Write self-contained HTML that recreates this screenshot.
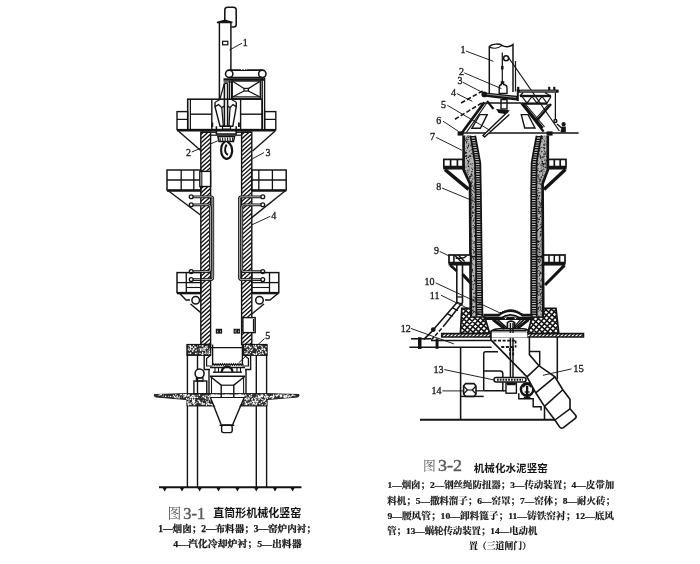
<!DOCTYPE html>
<html lang="zh"><head><meta charset="utf-8"><title>图3-1 直筒形机械化竖窑 / 图3-2 机械化水泥竖窑</title>
<style>
html,body{margin:0;padding:0;background:#fff;}
body{width:700px;height:564px;overflow:hidden;font-family:"Liberation Serif",serif;}
svg{display:block;filter:blur(0.45px);}
svg text{font-family:"Liberation Serif",serif;fill:#1e1e1e;stroke:#1e1e1e;stroke-width:0.35px;}
</style></head><body>
<svg width="700" height="564" viewBox="0 0 700 564" fill="none" stroke="#141414" stroke-linecap="butt" stroke-linejoin="miter">
<rect width="700" height="564" fill="#fff" stroke="none"/>
<g id="fig31">
<path d="M224.8 21V10Q224.8 7.2 227.6 7.2H233.4Q236.2 7.2 236.2 10V24.6Q236.2 27 233.6 27H231.2" stroke-width="1.55" fill="none" />
<path d="M219.4 22.5L219.4 99" stroke-width="1.47" />
<path d="M230.9 22.5L230.9 70" stroke-width="1.47" />
<path d="M217 22.4L225 20.4L232.4 22.4L217 22.4Z" stroke-width="1.55" fill="#141414" />
<rect x="222.6" y="41.3" width="5.2" height="3.5" rx="0" stroke-width="1.24" fill="none" />
<path d="M242 43.2L229.5 50" stroke-width="0.93" />
<text x="245.3" y="45.8" font-size="10" text-anchor="middle" >1</text>
<circle cx="229.2" cy="73.8" r="3.7" stroke-width="1.55" fill="none" />
<circle cx="262.3" cy="73.8" r="3.7" stroke-width="1.55" fill="none" />
<path d="M229.2 70.1L262.3 70.1" stroke-width="1.86" />
<path d="M229.2 77.5L262.3 77.5" stroke-width="1.55" />
<path d="M241 69.2L247 69.2" stroke-width="1.55" stroke="#fff" stroke-dasharray="1.2 1.5"/>
<path d="M223.5 79.6L264 79.6" stroke-width="2.48" />
<path d="M223.5 82L232 82" stroke-width="1.24" />
<rect x="232.2" y="81" width="28.2" height="17.8" rx="0" stroke-width="1.4" fill="none" />
<path d="M233 81.6L244 88.6" stroke-width="1.24" fill="none" />
<path d="M259.6 81.6L248.4 88.6" stroke-width="1.24" fill="none" />
<rect x="244" y="88.4" width="4.4" height="2.6" rx="0" stroke-width="1.24" fill="none" />
<path d="M244 91L233 96.8" stroke-width="1.24" fill="none" />
<path d="M248.4 91L259.6 96.8" stroke-width="1.24" fill="none" />
<path d="M232.2 96.9L260.4 96.9" stroke-width="1.24" />
<path d="M262.2 77.5L262.2 129.6" stroke-width="1.4" />
<path d="M264.6 77.5L264.6 129.6" stroke-width="1.4" />
<path d="M229.6 80.6L229.6 99.5" stroke-width="1.24" />
<path d="M231.6 80.6L231.6 99.5" stroke-width="1.24" />
<path d="M224.4 83.5L224.4 126" stroke-width="1.55" />
<path d="M227.6 83.5L227.6 126" stroke-width="1.55" />
<path d="M224.4 83.5L227.6 83.5" stroke-width="1.24" />
<path d="M224.2 84L220 98.8" stroke-width="1.24" />
<rect x="187.7" y="99.2" width="74.5" height="30.4" rx="0" stroke-width="1.55" fill="none" />
<path d="M190.4 99.2L190.4 129.6" stroke-width="1.24" />
<path d="M211.8 99.2L211.8 129.6" stroke-width="1.4" />
<path d="M240.6 99.2L240.6 129.6" stroke-width="1.4" />
<path d="M190.4 114.2L211.8 114.2" stroke-width="1.4" />
<path d="M240.6 114.2L262.2 114.2" stroke-width="1.4" />
<rect x="177" y="111.6" width="10.7" height="18" rx="0" stroke-width="1.4" fill="none" />
<path d="M177 119.4L187.7 119.4" stroke-width="1.24" />
<rect x="264.6" y="111.6" width="11.2" height="18" rx="0" stroke-width="1.4" fill="none" />
<path d="M264.6 119.4L275.8 119.4" stroke-width="1.24" />
<path d="M177 130.3L275.8 130.3" stroke-width="2.63" />
<path d="M178.6 131.3L200.4 150.3" stroke-width="1.4" fill="none" />
<path d="M274.9 131.3L252.6 151" stroke-width="1.4" fill="none" />
<path d="M215 102.3L215 106.6L220 126.2L232.8 126.2L236.3 106.6L236.3 102.3" stroke-width="1.4" fill="none" />
<path d="M215 106.6L218.6 104.6L221.8 107.6L224.4 106" stroke-width="1.24" fill="none" />
<path d="M236.3 106.6L233 104.6L230 107.6L227.6 106" stroke-width="1.24" fill="none" />
<path d="M221.8 107.6L223.3 126" stroke-width="1.24" fill="none" />
<path d="M230 107.6L229 126" stroke-width="1.24" fill="none" />
<path d="M215 102.3L220 99.5" stroke-width="1.08" fill="none" />
<path d="M236.3 102.3L231.6 99.5" stroke-width="1.08" fill="none" />
<path d="M216.4 126.2L216.4 134L236.2 134L236.2 126.2" stroke-width="1.55" fill="none" />
<rect x="222.5" y="126.2" width="8" height="3" rx="0" stroke-width="1.24" fill="none" />
<path d="M212.3 122.5L212.3 127" stroke-width="1.86" />
<path d="M238.9 122.5L238.9 127" stroke-width="1.86" />
<path d="M217.9 136.6H234.6L233.5 141.5H219Z" stroke-width="1.4" fill="none" />
<path d="M220 137.5L220.3 141.3" stroke-width="1.08" />
<path d="M222.5 137.5L222.8 141.3" stroke-width="1.08" />
<path d="M225 137.5L225.3 141.3" stroke-width="1.08" />
<path d="M227.5 137.5L227.8 141.3" stroke-width="1.08" />
<path d="M230 137.5L230.3 141.3" stroke-width="1.08" />
<path d="M232.5 137.5L232.8 141.3" stroke-width="1.08" />
<path d="M216 135.2L236.6 135.2" stroke-width="1.24" />
<path d="M225 141.6C219.6 145 220 156 225.4 158.6C231 160 233.4 152 231.4 146.4C230.4 143.8 228.6 142.4 227.4 141.6" stroke-width="2.17" fill="none" />
<path d="M226.6 144.6C224.2 148.6 224.6 153.6 228 154.8" stroke-width="2.02" fill="none" />
<path d="M191.8 152L217.8 140.8" stroke-width="0.93" />
<text x="188.5" y="156" font-size="10" text-anchor="middle" >2</text>
<path d="M264 152.6L249 160.6" stroke-width="0.93" />
<text x="268" y="155.5" font-size="10" text-anchor="middle" >3</text>
<clipPath id="c1"><path d="M200.8 132.2L210.6 132.2L210.6 344.5L200.8 344.5Z"/></clipPath>
<path d="M200.8 132.2L210.6 132.2L210.6 344.5L200.8 344.5Z" fill="#fff" stroke="none"/>
<path clip-path="url(#c1)" d="M52.8 230.34L213.71 85.45M54.88 232.64L215.79 87.76M56.95 234.94L217.86 90.06M59.03 237.25L219.94 92.36M61.1 239.55L222.01 94.67M63.17 241.86L224.08 96.97M65.25 244.16L226.16 99.28M67.32 246.46L228.23 101.58M69.4 248.77L230.31 103.88M71.47 251.07L232.38 106.19M73.55 253.37L234.46 108.49M75.62 255.68L236.53 110.79M77.69 257.98L238.6 113.1M79.77 260.29L240.68 115.4M81.84 262.59L242.75 117.71M83.92 264.89L244.83 120.01M85.99 267.2L246.9 122.31M88.07 269.5L248.98 124.62M90.14 271.8L251.05 126.92M92.21 274.11L253.12 129.22M94.29 276.41L255.2 131.53M96.36 278.72L257.27 133.83M98.44 281.02L259.35 136.14M100.51 283.32L261.42 138.44M102.59 285.63L263.5 140.74M104.66 287.93L265.57 143.05M106.73 290.23L267.64 145.35M108.81 292.54L269.72 147.65M110.88 294.84L271.79 149.96M112.96 297.15L273.87 152.26M115.03 299.45L275.94 154.57M117.11 301.75L278.02 156.87M119.18 304.06L280.09 159.17M121.25 306.36L282.17 161.48M123.33 308.66L284.24 163.78M125.4 310.97L286.31 166.08M127.48 313.27L288.39 168.39M129.55 315.58L290.46 170.69M131.63 317.88L292.54 173M133.7 320.18L294.61 175.3M135.77 322.49L296.69 177.6M137.85 324.79L298.76 179.91M139.92 327.09L300.83 182.21M142 329.4L302.91 184.51M144.07 331.7L304.98 186.82M146.15 334.01L307.06 189.12M148.22 336.31L309.13 191.43M150.3 338.61L311.21 193.73M152.37 340.92L313.28 196.03M154.44 343.22L315.35 198.34M156.52 345.52L317.43 200.64M158.59 347.83L319.5 202.94M160.67 350.13L321.58 205.25M162.74 352.44L323.65 207.55M164.82 354.74L325.73 209.86M166.89 357.04L327.8 212.16M168.96 359.35L329.87 214.46M171.04 361.65L331.95 216.77M173.11 363.95L334.02 219.07M175.19 366.26L336.1 221.37M177.26 368.56L338.17 223.68M179.34 370.87L340.25 225.98M181.41 373.17L342.32 228.29M183.48 375.47L344.39 230.59M185.56 377.78L346.47 232.89M187.63 380.08L348.54 235.2M189.71 382.38L350.62 237.5M191.78 384.69L352.69 239.8M193.86 386.99L354.77 242.11M195.93 389.3L356.84 244.41" stroke-width="1.35"/>
<path d="M200.8 132.2L210.6 132.2L210.6 344.5L200.8 344.5Z" stroke-width="1.4" fill="none" />
<clipPath id="c2"><path d="M241.6 132.2L251.8 132.2L251.8 344.5L241.6 344.5Z"/></clipPath>
<path d="M241.6 132.2L251.8 132.2L251.8 344.5L241.6 344.5Z" fill="#fff" stroke="none"/>
<path clip-path="url(#c2)" d="M93.79 230.34L254.71 85.44M95.86 232.64L256.79 87.74M97.94 234.94L258.86 90.05M100.01 237.25L260.94 92.35M102.09 239.55L263.01 94.65M104.16 241.86L265.09 96.96M106.24 244.16L267.16 99.26M108.31 246.46L269.23 101.57M110.38 248.77L271.31 103.87M112.46 251.07L273.38 106.17M114.53 253.37L275.46 108.48M116.61 255.68L277.53 110.78M118.68 257.98L279.61 113.08M120.76 260.29L281.68 115.39M122.83 262.59L283.75 117.69M124.9 264.89L285.83 120M126.98 267.2L287.9 122.3M129.05 269.5L289.98 124.6M131.13 271.8L292.05 126.91M133.2 274.11L294.13 129.21M135.28 276.41L296.2 131.51M137.35 278.72L298.27 133.82M139.42 281.02L300.35 136.12M141.5 283.32L302.42 138.43M143.57 285.63L304.5 140.73M145.65 287.93L306.57 143.03M147.72 290.23L308.65 145.34M149.8 292.54L310.72 147.64M151.87 294.84L312.79 149.94M153.94 297.15L314.87 152.25M156.02 299.45L316.94 154.55M158.09 301.75L319.02 156.86M160.17 304.06L321.09 159.16M162.24 306.36L323.17 161.46M164.32 308.66L325.24 163.77M166.39 310.97L327.31 166.07M168.46 313.27L329.39 168.37M170.54 315.58L331.46 170.68M172.61 317.88L333.54 172.98M174.69 320.18L335.61 175.29M176.76 322.49L337.69 177.59M178.84 324.79L339.76 179.89M180.91 327.09L341.83 182.2M182.98 329.4L343.91 184.5M185.06 331.7L345.98 186.8M187.13 334.01L348.06 189.11M189.21 336.31L350.13 191.41M191.28 338.61L352.21 193.72M193.36 340.92L354.28 196.02M195.43 343.22L356.35 198.32M197.5 345.52L358.43 200.63M199.58 347.83L360.5 202.93M201.65 350.13L362.58 205.23M203.73 352.43L364.65 207.54M205.8 354.74L366.73 209.84M207.88 357.04L368.8 212.15M209.95 359.35L370.87 214.45M212.02 361.65L372.95 216.75M214.1 363.95L375.02 219.06M216.17 366.26L377.1 221.36M218.25 368.56L379.17 223.66M220.32 370.86L381.25 225.97M222.4 373.17L383.32 228.27M224.47 375.47L385.39 230.58M226.54 377.78L387.47 232.88M228.62 380.08L389.54 235.18M230.69 382.38L391.62 237.49M232.77 384.69L393.69 239.79M234.84 386.99L395.77 242.09M236.92 389.29L397.84 244.4" stroke-width="1.35"/>
<path d="M241.6 132.2L251.8 132.2L251.8 344.5L241.6 344.5Z" stroke-width="1.4" fill="none" />
<path d="M200.8 132.2L216.4 132.2" stroke-width="1.4" />
<path d="M236.2 132.2L251.8 132.2" stroke-width="1.4" />
<path d="M210.6 135.2L216.4 135.2" stroke-width="1.24" fill="none" />
<path d="M236.2 135.2L241.6 135.2" stroke-width="1.24" fill="none" />
<rect x="167" y="170" width="33.8" height="20" rx="0" stroke-width="1.47" fill="none" />
<rect x="251.8" y="170" width="34.4" height="20" rx="0" stroke-width="1.47" fill="none" />
<path d="M167 180L200.8 180" stroke-width="1.32" />
<path d="M251.8 180L286.2 180" stroke-width="1.32" />
<path d="M181.2 170L181.2 190" stroke-width="1.32" />
<path d="M193.8 170L193.8 190" stroke-width="1.32" />
<path d="M258.8 170L258.8 190" stroke-width="1.32" />
<path d="M272.4 170L272.4 190" stroke-width="1.32" />
<rect x="199.8" y="171.4" width="10.8" height="15.1" rx="0" stroke-width="1.4" fill="#fff" />
<path d="M201.8 171.4L201.8 186.5" stroke-width="1.08" />
<path d="M167 190.7L200.8 190.7" stroke-width="2.02" />
<path d="M251.8 190.7L286.2 190.7" stroke-width="2.02" />
<path d="M168.6 191L200.8 215.3" stroke-width="1.4" fill="none" />
<path d="M285 191L251.8 217.6" stroke-width="1.4" fill="none" />
<path d="M192.8 196.8H210.8Q212.8 196.8 212.8 198.8V277.6Q212.8 279.6 210.8 279.6H192.8" stroke-width="2.7"/>
<path d="M192.8 196.8H210.8Q212.8 196.8 212.8 198.8V277.6Q212.8 279.6 210.8 279.6H192.8" stroke="#fff" stroke-width="0.7"/>
<circle cx="191.2" cy="196.8" r="1.9" stroke-width="1.32" fill="#fff" />
<circle cx="191.2" cy="279.6" r="1.9" stroke-width="1.32" fill="#fff" />
<path d="M192.8 204.8H208.4Q210.4 204.8 210.4 206.8V269.6Q210.4 271.6 208.4 271.6H192.8" stroke-width="2.7"/>
<path d="M192.8 204.8H208.4Q210.4 204.8 210.4 206.8V269.6Q210.4 271.6 208.4 271.6H192.8" stroke="#fff" stroke-width="0.7"/>
<circle cx="191.2" cy="204.8" r="1.9" stroke-width="1.32" fill="#fff" />
<circle cx="191.2" cy="271.6" r="1.9" stroke-width="1.32" fill="#fff" />
<path d="M261.2 196.8H241.4Q239.4 196.8 239.4 198.8V277.6Q239.4 279.6 241.4 279.6H261.2" stroke-width="2.7"/>
<path d="M261.2 196.8H241.4Q239.4 196.8 239.4 198.8V277.6Q239.4 279.6 241.4 279.6H261.2" stroke="#fff" stroke-width="0.7"/>
<circle cx="262.8" cy="196.8" r="1.9" stroke-width="1.32" fill="#fff" />
<circle cx="262.8" cy="279.6" r="1.9" stroke-width="1.32" fill="#fff" />
<path d="M261.2 204.8H243.8Q241.8 204.8 241.8 206.8V269.6Q241.8 271.6 243.8 271.6H261.2" stroke-width="2.7"/>
<path d="M261.2 204.8H243.8Q241.8 204.8 241.8 206.8V269.6Q241.8 271.6 243.8 271.6H261.2" stroke="#fff" stroke-width="0.7"/>
<circle cx="262.8" cy="204.8" r="1.9" stroke-width="1.32" fill="#fff" />
<circle cx="262.8" cy="271.6" r="1.9" stroke-width="1.32" fill="#fff" />
<path d="M270.3 216.3L251.5 225" stroke-width="0.93" />
<text x="273.8" y="219" font-size="10" text-anchor="middle" >4</text>
<rect x="177" y="272.6" width="23.8" height="20" rx="0" stroke-width="1.47" fill="none" />
<rect x="251.8" y="272.6" width="27" height="20" rx="0" stroke-width="1.47" fill="none" />
<path d="M177 282.6L200.8 282.6" stroke-width="1.32" />
<path d="M251.8 282.6L278.8 282.6" stroke-width="1.32" />
<path d="M186.3 272.6L186.3 292.6" stroke-width="1.32" />
<path d="M269.5 272.6L269.5 292.6" stroke-width="1.32" />
<path d="M186.3 287.5L200.8 287.5" stroke-width="1.08" />
<path d="M251.8 287.5L269.5 287.5" stroke-width="1.08" />
<path d="M177 293.3L200.8 293.3" stroke-width="2.02" />
<path d="M251.8 293.3L278.8 293.3" stroke-width="2.02" />
<path d="M180 293.8L186 300L190 300" stroke-width="1.4" fill="none" />
<path d="M190.5 304L200.8 312.6" stroke-width="1.4" fill="none" />
<path d="M277.6 293.8L270 300L265 300" stroke-width="1.4" fill="none" />
<path d="M264 304L251.8 314" stroke-width="1.4" fill="none" />
<circle cx="195.7" cy="300.2" r="3.8" stroke-width="1.47" fill="#fff" />
<circle cx="259.5" cy="300.2" r="3.8" stroke-width="1.47" fill="#fff" />
<rect x="242.9" y="317.6" width="12.3" height="15" rx="0" stroke-width="1.4" fill="#fff" />
<path d="M253.6 319L253.6 331.5" stroke-width="1.4" />
<rect x="216.4" y="329.4" width="1.9" height="3.6" rx="0" stroke-width="1.24" fill="none" />
<rect x="219.6" y="329.4" width="1.9" height="3.6" rx="0" stroke-width="1.24" fill="none" />
<rect x="234.2" y="329.4" width="1.9" height="3.6" rx="0" stroke-width="1.24" fill="none" />
<rect x="237.4" y="329.4" width="1.9" height="3.6" rx="0" stroke-width="1.24" fill="none" />
<path d="M264.5 338.5L238.5 363" stroke-width="0.93" />
<text x="267.8" y="338.8" font-size="10" text-anchor="middle" >5</text>
<rect x="187" y="344.6" width="23.6" height="10.6" rx="0" stroke-width="1.4" fill="#2c2c2c" />
<path d="M194.28 346.79a0.71 0.71 0 1 0 1.42 0a0.71 0.71 0 1 0 -1.42 0M188.81 350.33a0.6 0.6 0 1 0 1.19 0a0.6 0.6 0 1 0 -1.19 0M188.62 350.07a0.46 0.46 0 1 0 0.93 0a0.46 0.46 0 1 0 -0.93 0M196.94 346.04a0.49 0.49 0 1 0 0.97 0a0.49 0.49 0 1 0 -0.97 0M196.72 353.01a0.5 0.5 0 1 0 1 0a0.5 0.5 0 1 0 -1 0M191.93 351.17a0.83 0.83 0 1 0 1.66 0a0.83 0.83 0 1 0 -1.66 0M199.77 349.05a0.84 0.84 0 1 0 1.68 0a0.84 0.84 0 1 0 -1.68 0M188.27 353.3a0.57 0.57 0 1 0 1.13 0a0.57 0.57 0 1 0 -1.13 0M190.43 346.48a0.57 0.57 0 1 0 1.15 0a0.57 0.57 0 1 0 -1.15 0M205.24 347.06a0.68 0.68 0 1 0 1.37 0a0.68 0.68 0 1 0 -1.37 0M201.31 348.83a0.67 0.67 0 1 0 1.34 0a0.67 0.67 0 1 0 -1.34 0M188.66 345.95a0.53 0.53 0 1 0 1.06 0a0.53 0.53 0 1 0 -1.06 0M202.33 349.33a0.58 0.58 0 1 0 1.15 0a0.58 0.58 0 1 0 -1.15 0M200.23 349.57a0.57 0.57 0 1 0 1.14 0a0.57 0.57 0 1 0 -1.14 0M204.89 351.83a0.55 0.55 0 1 0 1.1 0a0.55 0.55 0 1 0 -1.1 0M199.75 350.23a0.8 0.8 0 1 0 1.6 0a0.8 0.8 0 1 0 -1.6 0M203.15 348.05a0.84 0.84 0 1 0 1.68 0a0.84 0.84 0 1 0 -1.68 0M189.67 349.25a0.75 0.75 0 1 0 1.51 0a0.75 0.75 0 1 0 -1.51 0M190.71 349.9a0.47 0.47 0 1 0 0.93 0a0.47 0.47 0 1 0 -0.93 0M201.96 352.43a0.68 0.68 0 1 0 1.36 0a0.68 0.68 0 1 0 -1.36 0M206.51 348.29a0.73 0.73 0 1 0 1.46 0a0.73 0.73 0 1 0 -1.46 0M200.36 350.74a0.63 0.63 0 1 0 1.26 0a0.63 0.63 0 1 0 -1.26 0M205.81 354.09a0.64 0.64 0 1 0 1.28 0a0.64 0.64 0 1 0 -1.28 0M201.81 345.96a0.73 0.73 0 1 0 1.46 0a0.73 0.73 0 1 0 -1.46 0M201.39 354.54a0.78 0.78 0 1 0 1.56 0a0.78 0.78 0 1 0 -1.56 0M193.4 348.95a0.72 0.72 0 1 0 1.43 0a0.72 0.72 0 1 0 -1.43 0M187.78 349.65a0.52 0.52 0 1 0 1.03 0a0.52 0.52 0 1 0 -1.03 0M189.64 345.94a0.76 0.76 0 1 0 1.51 0a0.76 0.76 0 1 0 -1.51 0M190.06 347.68a0.61 0.61 0 1 0 1.21 0a0.61 0.61 0 1 0 -1.21 0M206.52 346.14a0.63 0.63 0 1 0 1.26 0a0.63 0.63 0 1 0 -1.26 0M199.22 353.53a0.78 0.78 0 1 0 1.56 0a0.78 0.78 0 1 0 -1.56 0M206.36 347.96a0.62 0.62 0 1 0 1.23 0a0.62 0.62 0 1 0 -1.23 0M194.93 353.53a0.83 0.83 0 1 0 1.67 0a0.83 0.83 0 1 0 -1.67 0M190.61 347.02a0.54 0.54 0 1 0 1.09 0a0.54 0.54 0 1 0 -1.09 0M192.29 349.86a0.69 0.69 0 1 0 1.37 0a0.69 0.69 0 1 0 -1.37 0M193.02 345.44a0.62 0.62 0 1 0 1.24 0a0.62 0.62 0 1 0 -1.24 0M195.17 350.61a0.83 0.83 0 1 0 1.66 0a0.83 0.83 0 1 0 -1.66 0M202.43 350.14a0.7 0.7 0 1 0 1.39 0a0.7 0.7 0 1 0 -1.39 0M202 345.9a0.81 0.81 0 1 0 1.62 0a0.81 0.81 0 1 0 -1.62 0M204.35 353.45a0.77 0.77 0 1 0 1.54 0a0.77 0.77 0 1 0 -1.54 0M196.02 349.07a0.49 0.49 0 1 0 0.98 0a0.49 0.49 0 1 0 -0.98 0M201.4 345.97a0.48 0.48 0 1 0 0.95 0a0.48 0.48 0 1 0 -0.95 0M191.85 346.89a0.59 0.59 0 1 0 1.17 0a0.59 0.59 0 1 0 -1.17 0M188.46 345.4a0.51 0.51 0 1 0 1.02 0a0.51 0.51 0 1 0 -1.02 0M189.59 348.75a0.46 0.46 0 1 0 0.92 0a0.46 0.46 0 1 0 -0.92 0M206.7 351.05a0.51 0.51 0 1 0 1.02 0a0.51 0.51 0 1 0 -1.02 0M192.8 348.6a0.6 0.6 0 1 0 1.19 0a0.6 0.6 0 1 0 -1.19 0M189.68 353.21a0.85 0.85 0 1 0 1.69 0a0.85 0.85 0 1 0 -1.69 0M197.66 349.85a0.48 0.48 0 1 0 0.97 0a0.48 0.48 0 1 0 -0.97 0M189.51 348.55a0.56 0.56 0 1 0 1.11 0a0.56 0.56 0 1 0 -1.11 0M205.74 346.89a0.46 0.46 0 1 0 0.92 0a0.46 0.46 0 1 0 -0.92 0M208.4 350.26a0.51 0.51 0 1 0 1.02 0a0.51 0.51 0 1 0 -1.02 0M199.2 345.65a0.66 0.66 0 1 0 1.32 0a0.66 0.66 0 1 0 -1.32 0M208.79 353.34a0.73 0.73 0 1 0 1.46 0a0.73 0.73 0 1 0 -1.46 0M193.08 348.77a0.52 0.52 0 1 0 1.03 0a0.52 0.52 0 1 0 -1.03 0M204.18 350.3a0.76 0.76 0 1 0 1.52 0a0.76 0.76 0 1 0 -1.52 0M194.34 347.45a0.77 0.77 0 1 0 1.55 0a0.77 0.77 0 1 0 -1.55 0M208.89 353.24a0.77 0.77 0 1 0 1.54 0a0.77 0.77 0 1 0 -1.54 0M205.43 352.21a0.54 0.54 0 1 0 1.08 0a0.54 0.54 0 1 0 -1.08 0M198.83 348.67a0.46 0.46 0 1 0 0.92 0a0.46 0.46 0 1 0 -0.92 0M187.87 347.97a0.55 0.55 0 1 0 1.11 0a0.55 0.55 0 1 0 -1.11 0M202.55 354.2a0.63 0.63 0 1 0 1.26 0a0.63 0.63 0 1 0 -1.26 0M207.77 354.49a0.83 0.83 0 1 0 1.66 0a0.83 0.83 0 1 0 -1.66 0M195.35 347.43a0.54 0.54 0 1 0 1.08 0a0.54 0.54 0 1 0 -1.08 0M191.47 347.28a0.7 0.7 0 1 0 1.4 0a0.7 0.7 0 1 0 -1.4 0M207.15 353.13a0.64 0.64 0 1 0 1.28 0a0.64 0.64 0 1 0 -1.28 0M201.81 352.76a0.48 0.48 0 1 0 0.97 0a0.48 0.48 0 1 0 -0.97 0M201.7 353.77a0.76 0.76 0 1 0 1.53 0a0.76 0.76 0 1 0 -1.53 0M203.93 349.8a0.52 0.52 0 1 0 1.04 0a0.52 0.52 0 1 0 -1.04 0M204.55 348.46a0.77 0.77 0 1 0 1.54 0a0.77 0.77 0 1 0 -1.54 0M208.76 349.04a0.61 0.61 0 1 0 1.22 0a0.61 0.61 0 1 0 -1.22 0M208.3 352.07a0.52 0.52 0 1 0 1.04 0a0.52 0.52 0 1 0 -1.04 0M189.81 346.79a0.81 0.81 0 1 0 1.62 0a0.81 0.81 0 1 0 -1.62 0M204.92 346.74a0.78 0.78 0 1 0 1.56 0a0.78 0.78 0 1 0 -1.56 0M208.97 351.45a0.59 0.59 0 1 0 1.18 0a0.59 0.59 0 1 0 -1.18 0" fill="#fff" stroke="none"/>
<rect x="243" y="344.6" width="24" height="10.6" rx="0" stroke-width="1.4" fill="#2c2c2c" />
<path d="M255.65 346.61a0.46 0.46 0 1 0 0.91 0a0.46 0.46 0 1 0 -0.91 0M265.08 351.38a0.66 0.66 0 1 0 1.32 0a0.66 0.66 0 1 0 -1.32 0M264.09 349.39a0.8 0.8 0 1 0 1.6 0a0.8 0.8 0 1 0 -1.6 0M261.89 347.34a0.55 0.55 0 1 0 1.1 0a0.55 0.55 0 1 0 -1.1 0M249.6 347.61a0.68 0.68 0 1 0 1.37 0a0.68 0.68 0 1 0 -1.37 0M249.01 349.25a0.5 0.5 0 1 0 1 0a0.5 0.5 0 1 0 -1 0M263.72 348.65a0.63 0.63 0 1 0 1.27 0a0.63 0.63 0 1 0 -1.27 0M256.28 353.72a0.62 0.62 0 1 0 1.24 0a0.62 0.62 0 1 0 -1.24 0M263.86 350.02a0.66 0.66 0 1 0 1.33 0a0.66 0.66 0 1 0 -1.33 0M254.91 345.57a0.63 0.63 0 1 0 1.25 0a0.63 0.63 0 1 0 -1.25 0M247.01 345.44a0.77 0.77 0 1 0 1.54 0a0.77 0.77 0 1 0 -1.54 0M246.79 349.76a0.74 0.74 0 1 0 1.48 0a0.74 0.74 0 1 0 -1.48 0M255.63 348.4a0.66 0.66 0 1 0 1.31 0a0.66 0.66 0 1 0 -1.31 0M255.77 352.62a0.49 0.49 0 1 0 0.98 0a0.49 0.49 0 1 0 -0.98 0M255.81 347.69a0.56 0.56 0 1 0 1.12 0a0.56 0.56 0 1 0 -1.12 0M260.53 350.07a0.67 0.67 0 1 0 1.35 0a0.67 0.67 0 1 0 -1.35 0M260.3 353.79a0.63 0.63 0 1 0 1.25 0a0.63 0.63 0 1 0 -1.25 0M256.91 350.05a0.65 0.65 0 1 0 1.31 0a0.65 0.65 0 1 0 -1.31 0M258.73 349.56a0.66 0.66 0 1 0 1.33 0a0.66 0.66 0 1 0 -1.33 0M253.77 354.06a0.73 0.73 0 1 0 1.46 0a0.73 0.73 0 1 0 -1.46 0M263.03 354.07a0.55 0.55 0 1 0 1.11 0a0.55 0.55 0 1 0 -1.11 0M255.57 354.08a0.79 0.79 0 1 0 1.57 0a0.79 0.79 0 1 0 -1.57 0M246.1 346.52a0.63 0.63 0 1 0 1.25 0a0.63 0.63 0 1 0 -1.25 0M244.77 347.61a0.48 0.48 0 1 0 0.96 0a0.48 0.48 0 1 0 -0.96 0M258.06 352.61a0.81 0.81 0 1 0 1.62 0a0.81 0.81 0 1 0 -1.62 0M246.41 351.99a0.71 0.71 0 1 0 1.43 0a0.71 0.71 0 1 0 -1.43 0M246.02 353.52a0.84 0.84 0 1 0 1.67 0a0.84 0.84 0 1 0 -1.67 0M248 354.16a0.61 0.61 0 1 0 1.22 0a0.61 0.61 0 1 0 -1.22 0M253.93 354.51a0.78 0.78 0 1 0 1.57 0a0.78 0.78 0 1 0 -1.57 0M246.63 349.37a0.66 0.66 0 1 0 1.31 0a0.66 0.66 0 1 0 -1.31 0M250.75 347.2a0.58 0.58 0 1 0 1.15 0a0.58 0.58 0 1 0 -1.15 0M259.39 345.58a0.67 0.67 0 1 0 1.34 0a0.67 0.67 0 1 0 -1.34 0M253.06 345.57a0.58 0.58 0 1 0 1.17 0a0.58 0.58 0 1 0 -1.17 0M257.35 350.11a0.48 0.48 0 1 0 0.95 0a0.48 0.48 0 1 0 -0.95 0M265.22 352.65a0.84 0.84 0 1 0 1.68 0a0.84 0.84 0 1 0 -1.68 0M245.52 347.84a0.47 0.47 0 1 0 0.93 0a0.47 0.47 0 1 0 -0.93 0M260.86 347.89a0.5 0.5 0 1 0 1 0a0.5 0.5 0 1 0 -1 0M252.45 353.79a0.78 0.78 0 1 0 1.56 0a0.78 0.78 0 1 0 -1.56 0M248.68 346.77a0.82 0.82 0 1 0 1.64 0a0.82 0.82 0 1 0 -1.64 0M256.12 351.84a0.49 0.49 0 1 0 0.97 0a0.49 0.49 0 1 0 -0.97 0M244.29 351.73a0.62 0.62 0 1 0 1.24 0a0.62 0.62 0 1 0 -1.24 0M244.55 354.03a0.7 0.7 0 1 0 1.41 0a0.7 0.7 0 1 0 -1.41 0M261.08 346.17a0.79 0.79 0 1 0 1.58 0a0.79 0.79 0 1 0 -1.58 0M244.49 353.34a0.63 0.63 0 1 0 1.26 0a0.63 0.63 0 1 0 -1.26 0M250.51 350.49a0.82 0.82 0 1 0 1.64 0a0.82 0.82 0 1 0 -1.64 0M249.05 346.59a0.66 0.66 0 1 0 1.32 0a0.66 0.66 0 1 0 -1.32 0M248.52 346.41a0.51 0.51 0 1 0 1.03 0a0.51 0.51 0 1 0 -1.03 0M244.17 347.26a0.57 0.57 0 1 0 1.15 0a0.57 0.57 0 1 0 -1.15 0M249.99 352.39a0.57 0.57 0 1 0 1.13 0a0.57 0.57 0 1 0 -1.13 0M254.41 347.04a0.59 0.59 0 1 0 1.18 0a0.59 0.59 0 1 0 -1.18 0M243.56 347.7a0.46 0.46 0 1 0 0.91 0a0.46 0.46 0 1 0 -0.91 0M259.79 350.47a0.53 0.53 0 1 0 1.05 0a0.53 0.53 0 1 0 -1.05 0M253.93 354a0.49 0.49 0 1 0 0.99 0a0.49 0.49 0 1 0 -0.99 0M261.62 349.38a0.65 0.65 0 1 0 1.3 0a0.65 0.65 0 1 0 -1.3 0M261.98 349.02a0.65 0.65 0 1 0 1.31 0a0.65 0.65 0 1 0 -1.31 0M258.69 354.44a0.59 0.59 0 1 0 1.17 0a0.59 0.59 0 1 0 -1.17 0M261.87 351.9a0.7 0.7 0 1 0 1.41 0a0.7 0.7 0 1 0 -1.41 0M252.36 348.6a0.47 0.47 0 1 0 0.94 0a0.47 0.47 0 1 0 -0.94 0M245.81 346.05a0.75 0.75 0 1 0 1.49 0a0.75 0.75 0 1 0 -1.49 0M248.94 346.9a0.48 0.48 0 1 0 0.97 0a0.48 0.48 0 1 0 -0.97 0M262.06 353.41a0.72 0.72 0 1 0 1.44 0a0.72 0.72 0 1 0 -1.44 0M249.46 347.63a0.57 0.57 0 1 0 1.13 0a0.57 0.57 0 1 0 -1.13 0M253.45 346.85a0.63 0.63 0 1 0 1.26 0a0.63 0.63 0 1 0 -1.26 0M248.76 354.25a0.84 0.84 0 1 0 1.68 0a0.84 0.84 0 1 0 -1.68 0M255.24 347.65a0.84 0.84 0 1 0 1.67 0a0.84 0.84 0 1 0 -1.67 0M250.21 348.68a0.45 0.45 0 1 0 0.9 0a0.45 0.45 0 1 0 -0.9 0M251.65 349.77a0.65 0.65 0 1 0 1.3 0a0.65 0.65 0 1 0 -1.3 0M247.73 350.04a0.45 0.45 0 1 0 0.9 0a0.45 0.45 0 1 0 -0.9 0M249.01 346.23a0.61 0.61 0 1 0 1.22 0a0.61 0.61 0 1 0 -1.22 0M243.98 345.61a0.57 0.57 0 1 0 1.14 0a0.57 0.57 0 1 0 -1.14 0M248.25 350.79a0.66 0.66 0 1 0 1.32 0a0.66 0.66 0 1 0 -1.32 0M259.98 351.45a0.74 0.74 0 1 0 1.47 0a0.74 0.74 0 1 0 -1.47 0M263.06 348.98a0.58 0.58 0 1 0 1.16 0a0.58 0.58 0 1 0 -1.16 0M265.31 346.78a0.74 0.74 0 1 0 1.48 0a0.74 0.74 0 1 0 -1.48 0M257.48 345.8a0.78 0.78 0 1 0 1.57 0a0.78 0.78 0 1 0 -1.57 0" fill="#fff" stroke="none"/>
<path d="M187.4 355.2L187.4 487" stroke-width="1.4" />
<path d="M197.5 355.2L197.5 487" stroke-width="1.4" />
<path d="M256.3 355.2L256.3 487" stroke-width="1.4" />
<path d="M266.6 355.2L266.6 487" stroke-width="1.4" />
<path d="M212.6 344.6L212.6 365.2" stroke-width="1.4" fill="none" />
<path d="M242.4 344.6L242.4 365.2" stroke-width="1.4" fill="none" />
<path d="M210.6 347.6L244.2 347.6" stroke-width="1.24" />
<path d="M210.6 355.2L204.2 355.2L204.2 369.5L210 369.5" stroke-width="1.4" fill="none" />
<path d="M244.2 355.2L250.6 355.2L250.6 369.5L245 369.5" stroke-width="1.4" fill="none" />
<path d="M210.6 355.2L206.6 358.5L206.6 366L212.6 366" stroke-width="1.24" fill="none" />
<path d="M244.2 355.2L248.4 358.5L248.4 366L242.4 366" stroke-width="1.24" fill="none" />
<path d="M212.6 365.3l1.1 -1.5l1.1 1.5l1.1 -1.5l1.1 1.5l1.1 -1.5l1.1 1.5l1.1 -1.5l1.1 1.5l1.1 -1.5l1.1 1.5l1.1 -1.5l1.1 1.5l1.1 -1.5l1.1 1.5l1.1 -1.5l1.1 1.5l1.1 -1.5l1.1 1.5l1.1 -1.5l1.1 1.5l1.1 -1.5l1.1 1.5l1.1 -1.5l1.1 1.5l1.1 -1.5l1.1 1.5l1.1 -1.5l1.1 1.5" stroke-width="1.24" fill="none" />
<path d="M210 367.4L245 367.4" stroke-width="1.55" />
<path d="M221.7 372A5.4 5.4 0 0 1 232.5 372" stroke-width="2.33" fill="none" />
<path d="M213 372.2L242 372.2" stroke-width="1.4" />
<path d="M215 367.5L215 372" stroke-width="1.08" />
<path d="M218.5 367.5L218.5 372" stroke-width="1.08" />
<path d="M237 367.5L237 372" stroke-width="1.08" />
<path d="M240.5 367.5L240.5 372" stroke-width="1.08" />
<path d="M209 369.5L209 376" stroke-width="1.4" />
<path d="M246 369.5L246 376" stroke-width="1.4" />
<circle cx="199.6" cy="373.4" r="4.5" stroke-width="1.55" fill="#fff" />
<rect x="196.4" y="377.9" width="6.6" height="3.1" rx="0" stroke-width="1.24" fill="none" />
<rect x="193.9" y="381" width="12.9" height="13" rx="0" stroke-width="1.4" fill="none" />
<path d="M209 376L209 394" stroke-width="1.4" />
<path d="M246 376L246 394" stroke-width="1.4" />
<path d="M211.5 376L211.5 394" stroke-width="1.08" />
<path d="M243.6 376L243.6 394" stroke-width="1.08" />
<path d="M210 376.2L245 376.2" stroke-width="1.55" fill="none" />
<path d="M210 376.2L221.2 385.2L221.2 394.5" stroke-width="1.4" fill="none" />
<path d="M245 376.2L233.8 385.2L233.8 394.5" stroke-width="1.4" fill="none" />
<path d="M221.2 385.2L233.8 385.2" stroke-width="1.24" />
<path d="M154.5 394.5L187 393.6H266L299 394.5Q299.5 396.5 297.5 397L267 399.6V406H187V399.6L156 397Q153.5 396.5 154.5 394.5Z" fill="#2c2c2c" stroke-width="0.9"/>
<path d="M258.77 403.53a0.51 0.51 0 1 0 1.01 0a0.51 0.51 0 1 0 -1.01 0M229.49 400.15a0.78 0.78 0 1 0 1.57 0a0.78 0.78 0 1 0 -1.57 0M237.88 404.42a0.72 0.72 0 1 0 1.45 0a0.72 0.72 0 1 0 -1.45 0M253.22 397.13a0.46 0.46 0 1 0 0.92 0a0.46 0.46 0 1 0 -0.92 0M234.38 401.51a0.7 0.7 0 1 0 1.4 0a0.7 0.7 0 1 0 -1.4 0M251.48 399.98a0.45 0.45 0 1 0 0.9 0a0.45 0.45 0 1 0 -0.9 0M226.7 400.49a0.71 0.71 0 1 0 1.43 0a0.71 0.71 0 1 0 -1.43 0M192.25 395.42a0.56 0.56 0 1 0 1.11 0a0.56 0.56 0 1 0 -1.11 0M257.9 396.86a0.75 0.75 0 1 0 1.49 0a0.75 0.75 0 1 0 -1.49 0M210.07 399.87a0.72 0.72 0 1 0 1.45 0a0.72 0.72 0 1 0 -1.45 0M263.13 401.39a0.71 0.71 0 1 0 1.41 0a0.71 0.71 0 1 0 -1.41 0M168.14 396.22a0.55 0.55 0 1 0 1.1 0a0.55 0.55 0 1 0 -1.1 0M259.89 397.95a0.68 0.68 0 1 0 1.35 0a0.68 0.68 0 1 0 -1.35 0M159.16 395.27a0.56 0.56 0 1 0 1.12 0a0.56 0.56 0 1 0 -1.12 0M250.02 402.21a0.72 0.72 0 1 0 1.44 0a0.72 0.72 0 1 0 -1.44 0M197.5 400.28a0.64 0.64 0 1 0 1.27 0a0.64 0.64 0 1 0 -1.27 0M221.55 395.9a0.81 0.81 0 1 0 1.61 0a0.81 0.81 0 1 0 -1.61 0M286.57 394.79a0.63 0.63 0 1 0 1.27 0a0.63 0.63 0 1 0 -1.27 0M219.49 397.56a0.53 0.53 0 1 0 1.07 0a0.53 0.53 0 1 0 -1.07 0M287.81 396.92a0.68 0.68 0 1 0 1.37 0a0.68 0.68 0 1 0 -1.37 0M288.7 396.06a0.78 0.78 0 1 0 1.56 0a0.78 0.78 0 1 0 -1.56 0M227.48 404.36a0.73 0.73 0 1 0 1.46 0a0.73 0.73 0 1 0 -1.46 0M189.29 404.47a0.64 0.64 0 1 0 1.29 0a0.64 0.64 0 1 0 -1.29 0M160.78 394.64a0.65 0.65 0 1 0 1.29 0a0.65 0.65 0 1 0 -1.29 0M219.7 397.92a0.51 0.51 0 1 0 1.01 0a0.51 0.51 0 1 0 -1.01 0M204.68 398.08a0.79 0.79 0 1 0 1.57 0a0.79 0.79 0 1 0 -1.57 0M272.98 395.92a0.82 0.82 0 1 0 1.64 0a0.82 0.82 0 1 0 -1.64 0M255.83 404.52a0.57 0.57 0 1 0 1.13 0a0.57 0.57 0 1 0 -1.13 0M208.52 398.92a0.85 0.85 0 1 0 1.7 0a0.85 0.85 0 1 0 -1.7 0M238.69 398.57a0.62 0.62 0 1 0 1.24 0a0.62 0.62 0 1 0 -1.24 0M195.48 395.13a0.49 0.49 0 1 0 0.98 0a0.49 0.49 0 1 0 -0.98 0M272.36 397.74a0.82 0.82 0 1 0 1.65 0a0.82 0.82 0 1 0 -1.65 0M191.75 397.52a0.65 0.65 0 1 0 1.31 0a0.65 0.65 0 1 0 -1.31 0M233.32 402.52a0.47 0.47 0 1 0 0.94 0a0.47 0.47 0 1 0 -0.94 0M258.31 399.56a0.75 0.75 0 1 0 1.5 0a0.75 0.75 0 1 0 -1.5 0M246.47 397.75a0.47 0.47 0 1 0 0.94 0a0.47 0.47 0 1 0 -0.94 0M285.26 396a0.64 0.64 0 1 0 1.28 0a0.64 0.64 0 1 0 -1.28 0M204.68 397.88a0.75 0.75 0 1 0 1.49 0a0.75 0.75 0 1 0 -1.49 0M247.85 397.91a0.67 0.67 0 1 0 1.35 0a0.67 0.67 0 1 0 -1.35 0M211.91 396.44a0.51 0.51 0 1 0 1.03 0a0.51 0.51 0 1 0 -1.03 0M225.78 397.02a0.81 0.81 0 1 0 1.63 0a0.81 0.81 0 1 0 -1.63 0M176.78 396.72a0.49 0.49 0 1 0 0.97 0a0.49 0.49 0 1 0 -0.97 0M204.64 395.6a0.55 0.55 0 1 0 1.09 0a0.55 0.55 0 1 0 -1.09 0M192.85 400.87a0.8 0.8 0 1 0 1.61 0a0.8 0.8 0 1 0 -1.61 0M260.84 399.14a0.62 0.62 0 1 0 1.23 0a0.62 0.62 0 1 0 -1.23 0M229.75 398.75a0.59 0.59 0 1 0 1.17 0a0.59 0.59 0 1 0 -1.17 0M290.89 395.98a0.65 0.65 0 1 0 1.3 0a0.65 0.65 0 1 0 -1.3 0M244.35 404.09a0.54 0.54 0 1 0 1.07 0a0.54 0.54 0 1 0 -1.07 0M194.79 397.33a0.61 0.61 0 1 0 1.22 0a0.61 0.61 0 1 0 -1.22 0M218.74 405.09a0.79 0.79 0 1 0 1.58 0a0.79 0.79 0 1 0 -1.58 0M278 394.84a0.46 0.46 0 1 0 0.93 0a0.46 0.46 0 1 0 -0.93 0M255.27 404.45a0.64 0.64 0 1 0 1.28 0a0.64 0.64 0 1 0 -1.28 0M238.42 394.6a0.61 0.61 0 1 0 1.21 0a0.61 0.61 0 1 0 -1.21 0M191.78 395.8a0.51 0.51 0 1 0 1.02 0a0.51 0.51 0 1 0 -1.02 0M229.26 402.1a0.83 0.83 0 1 0 1.65 0a0.83 0.83 0 1 0 -1.65 0M256.84 401.72a0.76 0.76 0 1 0 1.51 0a0.76 0.76 0 1 0 -1.51 0M220.65 400.67a0.47 0.47 0 1 0 0.93 0a0.47 0.47 0 1 0 -0.93 0M265.14 397.16a0.82 0.82 0 1 0 1.64 0a0.82 0.82 0 1 0 -1.64 0M246.58 397.94a0.5 0.5 0 1 0 1 0a0.5 0.5 0 1 0 -1 0M192.02 401.6a0.73 0.73 0 1 0 1.46 0a0.73 0.73 0 1 0 -1.46 0M172.81 395.37a0.66 0.66 0 1 0 1.32 0a0.66 0.66 0 1 0 -1.32 0M237.9 398.87a0.54 0.54 0 1 0 1.08 0a0.54 0.54 0 1 0 -1.08 0M240.38 394.72a0.57 0.57 0 1 0 1.14 0a0.57 0.57 0 1 0 -1.14 0M246.31 404.32a0.64 0.64 0 1 0 1.28 0a0.64 0.64 0 1 0 -1.28 0M189.56 397.32a0.83 0.83 0 1 0 1.67 0a0.83 0.83 0 1 0 -1.67 0M254.78 397.98a0.46 0.46 0 1 0 0.92 0a0.46 0.46 0 1 0 -0.92 0M226.15 402.02a0.62 0.62 0 1 0 1.24 0a0.62 0.62 0 1 0 -1.24 0M192.68 401.94a0.82 0.82 0 1 0 1.64 0a0.82 0.82 0 1 0 -1.64 0M188.71 394.98a0.59 0.59 0 1 0 1.17 0a0.59 0.59 0 1 0 -1.17 0M215.51 402.11a0.53 0.53 0 1 0 1.06 0a0.53 0.53 0 1 0 -1.06 0M226.84 396.86a0.84 0.84 0 1 0 1.68 0a0.84 0.84 0 1 0 -1.68 0M200.47 403.62a0.54 0.54 0 1 0 1.08 0a0.54 0.54 0 1 0 -1.08 0M187.99 402.97a0.57 0.57 0 1 0 1.14 0a0.57 0.57 0 1 0 -1.14 0M183.23 397.06a0.62 0.62 0 1 0 1.23 0a0.62 0.62 0 1 0 -1.23 0M249.3 405.04a0.51 0.51 0 1 0 1.02 0a0.51 0.51 0 1 0 -1.02 0M211.46 396.94a0.84 0.84 0 1 0 1.68 0a0.84 0.84 0 1 0 -1.68 0M177.11 395.17a0.47 0.47 0 1 0 0.95 0a0.47 0.47 0 1 0 -0.95 0M211.47 404.48a0.8 0.8 0 1 0 1.61 0a0.8 0.8 0 1 0 -1.61 0M260.27 394.95a0.72 0.72 0 1 0 1.43 0a0.72 0.72 0 1 0 -1.43 0M209.67 398.71a0.58 0.58 0 1 0 1.17 0a0.58 0.58 0 1 0 -1.17 0M180.8 394.63a0.56 0.56 0 1 0 1.12 0a0.56 0.56 0 1 0 -1.12 0M185.84 398.52a0.78 0.78 0 1 0 1.56 0a0.78 0.78 0 1 0 -1.56 0M208.91 404.71a0.53 0.53 0 1 0 1.05 0a0.53 0.53 0 1 0 -1.05 0M207.8 404.47a0.46 0.46 0 1 0 0.92 0a0.46 0.46 0 1 0 -0.92 0M213.93 403.53a0.76 0.76 0 1 0 1.51 0a0.76 0.76 0 1 0 -1.51 0M163.13 394.98a0.48 0.48 0 1 0 0.95 0a0.48 0.48 0 1 0 -0.95 0M284.22 397.43a0.75 0.75 0 1 0 1.5 0a0.75 0.75 0 1 0 -1.5 0M242.41 397.48a0.74 0.74 0 1 0 1.47 0a0.74 0.74 0 1 0 -1.47 0M201.22 397.63a0.45 0.45 0 1 0 0.9 0a0.45 0.45 0 1 0 -0.9 0M261.58 404.68a0.7 0.7 0 1 0 1.41 0a0.7 0.7 0 1 0 -1.41 0M287.62 394.87a0.54 0.54 0 1 0 1.09 0a0.54 0.54 0 1 0 -1.09 0M192 399.33a0.65 0.65 0 1 0 1.29 0a0.65 0.65 0 1 0 -1.29 0M285.31 396.61a0.77 0.77 0 1 0 1.54 0a0.77 0.77 0 1 0 -1.54 0M259.15 403.65a0.76 0.76 0 1 0 1.52 0a0.76 0.76 0 1 0 -1.52 0M241.22 398.21a0.58 0.58 0 1 0 1.16 0a0.58 0.58 0 1 0 -1.16 0M207.45 403.2a0.48 0.48 0 1 0 0.96 0a0.48 0.48 0 1 0 -0.96 0M191.66 395.31a0.46 0.46 0 1 0 0.93 0a0.46 0.46 0 1 0 -0.93 0M233.42 398.18a0.84 0.84 0 1 0 1.68 0a0.84 0.84 0 1 0 -1.68 0M194.07 395.52a0.49 0.49 0 1 0 0.98 0a0.49 0.49 0 1 0 -0.98 0M226.16 402.41a0.63 0.63 0 1 0 1.26 0a0.63 0.63 0 1 0 -1.26 0M189.62 399.19a0.7 0.7 0 1 0 1.4 0a0.7 0.7 0 1 0 -1.4 0M250.24 402.83a0.79 0.79 0 1 0 1.58 0a0.79 0.79 0 1 0 -1.58 0M248.9 395.93a0.79 0.79 0 1 0 1.57 0a0.79 0.79 0 1 0 -1.57 0M197.94 400.84a0.6 0.6 0 1 0 1.2 0a0.6 0.6 0 1 0 -1.2 0M259.3 396.79a0.55 0.55 0 1 0 1.1 0a0.55 0.55 0 1 0 -1.1 0M191.05 396.29a0.8 0.8 0 1 0 1.61 0a0.8 0.8 0 1 0 -1.61 0M237.19 398.19a0.61 0.61 0 1 0 1.22 0a0.61 0.61 0 1 0 -1.22 0M189.22 403.49a0.71 0.71 0 1 0 1.42 0a0.71 0.71 0 1 0 -1.42 0M294.11 395.73a0.64 0.64 0 1 0 1.28 0a0.64 0.64 0 1 0 -1.28 0M283.62 395.04a0.57 0.57 0 1 0 1.13 0a0.57 0.57 0 1 0 -1.13 0M173.61 396.69a0.84 0.84 0 1 0 1.68 0a0.84 0.84 0 1 0 -1.68 0M237.88 404.83a0.6 0.6 0 1 0 1.2 0a0.6 0.6 0 1 0 -1.2 0M193.04 403.16a0.83 0.83 0 1 0 1.66 0a0.83 0.83 0 1 0 -1.66 0M242.96 396.99a0.6 0.6 0 1 0 1.19 0a0.6 0.6 0 1 0 -1.19 0M176.96 396.84a0.55 0.55 0 1 0 1.1 0a0.55 0.55 0 1 0 -1.1 0M240.19 401.77a0.53 0.53 0 1 0 1.06 0a0.53 0.53 0 1 0 -1.06 0M251.03 396.64a0.57 0.57 0 1 0 1.15 0a0.57 0.57 0 1 0 -1.15 0M233.14 395.3a0.49 0.49 0 1 0 0.98 0a0.49 0.49 0 1 0 -0.98 0M211.85 400.65a0.71 0.71 0 1 0 1.41 0a0.71 0.71 0 1 0 -1.41 0M169.85 396.4a0.73 0.73 0 1 0 1.46 0a0.73 0.73 0 1 0 -1.46 0M213.98 397.72a0.57 0.57 0 1 0 1.15 0a0.57 0.57 0 1 0 -1.15 0M235.56 398.53a0.62 0.62 0 1 0 1.23 0a0.62 0.62 0 1 0 -1.23 0M207.46 396.77a0.74 0.74 0 1 0 1.48 0a0.74 0.74 0 1 0 -1.48 0M185.3 394.66a0.81 0.81 0 1 0 1.62 0a0.81 0.81 0 1 0 -1.62 0M215.87 403.62a0.61 0.61 0 1 0 1.22 0a0.61 0.61 0 1 0 -1.22 0M179.76 394.76a0.67 0.67 0 1 0 1.34 0a0.67 0.67 0 1 0 -1.34 0M245.93 404.61a0.49 0.49 0 1 0 0.97 0a0.49 0.49 0 1 0 -0.97 0M243.21 398.68a0.65 0.65 0 1 0 1.3 0a0.65 0.65 0 1 0 -1.3 0M177.47 397.72a0.66 0.66 0 1 0 1.32 0a0.66 0.66 0 1 0 -1.32 0M285.07 395.8a0.65 0.65 0 1 0 1.29 0a0.65 0.65 0 1 0 -1.29 0M184.41 395.99a0.83 0.83 0 1 0 1.65 0a0.83 0.83 0 1 0 -1.65 0M210.83 404.55a0.7 0.7 0 1 0 1.4 0a0.7 0.7 0 1 0 -1.4 0M271.02 396.36a0.76 0.76 0 1 0 1.53 0a0.76 0.76 0 1 0 -1.53 0M187.86 399.05a0.79 0.79 0 1 0 1.58 0a0.79 0.79 0 1 0 -1.58 0M271.89 396.61a0.54 0.54 0 1 0 1.07 0a0.54 0.54 0 1 0 -1.07 0M212.56 400.3a0.6 0.6 0 1 0 1.21 0a0.6 0.6 0 1 0 -1.21 0M174.24 397.32a0.74 0.74 0 1 0 1.48 0a0.74 0.74 0 1 0 -1.48 0M281.15 395.05a0.67 0.67 0 1 0 1.35 0a0.67 0.67 0 1 0 -1.35 0M261.74 395.02a0.79 0.79 0 1 0 1.57 0a0.79 0.79 0 1 0 -1.57 0M233.33 401.5a0.57 0.57 0 1 0 1.14 0a0.57 0.57 0 1 0 -1.14 0M215.35 401.01a0.62 0.62 0 1 0 1.24 0a0.62 0.62 0 1 0 -1.24 0M248.29 399.51a0.63 0.63 0 1 0 1.25 0a0.63 0.63 0 1 0 -1.25 0M224.8 397.19a0.76 0.76 0 1 0 1.51 0a0.76 0.76 0 1 0 -1.51 0M265.11 399.64a0.52 0.52 0 1 0 1.04 0a0.52 0.52 0 1 0 -1.04 0M222.8 395.78a0.5 0.5 0 1 0 1 0a0.5 0.5 0 1 0 -1 0M216.8 395.61a0.63 0.63 0 1 0 1.25 0a0.63 0.63 0 1 0 -1.25 0M227.7 395.05a0.7 0.7 0 1 0 1.41 0a0.7 0.7 0 1 0 -1.41 0M264.84 400.23a0.47 0.47 0 1 0 0.94 0a0.47 0.47 0 1 0 -0.94 0M226.71 398.76a0.83 0.83 0 1 0 1.66 0a0.83 0.83 0 1 0 -1.66 0M269.63 396.73a0.84 0.84 0 1 0 1.69 0a0.84 0.84 0 1 0 -1.69 0M283.65 396.42a0.77 0.77 0 1 0 1.53 0a0.77 0.77 0 1 0 -1.53 0M285.83 395.32a0.59 0.59 0 1 0 1.18 0a0.59 0.59 0 1 0 -1.18 0M261.54 396.35a0.81 0.81 0 1 0 1.62 0a0.81 0.81 0 1 0 -1.62 0M195.44 403.57a0.51 0.51 0 1 0 1.01 0a0.51 0.51 0 1 0 -1.01 0M226.77 404.72a0.53 0.53 0 1 0 1.07 0a0.53 0.53 0 1 0 -1.07 0M193.7 400.17a0.58 0.58 0 1 0 1.16 0a0.58 0.58 0 1 0 -1.16 0M162.57 396.6a0.51 0.51 0 1 0 1.03 0a0.51 0.51 0 1 0 -1.03 0M280.8 396.46a0.76 0.76 0 1 0 1.53 0a0.76 0.76 0 1 0 -1.53 0M245.01 398.56a0.8 0.8 0 1 0 1.6 0a0.8 0.8 0 1 0 -1.6 0M233.81 400.98a0.8 0.8 0 1 0 1.61 0a0.8 0.8 0 1 0 -1.61 0M244.14 398.94a0.77 0.77 0 1 0 1.54 0a0.77 0.77 0 1 0 -1.54 0M236.92 398.56a0.76 0.76 0 1 0 1.51 0a0.76 0.76 0 1 0 -1.51 0M218.29 396.54a0.75 0.75 0 1 0 1.49 0a0.75 0.75 0 1 0 -1.49 0M192.16 401.63a0.84 0.84 0 1 0 1.69 0a0.84 0.84 0 1 0 -1.69 0M238.28 401.9a0.58 0.58 0 1 0 1.15 0a0.58 0.58 0 1 0 -1.15 0M157.74 394.97a0.51 0.51 0 1 0 1.02 0a0.51 0.51 0 1 0 -1.02 0M242.36 399.35a0.66 0.66 0 1 0 1.31 0a0.66 0.66 0 1 0 -1.31 0M281.04 396.05a0.54 0.54 0 1 0 1.08 0a0.54 0.54 0 1 0 -1.08 0M247.68 394.85a0.45 0.45 0 1 0 0.9 0a0.45 0.45 0 1 0 -0.9 0M206.39 395.77a0.59 0.59 0 1 0 1.19 0a0.59 0.59 0 1 0 -1.19 0M188.26 401.02a0.69 0.69 0 1 0 1.37 0a0.69 0.69 0 1 0 -1.37 0M222.71 396.08a0.82 0.82 0 1 0 1.65 0a0.82 0.82 0 1 0 -1.65 0M191.13 396.24a0.49 0.49 0 1 0 0.98 0a0.49 0.49 0 1 0 -0.98 0M245.31 404.18a0.76 0.76 0 1 0 1.53 0a0.76 0.76 0 1 0 -1.53 0M213.01 397.51a0.45 0.45 0 1 0 0.91 0a0.45 0.45 0 1 0 -0.91 0M246.41 400.79a0.59 0.59 0 1 0 1.18 0a0.59 0.59 0 1 0 -1.18 0M246.27 399.48a0.82 0.82 0 1 0 1.65 0a0.82 0.82 0 1 0 -1.65 0M258.41 397.33a0.81 0.81 0 1 0 1.62 0a0.81 0.81 0 1 0 -1.62 0M213.55 397.21a0.47 0.47 0 1 0 0.95 0a0.47 0.47 0 1 0 -0.95 0M264.81 394.74a0.67 0.67 0 1 0 1.34 0a0.67 0.67 0 1 0 -1.34 0M287.32 396.16a0.53 0.53 0 1 0 1.06 0a0.53 0.53 0 1 0 -1.06 0M241.21 400.18a0.71 0.71 0 1 0 1.41 0a0.71 0.71 0 1 0 -1.41 0M269.67 396.52a0.57 0.57 0 1 0 1.15 0a0.57 0.57 0 1 0 -1.15 0M198.63 395.13a0.81 0.81 0 1 0 1.61 0a0.81 0.81 0 1 0 -1.61 0M265.6 402.47a0.45 0.45 0 1 0 0.91 0a0.45 0.45 0 1 0 -0.91 0M221.58 402.76a0.63 0.63 0 1 0 1.26 0a0.63 0.63 0 1 0 -1.26 0M188.64 395.76a0.54 0.54 0 1 0 1.09 0a0.54 0.54 0 1 0 -1.09 0M260.66 402.25a0.79 0.79 0 1 0 1.58 0a0.79 0.79 0 1 0 -1.58 0M255.54 397.53a0.67 0.67 0 1 0 1.34 0a0.67 0.67 0 1 0 -1.34 0M217.52 403.27a0.66 0.66 0 1 0 1.32 0a0.66 0.66 0 1 0 -1.32 0M193.77 401.66a0.84 0.84 0 1 0 1.67 0a0.84 0.84 0 1 0 -1.67 0M187.49 404.28a0.46 0.46 0 1 0 0.91 0a0.46 0.46 0 1 0 -0.91 0M193.18 397.2a0.75 0.75 0 1 0 1.5 0a0.75 0.75 0 1 0 -1.5 0M202.53 404.28a0.58 0.58 0 1 0 1.16 0a0.58 0.58 0 1 0 -1.16 0M190.3 404.58a0.7 0.7 0 1 0 1.4 0a0.7 0.7 0 1 0 -1.4 0M252.77 401.92a0.84 0.84 0 1 0 1.68 0a0.84 0.84 0 1 0 -1.68 0M222.06 403.84a0.73 0.73 0 1 0 1.46 0a0.73 0.73 0 1 0 -1.46 0M257.42 400.87a0.57 0.57 0 1 0 1.15 0a0.57 0.57 0 1 0 -1.15 0M186.77 401.45a0.48 0.48 0 1 0 0.96 0a0.48 0.48 0 1 0 -0.96 0M283.23 396.19a0.46 0.46 0 1 0 0.92 0a0.46 0.46 0 1 0 -0.92 0M205.13 396.16a0.46 0.46 0 1 0 0.92 0a0.46 0.46 0 1 0 -0.92 0M244.73 402.27a0.74 0.74 0 1 0 1.49 0a0.74 0.74 0 1 0 -1.49 0M207.37 403.59a0.78 0.78 0 1 0 1.56 0a0.78 0.78 0 1 0 -1.56 0M280.2 395.33a0.8 0.8 0 1 0 1.59 0a0.8 0.8 0 1 0 -1.59 0M172.29 396.86a0.49 0.49 0 1 0 0.99 0a0.49 0.49 0 1 0 -0.99 0M197.17 395.7a0.49 0.49 0 1 0 0.98 0a0.49 0.49 0 1 0 -0.98 0M261.94 396.85a0.58 0.58 0 1 0 1.16 0a0.58 0.58 0 1 0 -1.16 0M215.93 394.83a0.55 0.55 0 1 0 1.11 0a0.55 0.55 0 1 0 -1.11 0M196.4 402.47a0.6 0.6 0 1 0 1.19 0a0.6 0.6 0 1 0 -1.19 0M226.82 403.97a0.7 0.7 0 1 0 1.39 0a0.7 0.7 0 1 0 -1.39 0M217.64 403.1a0.59 0.59 0 1 0 1.18 0a0.59 0.59 0 1 0 -1.18 0M254.71 400.52a0.54 0.54 0 1 0 1.07 0a0.54 0.54 0 1 0 -1.07 0M276.21 395.6a0.78 0.78 0 1 0 1.56 0a0.78 0.78 0 1 0 -1.56 0M180.98 394.61a0.53 0.53 0 1 0 1.06 0a0.53 0.53 0 1 0 -1.06 0M225.3 403.36a0.52 0.52 0 1 0 1.05 0a0.52 0.52 0 1 0 -1.05 0M225.47 398.42a0.78 0.78 0 1 0 1.57 0a0.78 0.78 0 1 0 -1.57 0M193.4 404.98a0.56 0.56 0 1 0 1.13 0a0.56 0.56 0 1 0 -1.13 0M186.98 402.29a0.65 0.65 0 1 0 1.3 0a0.65 0.65 0 1 0 -1.3 0M253.51 403.26a0.7 0.7 0 1 0 1.4 0a0.7 0.7 0 1 0 -1.4 0M206.47 399.01a0.61 0.61 0 1 0 1.22 0a0.61 0.61 0 1 0 -1.22 0M280.07 395.55a0.81 0.81 0 1 0 1.61 0a0.81 0.81 0 1 0 -1.61 0M193.67 404.51a0.65 0.65 0 1 0 1.3 0a0.65 0.65 0 1 0 -1.3 0M209.8 404.32a0.54 0.54 0 1 0 1.09 0a0.54 0.54 0 1 0 -1.09 0M220.85 400.45a0.75 0.75 0 1 0 1.5 0a0.75 0.75 0 1 0 -1.5 0M261.32 401.71a0.59 0.59 0 1 0 1.18 0a0.59 0.59 0 1 0 -1.18 0M202.29 396.31a0.79 0.79 0 1 0 1.57 0a0.79 0.79 0 1 0 -1.57 0M248.85 402.76a0.52 0.52 0 1 0 1.04 0a0.52 0.52 0 1 0 -1.04 0M217.87 403.11a0.68 0.68 0 1 0 1.36 0a0.68 0.68 0 1 0 -1.36 0M279.62 397.22a0.53 0.53 0 1 0 1.05 0a0.53 0.53 0 1 0 -1.05 0M198.82 402.33a0.79 0.79 0 1 0 1.57 0a0.79 0.79 0 1 0 -1.57 0M178.78 396.32a0.55 0.55 0 1 0 1.1 0a0.55 0.55 0 1 0 -1.1 0M202.55 400.34a0.51 0.51 0 1 0 1.03 0a0.51 0.51 0 1 0 -1.03 0M202.43 396.68a0.84 0.84 0 1 0 1.68 0a0.84 0.84 0 1 0 -1.68 0M257.73 395.72a0.83 0.83 0 1 0 1.67 0a0.83 0.83 0 1 0 -1.67 0M258.67 399.38a0.53 0.53 0 1 0 1.06 0a0.53 0.53 0 1 0 -1.06 0M245.51 395.78a0.53 0.53 0 1 0 1.07 0a0.53 0.53 0 1 0 -1.07 0M210.98 394.97a0.61 0.61 0 1 0 1.22 0a0.61 0.61 0 1 0 -1.22 0M226.43 401.56a0.64 0.64 0 1 0 1.27 0a0.64 0.64 0 1 0 -1.27 0M213.04 402.75a0.81 0.81 0 1 0 1.63 0a0.81 0.81 0 1 0 -1.63 0M216.59 400.91a0.75 0.75 0 1 0 1.5 0a0.75 0.75 0 1 0 -1.5 0M215.38 397.11a0.74 0.74 0 1 0 1.48 0a0.74 0.74 0 1 0 -1.48 0M253.89 403.98a0.72 0.72 0 1 0 1.44 0a0.72 0.72 0 1 0 -1.44 0M245.96 399.59a0.58 0.58 0 1 0 1.15 0a0.58 0.58 0 1 0 -1.15 0M244.08 395.68a0.62 0.62 0 1 0 1.24 0a0.62 0.62 0 1 0 -1.24 0M265.27 402.44a0.7 0.7 0 1 0 1.4 0a0.7 0.7 0 1 0 -1.4 0M191.88 399.26a0.63 0.63 0 1 0 1.26 0a0.63 0.63 0 1 0 -1.26 0M243.06 399.1a0.72 0.72 0 1 0 1.44 0a0.72 0.72 0 1 0 -1.44 0M285.66 396.61a0.71 0.71 0 1 0 1.42 0a0.71 0.71 0 1 0 -1.42 0M264.74 398.88a0.65 0.65 0 1 0 1.29 0a0.65 0.65 0 1 0 -1.29 0M291.83 395.02a0.67 0.67 0 1 0 1.33 0a0.67 0.67 0 1 0 -1.33 0M232.01 402.49a0.65 0.65 0 1 0 1.31 0a0.65 0.65 0 1 0 -1.31 0M245.56 403.72a0.66 0.66 0 1 0 1.32 0a0.66 0.66 0 1 0 -1.32 0M214.09 405.03a0.53 0.53 0 1 0 1.07 0a0.53 0.53 0 1 0 -1.07 0M251.69 398.92a0.76 0.76 0 1 0 1.51 0a0.76 0.76 0 1 0 -1.51 0M206.5 395.22a0.56 0.56 0 1 0 1.12 0a0.56 0.56 0 1 0 -1.12 0M212.54 394.75a0.62 0.62 0 1 0 1.23 0a0.62 0.62 0 1 0 -1.23 0M215.44 402.28a0.59 0.59 0 1 0 1.18 0a0.59 0.59 0 1 0 -1.18 0M193.85 397.07a0.75 0.75 0 1 0 1.49 0a0.75 0.75 0 1 0 -1.49 0M187.6 403.42a0.61 0.61 0 1 0 1.21 0a0.61 0.61 0 1 0 -1.21 0M186.5 396.02a0.76 0.76 0 1 0 1.52 0a0.76 0.76 0 1 0 -1.52 0M222.2 400.78a0.54 0.54 0 1 0 1.08 0a0.54 0.54 0 1 0 -1.08 0M245.38 403.61a0.78 0.78 0 1 0 1.55 0a0.78 0.78 0 1 0 -1.55 0M221.93 397.84a0.67 0.67 0 1 0 1.34 0a0.67 0.67 0 1 0 -1.34 0M206.4 403.96a0.56 0.56 0 1 0 1.11 0a0.56 0.56 0 1 0 -1.11 0M209.29 397.39a0.62 0.62 0 1 0 1.24 0a0.62 0.62 0 1 0 -1.24 0M182.91 394.63a0.74 0.74 0 1 0 1.48 0a0.74 0.74 0 1 0 -1.48 0M196.24 397.29a0.57 0.57 0 1 0 1.14 0a0.57 0.57 0 1 0 -1.14 0M223.47 399.31a0.7 0.7 0 1 0 1.41 0a0.7 0.7 0 1 0 -1.41 0M248.16 398.59a0.82 0.82 0 1 0 1.64 0a0.82 0.82 0 1 0 -1.64 0M275.13 395.23a0.78 0.78 0 1 0 1.56 0a0.78 0.78 0 1 0 -1.56 0M244.92 394.76a0.45 0.45 0 1 0 0.91 0a0.45 0.45 0 1 0 -0.91 0M192 395.72a0.51 0.51 0 1 0 1.01 0a0.51 0.51 0 1 0 -1.01 0M189.65 403.14a0.59 0.59 0 1 0 1.18 0a0.59 0.59 0 1 0 -1.18 0M266.44 396.45a0.81 0.81 0 1 0 1.61 0a0.81 0.81 0 1 0 -1.61 0M241.24 403.19a0.72 0.72 0 1 0 1.43 0a0.72 0.72 0 1 0 -1.43 0M273.03 396.77a0.73 0.73 0 1 0 1.45 0a0.73 0.73 0 1 0 -1.45 0M230.62 402.76a0.63 0.63 0 1 0 1.25 0a0.63 0.63 0 1 0 -1.25 0M193.99 397.18a0.51 0.51 0 1 0 1.01 0a0.51 0.51 0 1 0 -1.01 0M225.41 395.24a0.64 0.64 0 1 0 1.27 0a0.64 0.64 0 1 0 -1.27 0M225.95 400.53a0.8 0.8 0 1 0 1.59 0a0.8 0.8 0 1 0 -1.59 0M221.86 400.79a0.72 0.72 0 1 0 1.43 0a0.72 0.72 0 1 0 -1.43 0M245.09 394.91a0.69 0.69 0 1 0 1.39 0a0.69 0.69 0 1 0 -1.39 0M251.61 404.85a0.58 0.58 0 1 0 1.16 0a0.58 0.58 0 1 0 -1.16 0M224.42 404.47a0.46 0.46 0 1 0 0.93 0a0.46 0.46 0 1 0 -0.93 0M256.52 401.48a0.59 0.59 0 1 0 1.17 0a0.59 0.59 0 1 0 -1.17 0M222.73 400.38a0.76 0.76 0 1 0 1.52 0a0.76 0.76 0 1 0 -1.52 0M186.46 399.39a0.62 0.62 0 1 0 1.24 0a0.62 0.62 0 1 0 -1.24 0M233.89 403.69a0.57 0.57 0 1 0 1.13 0a0.57 0.57 0 1 0 -1.13 0M226.86 397.59a0.65 0.65 0 1 0 1.31 0a0.65 0.65 0 1 0 -1.31 0M266.71 398.24a0.58 0.58 0 1 0 1.15 0a0.58 0.58 0 1 0 -1.15 0M198.59 401.05a0.7 0.7 0 1 0 1.41 0a0.7 0.7 0 1 0 -1.41 0M265.48 395.04a0.74 0.74 0 1 0 1.48 0a0.74 0.74 0 1 0 -1.48 0M247.99 403.28a0.81 0.81 0 1 0 1.63 0a0.81 0.81 0 1 0 -1.63 0M241.72 401.38a0.7 0.7 0 1 0 1.4 0a0.7 0.7 0 1 0 -1.4 0M253.38 401.16a0.72 0.72 0 1 0 1.44 0a0.72 0.72 0 1 0 -1.44 0M186.69 401.94a0.63 0.63 0 1 0 1.27 0a0.63 0.63 0 1 0 -1.27 0M262.73 395.71a0.52 0.52 0 1 0 1.05 0a0.52 0.52 0 1 0 -1.05 0M208.14 403.65a0.76 0.76 0 1 0 1.53 0a0.76 0.76 0 1 0 -1.53 0M235 397.44a0.57 0.57 0 1 0 1.14 0a0.57 0.57 0 1 0 -1.14 0M215.58 398.1a0.62 0.62 0 1 0 1.24 0a0.62 0.62 0 1 0 -1.24 0M246.09 404.87a0.47 0.47 0 1 0 0.94 0a0.47 0.47 0 1 0 -0.94 0M235.82 395.03a0.5 0.5 0 1 0 1 0a0.5 0.5 0 1 0 -1 0M238.85 404.91a0.84 0.84 0 1 0 1.68 0a0.84 0.84 0 1 0 -1.68 0M223.12 399.14a0.49 0.49 0 1 0 0.98 0a0.49 0.49 0 1 0 -0.98 0M246.43 396.94a0.51 0.51 0 1 0 1.02 0a0.51 0.51 0 1 0 -1.02 0M159.42 394.65a0.72 0.72 0 1 0 1.45 0a0.72 0.72 0 1 0 -1.45 0M175.06 394.8a0.74 0.74 0 1 0 1.48 0a0.74 0.74 0 1 0 -1.48 0M190.91 402.67a0.52 0.52 0 1 0 1.05 0a0.52 0.52 0 1 0 -1.05 0M255.73 404.01a0.74 0.74 0 1 0 1.48 0a0.74 0.74 0 1 0 -1.48 0M255.05 399.67a0.82 0.82 0 1 0 1.65 0a0.82 0.82 0 1 0 -1.65 0M256.52 394.73a0.46 0.46 0 1 0 0.91 0a0.46 0.46 0 1 0 -0.91 0M247.31 403.59a0.48 0.48 0 1 0 0.96 0a0.48 0.48 0 1 0 -0.96 0M200.41 402.62a0.52 0.52 0 1 0 1.03 0a0.52 0.52 0 1 0 -1.03 0M236.62 399.43a0.72 0.72 0 1 0 1.44 0a0.72 0.72 0 1 0 -1.44 0M207.43 401.69a0.7 0.7 0 1 0 1.4 0a0.7 0.7 0 1 0 -1.4 0M214.91 398.84a0.76 0.76 0 1 0 1.53 0a0.76 0.76 0 1 0 -1.53 0M235.75 397.82a0.47 0.47 0 1 0 0.95 0a0.47 0.47 0 1 0 -0.95 0M271.49 398.25a0.69 0.69 0 1 0 1.38 0a0.69 0.69 0 1 0 -1.38 0M240.34 397.99a0.62 0.62 0 1 0 1.24 0a0.62 0.62 0 1 0 -1.24 0M251.7 401.22a0.81 0.81 0 1 0 1.62 0a0.81 0.81 0 1 0 -1.62 0M268.98 397.72a0.45 0.45 0 1 0 0.9 0a0.45 0.45 0 1 0 -0.9 0M193.62 399.25a0.68 0.68 0 1 0 1.37 0a0.68 0.68 0 1 0 -1.37 0M236.13 397.61a0.79 0.79 0 1 0 1.58 0a0.79 0.79 0 1 0 -1.58 0M267.29 396.8a0.75 0.75 0 1 0 1.5 0a0.75 0.75 0 1 0 -1.5 0M285.88 397.17a0.69 0.69 0 1 0 1.39 0a0.69 0.69 0 1 0 -1.39 0M250.98 399.72a0.53 0.53 0 1 0 1.07 0a0.53 0.53 0 1 0 -1.07 0M192.39 402.86a0.77 0.77 0 1 0 1.53 0a0.77 0.77 0 1 0 -1.53 0M220.67 395.56a0.77 0.77 0 1 0 1.55 0a0.77 0.77 0 1 0 -1.55 0M263.88 397.16a0.68 0.68 0 1 0 1.36 0a0.68 0.68 0 1 0 -1.36 0M229.33 399.84a0.69 0.69 0 1 0 1.37 0a0.69 0.69 0 1 0 -1.37 0M183.58 396.72a0.52 0.52 0 1 0 1.04 0a0.52 0.52 0 1 0 -1.04 0M254.07 398.59a0.68 0.68 0 1 0 1.35 0a0.68 0.68 0 1 0 -1.35 0M213.03 400.29a0.51 0.51 0 1 0 1.02 0a0.51 0.51 0 1 0 -1.02 0M208.91 395.77a0.7 0.7 0 1 0 1.41 0a0.7 0.7 0 1 0 -1.41 0M265.97 396.32a0.69 0.69 0 1 0 1.38 0a0.69 0.69 0 1 0 -1.38 0M205.14 400.31a0.46 0.46 0 1 0 0.92 0a0.46 0.46 0 1 0 -0.92 0M235.51 397.48a0.76 0.76 0 1 0 1.52 0a0.76 0.76 0 1 0 -1.52 0M216.02 405.01a0.76 0.76 0 1 0 1.51 0a0.76 0.76 0 1 0 -1.51 0M192.52 395.02a0.53 0.53 0 1 0 1.06 0a0.53 0.53 0 1 0 -1.06 0M182.47 395.52a0.47 0.47 0 1 0 0.94 0a0.47 0.47 0 1 0 -0.94 0M234.29 404.18a0.63 0.63 0 1 0 1.27 0a0.63 0.63 0 1 0 -1.27 0M212.01 395.92a0.83 0.83 0 1 0 1.67 0a0.83 0.83 0 1 0 -1.67 0M192.79 400.81a0.71 0.71 0 1 0 1.41 0a0.71 0.71 0 1 0 -1.41 0M211.74 399.53a0.51 0.51 0 1 0 1.03 0a0.51 0.51 0 1 0 -1.03 0M188.05 395.02a0.55 0.55 0 1 0 1.1 0a0.55 0.55 0 1 0 -1.1 0M205.77 404.53a0.81 0.81 0 1 0 1.62 0a0.81 0.81 0 1 0 -1.62 0M272.77 395.12a0.76 0.76 0 1 0 1.53 0a0.76 0.76 0 1 0 -1.53 0M255.08 401.71a0.84 0.84 0 1 0 1.69 0a0.84 0.84 0 1 0 -1.69 0M164.94 396.19a0.75 0.75 0 1 0 1.5 0a0.75 0.75 0 1 0 -1.5 0M198.48 401.11a0.75 0.75 0 1 0 1.51 0a0.75 0.75 0 1 0 -1.51 0M192.82 395.97a0.64 0.64 0 1 0 1.29 0a0.64 0.64 0 1 0 -1.29 0M180.76 397.22a0.51 0.51 0 1 0 1.01 0a0.51 0.51 0 1 0 -1.01 0M250.78 394.74a0.74 0.74 0 1 0 1.47 0a0.74 0.74 0 1 0 -1.47 0M184.1 395a0.82 0.82 0 1 0 1.64 0a0.82 0.82 0 1 0 -1.64 0M187.64 404.87a0.8 0.8 0 1 0 1.59 0a0.8 0.8 0 1 0 -1.59 0M280.01 396.14a0.63 0.63 0 1 0 1.26 0a0.63 0.63 0 1 0 -1.26 0M219.64 398.34a0.78 0.78 0 1 0 1.56 0a0.78 0.78 0 1 0 -1.56 0M223.39 401.51a0.51 0.51 0 1 0 1.01 0a0.51 0.51 0 1 0 -1.01 0M187.85 395.22a0.74 0.74 0 1 0 1.47 0a0.74 0.74 0 1 0 -1.47 0M233.57 396.19a0.8 0.8 0 1 0 1.6 0a0.8 0.8 0 1 0 -1.6 0M194.25 399.13a0.51 0.51 0 1 0 1.02 0a0.51 0.51 0 1 0 -1.02 0M194.83 403.84a0.58 0.58 0 1 0 1.17 0a0.58 0.58 0 1 0 -1.17 0M201.4 404.53a0.5 0.5 0 1 0 0.99 0a0.5 0.5 0 1 0 -0.99 0M292.24 395.23a0.81 0.81 0 1 0 1.62 0a0.81 0.81 0 1 0 -1.62 0M249.58 396.92a0.64 0.64 0 1 0 1.28 0a0.64 0.64 0 1 0 -1.28 0M196.97 397.44a0.53 0.53 0 1 0 1.06 0a0.53 0.53 0 1 0 -1.06 0M280.93 395.23a0.74 0.74 0 1 0 1.48 0a0.74 0.74 0 1 0 -1.48 0M204.59 396.14a0.45 0.45 0 1 0 0.9 0a0.45 0.45 0 1 0 -0.9 0M283.17 397a0.68 0.68 0 1 0 1.36 0a0.68 0.68 0 1 0 -1.36 0M176.3 396.58a0.76 0.76 0 1 0 1.52 0a0.76 0.76 0 1 0 -1.52 0M255.72 396.76a0.48 0.48 0 1 0 0.96 0a0.48 0.48 0 1 0 -0.96 0M225.84 397.61a0.53 0.53 0 1 0 1.06 0a0.53 0.53 0 1 0 -1.06 0M241.74 402.39a0.77 0.77 0 1 0 1.55 0a0.77 0.77 0 1 0 -1.55 0M237.97 396.83a0.48 0.48 0 1 0 0.95 0a0.48 0.48 0 1 0 -0.95 0M258.38 399.09a0.74 0.74 0 1 0 1.48 0a0.74 0.74 0 1 0 -1.48 0M203.46 403.86a0.8 0.8 0 1 0 1.59 0a0.8 0.8 0 1 0 -1.59 0M225.22 394.77a0.81 0.81 0 1 0 1.63 0a0.81 0.81 0 1 0 -1.63 0M223.22 404.19a0.56 0.56 0 1 0 1.11 0a0.56 0.56 0 1 0 -1.11 0M208.06 396.4a0.6 0.6 0 1 0 1.2 0a0.6 0.6 0 1 0 -1.2 0M239.44 394.65a0.66 0.66 0 1 0 1.32 0a0.66 0.66 0 1 0 -1.32 0M219.02 400.27a0.5 0.5 0 1 0 1 0a0.5 0.5 0 1 0 -1 0M255.82 403.58a0.8 0.8 0 1 0 1.59 0a0.8 0.8 0 1 0 -1.59 0M201.69 402.42a0.6 0.6 0 1 0 1.21 0a0.6 0.6 0 1 0 -1.21 0M260.88 395.27a0.8 0.8 0 1 0 1.6 0a0.8 0.8 0 1 0 -1.6 0M228.17 400.44a0.66 0.66 0 1 0 1.33 0a0.66 0.66 0 1 0 -1.33 0M188.38 396.61a0.49 0.49 0 1 0 0.98 0a0.49 0.49 0 1 0 -0.98 0M192.1 403.59a0.46 0.46 0 1 0 0.92 0a0.46 0.46 0 1 0 -0.92 0M184.23 394.79a0.69 0.69 0 1 0 1.38 0a0.69 0.69 0 1 0 -1.38 0M236.82 400.35a0.73 0.73 0 1 0 1.46 0a0.73 0.73 0 1 0 -1.46 0M256.46 395.1a0.5 0.5 0 1 0 1 0a0.5 0.5 0 1 0 -1 0M225.55 400.11a0.56 0.56 0 1 0 1.12 0a0.56 0.56 0 1 0 -1.12 0M276.15 396.22a0.68 0.68 0 1 0 1.36 0a0.68 0.68 0 1 0 -1.36 0M260.25 396.41a0.78 0.78 0 1 0 1.56 0a0.78 0.78 0 1 0 -1.56 0M215.37 403.84a0.66 0.66 0 1 0 1.32 0a0.66 0.66 0 1 0 -1.32 0M211.84 404.95a0.76 0.76 0 1 0 1.52 0a0.76 0.76 0 1 0 -1.52 0M204.14 397.24a0.58 0.58 0 1 0 1.17 0a0.58 0.58 0 1 0 -1.17 0M191.7 399.24a0.7 0.7 0 1 0 1.41 0a0.7 0.7 0 1 0 -1.41 0M207.81 400.44a0.48 0.48 0 1 0 0.96 0a0.48 0.48 0 1 0 -0.96 0M217.3 400.15a0.46 0.46 0 1 0 0.92 0a0.46 0.46 0 1 0 -0.92 0M264.46 404.91a0.7 0.7 0 1 0 1.41 0a0.7 0.7 0 1 0 -1.41 0M279.37 394.98a0.71 0.71 0 1 0 1.41 0a0.71 0.71 0 1 0 -1.41 0M194.12 402.06a0.56 0.56 0 1 0 1.12 0a0.56 0.56 0 1 0 -1.12 0M232.13 404.77a0.7 0.7 0 1 0 1.4 0a0.7 0.7 0 1 0 -1.4 0M191.96 400.32a0.62 0.62 0 1 0 1.25 0a0.62 0.62 0 1 0 -1.25 0M199.65 401.72a0.5 0.5 0 1 0 1 0a0.5 0.5 0 1 0 -1 0M228.26 397.55a0.64 0.64 0 1 0 1.27 0a0.64 0.64 0 1 0 -1.27 0M231.17 396.23a0.5 0.5 0 1 0 1 0a0.5 0.5 0 1 0 -1 0M175.52 397.83a0.61 0.61 0 1 0 1.23 0a0.61 0.61 0 1 0 -1.23 0M197.3 397.28a0.49 0.49 0 1 0 0.97 0a0.49 0.49 0 1 0 -0.97 0M232.7 403.84a0.69 0.69 0 1 0 1.39 0a0.69 0.69 0 1 0 -1.39 0M236.15 401.75a0.53 0.53 0 1 0 1.06 0a0.53 0.53 0 1 0 -1.06 0M255.36 399.67a0.67 0.67 0 1 0 1.34 0a0.67 0.67 0 1 0 -1.34 0M241.99 399.76a0.57 0.57 0 1 0 1.15 0a0.57 0.57 0 1 0 -1.15 0M190.78 397.04a0.65 0.65 0 1 0 1.31 0a0.65 0.65 0 1 0 -1.31 0M210.42 401.04a0.45 0.45 0 1 0 0.91 0a0.45 0.45 0 1 0 -0.91 0M206.12 404.08a0.55 0.55 0 1 0 1.09 0a0.55 0.55 0 1 0 -1.09 0M234.25 400.01a0.56 0.56 0 1 0 1.13 0a0.56 0.56 0 1 0 -1.13 0M264.08 396.34a0.48 0.48 0 1 0 0.95 0a0.48 0.48 0 1 0 -0.95 0M218.21 402.69a0.49 0.49 0 1 0 0.99 0a0.49 0.49 0 1 0 -0.99 0M259.35 396.3a0.58 0.58 0 1 0 1.17 0a0.58 0.58 0 1 0 -1.17 0M205.94 402.03a0.7 0.7 0 1 0 1.39 0a0.7 0.7 0 1 0 -1.39 0M228.7 402.73a0.75 0.75 0 1 0 1.49 0a0.75 0.75 0 1 0 -1.49 0M262.07 399.83a0.76 0.76 0 1 0 1.53 0a0.76 0.76 0 1 0 -1.53 0M255.28 404.66a0.5 0.5 0 1 0 1 0a0.5 0.5 0 1 0 -1 0M277.42 394.65a0.76 0.76 0 1 0 1.51 0a0.76 0.76 0 1 0 -1.51 0M238.01 400.08a0.84 0.84 0 1 0 1.67 0a0.84 0.84 0 1 0 -1.67 0M236.17 399.2a0.76 0.76 0 1 0 1.53 0a0.76 0.76 0 1 0 -1.53 0M209.75 399.58a0.63 0.63 0 1 0 1.27 0a0.63 0.63 0 1 0 -1.27 0M257.18 397.82a0.61 0.61 0 1 0 1.21 0a0.61 0.61 0 1 0 -1.21 0M234.06 398.83a0.58 0.58 0 1 0 1.16 0a0.58 0.58 0 1 0 -1.16 0M265.97 403.95a0.65 0.65 0 1 0 1.3 0a0.65 0.65 0 1 0 -1.3 0M218.7 396.63a0.57 0.57 0 1 0 1.14 0a0.57 0.57 0 1 0 -1.14 0M237.44 395.57a0.82 0.82 0 1 0 1.64 0a0.82 0.82 0 1 0 -1.64 0M201.91 403.88a0.79 0.79 0 1 0 1.57 0a0.79 0.79 0 1 0 -1.57 0M289.69 396.85a0.62 0.62 0 1 0 1.24 0a0.62 0.62 0 1 0 -1.24 0M283.19 394.72a0.47 0.47 0 1 0 0.94 0a0.47 0.47 0 1 0 -0.94 0M235.14 400.07a0.82 0.82 0 1 0 1.64 0a0.82 0.82 0 1 0 -1.64 0M263.89 400.52a0.85 0.85 0 1 0 1.7 0a0.85 0.85 0 1 0 -1.7 0M228.68 400.29a0.72 0.72 0 1 0 1.45 0a0.72 0.72 0 1 0 -1.45 0M211.07 398.53a0.69 0.69 0 1 0 1.38 0a0.69 0.69 0 1 0 -1.38 0M205.73 405.03a0.72 0.72 0 1 0 1.44 0a0.72 0.72 0 1 0 -1.44 0M229.88 395.69a0.6 0.6 0 1 0 1.2 0a0.6 0.6 0 1 0 -1.2 0M212.64 400.77a0.68 0.68 0 1 0 1.36 0a0.68 0.68 0 1 0 -1.36 0M224.47 399.44a0.7 0.7 0 1 0 1.4 0a0.7 0.7 0 1 0 -1.4 0M230.64 403.57a0.52 0.52 0 1 0 1.04 0a0.52 0.52 0 1 0 -1.04 0M252.36 403.63a0.85 0.85 0 1 0 1.69 0a0.85 0.85 0 1 0 -1.69 0M178.93 397.79a0.65 0.65 0 1 0 1.31 0a0.65 0.65 0 1 0 -1.31 0M227.15 396.67a0.52 0.52 0 1 0 1.05 0a0.52 0.52 0 1 0 -1.05 0M244.36 401.23a0.59 0.59 0 1 0 1.18 0a0.59 0.59 0 1 0 -1.18 0" fill="#fff" stroke="none"/>
<path d="M210.4 394.5H244.2L244.2 399 238.6 407.2H216L210.4 399Z" fill="#fff" stroke="none"/>
<path d="M221.2 394L221.2 397.5" stroke-width="1.4" fill="none" />
<path d="M233.8 394L233.8 397.5" stroke-width="1.4" fill="none" />
<path d="M210.4 397.5L244.2 397.5" stroke-width="1.24" fill="none" />
<path d="M210.4 397.5L221.4 425.2L232.4 425.2L244.2 397.5" stroke-width="1.4" fill="none" />
<path d="M219.6 425.3L234.2 425.3" stroke-width="1.4" />
<rect x="221.6" y="425.3" width="10.6" height="7.3" rx="2" stroke-width="1.4" fill="none" />
<path d="M159 487.2L301.5 487.2" stroke-width="1.86" />
<path d="M162.4 487.4H167L164.7 491.4Z" fill="#141414" stroke="none"/>
<path d="M179.7 487.4H184.3L182 491.4Z" fill="#141414" stroke="none"/>
<path d="M197.3 487.4H201.9L199.6 491.4Z" fill="#141414" stroke="none"/>
<path d="M216.2 487.4H220.8L218.5 491.4Z" fill="#141414" stroke="none"/>
<path d="M235.1 487.4H239.7L237.4 491.4Z" fill="#141414" stroke="none"/>
<path d="M254 487.4H258.6L256.3 491.4Z" fill="#141414" stroke="none"/>
<path d="M272.7 487.4H277.3L275 491.4Z" fill="#141414" stroke="none"/>
<path d="M290.3 487.4H294.9L292.6 491.4Z" fill="#141414" stroke="none"/>
</g>
<g id="fig32">
<path d="M489.3 93.4V46.5C492 43.6 499 43.4 502 45.4C505 47.4 510 47.2 513 44.6V92" stroke-width="1.47" fill="none" />
<path d="M489.3 46.5C492 49 498 49 502 45.4" stroke-width="1.08" fill="none" />
<path d="M515.5 61L515.5 91.5" stroke-width="1.24" />
<circle cx="506.1" cy="58.2" r="2.5" stroke-width="1.47" fill="none" />
<path d="M502.3 52.5L502.3 84" stroke-width="1.24" />
<path d="M502.3 66L502.3 69.5" stroke-width="2.48" />
<path d="M501.4 84.5V82H503.6V84.5Q507 85 507 88V93.4H499.2V88Q499.2 85 501.4 84.5Z" stroke-width="1.4" fill="none" />
<path d="M508.2 57L559.4 131" stroke-width="1.24" />
<path d="M483 92.2L517 95.8V100.5L483 96.6Z" fill="#141414" stroke="none"/>
<path d="M483.5 93.8L516 97.6" stroke="#fff" stroke-width="0.5"/>
<circle cx="484.2" cy="94.4" r="2.1" stroke-width="1.4" fill="#141414" />
<rect x="517" y="89.6" width="41.6" height="3.1" fill="#141414" stroke="none"/>
<path d="M520 91.1H556" stroke="#fff" stroke-width="0.5"/>
<path d="M518.2 86.8L518.2 90" stroke-width="2.17" />
<path d="M549.2 86.8L549.2 90" stroke-width="2.17" />
<path d="M554.3 86.8L554.3 90" stroke-width="2.17" />
<path d="M517.8 89L517.8 101" stroke-width="2.02" />
<path d="M519.9 96L551 96" stroke-width="2.33" />
<path d="M523 92.8L519.9 96" stroke-width="1.24" fill="none" />
<path d="M545 92.8L551 96" stroke-width="1.24" fill="none" />
<path d="M521.6 103.6L547.4 103.6" stroke-width="2.33" />
<path d="M522 96.5L527 103.2" stroke-width="1.24" />
<path d="M532 96.5L527 103.2" stroke-width="1.24" />
<path d="M532 96.5L537 103.2" stroke-width="1.24" />
<path d="M542 96.5L537 103.2" stroke-width="1.24" />
<path d="M542 96.5L547 103.2" stroke-width="1.24" />
<path d="M551 96.5L547 103.2" stroke-width="1.24" />
<path d="M523 104L542.6 128" stroke-width="2.48" />
<path d="M525.4 104L544.6 127" stroke-width="1.08" />
<path d="M551 104L536 121.5" stroke-width="2.48" />
<path d="M548.6 104L534.6 120" stroke-width="1.08" />
<path d="M555.4 92.6L555.4 119.3" stroke-width="1.24" />
<circle cx="555.4" cy="121" r="1.5" stroke-width="1.4" fill="none" />
<circle cx="563.6" cy="124.2" r="1.5" stroke-width="1.24" fill="#141414" />
<path d="M561.6 126.4H565.8V132.6H560.4Z" fill="#141414" stroke="none"/>
<path d="M557 124L561.6 128" stroke-width="1.4" fill="none" />
<rect x="501" y="99.6" width="6" height="9.4" rx="0" stroke-width="1.4" fill="#fff" />
<path d="M496 109L509.6 110.3L507 114.2L498.6 113Z" fill="#141414" stroke="none"/>
<path d="M487 101L493.5 109" stroke-width="2.17" fill="none" />
<path d="M484.3 102.4L462 132.8" stroke-width="2.63" fill="none" />
<path d="M486.8 103L466.5 132.4" stroke-width="1.08" fill="none" />
<path d="M484.3 103L521.3 103" stroke-width="1.4" />
<path d="M521.3 103L543.6 131.6" stroke-width="2.33" fill="none" />
<path d="M479.7 114.6L487.2 114.6L480.4 128.3L471.8 128.3Z" stroke-width="1.4" fill="none" />
<path d="M521.3 114.6L528.1 114.6L535 128L524.7 128Z" stroke-width="1.4" fill="none" />
<path d="M462 132.9L578.6 132.9" stroke-width="1.55" />
<path d="M509.4 114.4L484.6 137L483 135.4L506.6 112.8" stroke-width="1.4" fill="#fff" />
<rect x="457.6" y="131.4" width="6" height="4.2" fill="#141414" stroke="none"/>
<rect x="546.6" y="131.4" width="6" height="4.2" fill="#141414" stroke="none"/>
<path d="M482.6 91L459.4 103.9" stroke-width="1.55" stroke-dasharray="4.5 2.2"/>
<path d="M481.7 103L453.4 120.2" stroke-width="1.55" stroke-dasharray="4.5 2.2"/>
<path d="M465.8 51L493.5 61.4" stroke-width="0.93" />
<text x="463" y="53.3" font-size="10" text-anchor="middle" >1</text>
<path d="M464.3 72.9L501.4 88.6" stroke-width="0.93" />
<text x="461.4" y="74.5" font-size="10" text-anchor="middle" >2</text>
<path d="M462.9 82.3L483.5 93" stroke-width="0.93" />
<text x="460" y="84" font-size="10" text-anchor="middle" >3</text>
<path d="M456.8 93.6L472.3 101.3" stroke-width="0.93" />
<text x="453.6" y="96.3" font-size="10" text-anchor="middle" >4</text>
<path d="M447.3 105.3L490.3 130.5" stroke-width="0.93" />
<text x="443.6" y="107.6" font-size="10" text-anchor="middle" >5</text>
<path d="M443 121.1L458.5 131.4" stroke-width="0.93" />
<text x="438.8" y="123.6" font-size="10" text-anchor="middle" >6</text>
<path d="M436.2 137.4L462 150.3" stroke-width="0.93" />
<text x="432.4" y="140" font-size="10" text-anchor="middle" >7</text>
<path d="M463.6 135.6L463.6 170L470 183.8L470.8 316.5L476.4 316.5L475.6 189.5L475 163L473 150.4L470.4 135.6Z" fill="#b4b4b4" stroke="none"/>
<path d="M473.12 191.09a0.56 0.56 0 1 0 1.11 0a0.56 0.56 0 1 0 -1.11 0M473.83 241.64a0.55 0.55 0 1 0 1.1 0a0.55 0.55 0 1 0 -1.1 0M470.14 183.72a0.54 0.54 0 1 0 1.09 0a0.54 0.54 0 1 0 -1.09 0M470.57 209.97a0.39 0.39 0 1 0 0.77 0a0.39 0.39 0 1 0 -0.77 0M464.56 153.71a0.4 0.4 0 1 0 0.8 0a0.4 0.4 0 1 0 -0.8 0M471.08 281.51a0.37 0.37 0 1 0 0.74 0a0.37 0.37 0 1 0 -0.74 0M467.7 166.25a0.43 0.43 0 1 0 0.86 0a0.43 0.43 0 1 0 -0.86 0M470.57 198.71a0.48 0.48 0 1 0 0.97 0a0.48 0.48 0 1 0 -0.97 0M467.92 145.49a0.62 0.62 0 1 0 1.23 0a0.62 0.62 0 1 0 -1.23 0M470.58 309.19a0.48 0.48 0 1 0 0.96 0a0.48 0.48 0 1 0 -0.96 0M471.18 180.7a0.36 0.36 0 1 0 0.73 0a0.36 0.36 0 1 0 -0.73 0M475.07 290.22a0.44 0.44 0 1 0 0.89 0a0.44 0.44 0 1 0 -0.89 0M474.66 283.2a0.44 0.44 0 1 0 0.88 0a0.44 0.44 0 1 0 -0.88 0M470.81 309.27a0.5 0.5 0 1 0 1 0a0.5 0.5 0 1 0 -1 0M474.22 223.23a0.59 0.59 0 1 0 1.18 0a0.59 0.59 0 1 0 -1.18 0M466.26 166.98a0.46 0.46 0 1 0 0.92 0a0.46 0.46 0 1 0 -0.92 0M463.84 157.9a0.6 0.6 0 1 0 1.2 0a0.6 0.6 0 1 0 -1.2 0M466.09 141.92a0.55 0.55 0 1 0 1.1 0a0.55 0.55 0 1 0 -1.1 0M467.41 163.8a0.56 0.56 0 1 0 1.12 0a0.56 0.56 0 1 0 -1.12 0M473.81 158.72a0.48 0.48 0 1 0 0.97 0a0.48 0.48 0 1 0 -0.97 0M473.91 281.21a0.4 0.4 0 1 0 0.8 0a0.4 0.4 0 1 0 -0.8 0M469.58 176.71a0.49 0.49 0 1 0 0.97 0a0.49 0.49 0 1 0 -0.97 0M470.7 202.17a0.42 0.42 0 1 0 0.85 0a0.42 0.42 0 1 0 -0.85 0M470.77 174.05a0.61 0.61 0 1 0 1.22 0a0.61 0.61 0 1 0 -1.22 0M469.96 184.52a0.58 0.58 0 1 0 1.16 0a0.58 0.58 0 1 0 -1.16 0M470.4 191.82a0.47 0.47 0 1 0 0.93 0a0.47 0.47 0 1 0 -0.93 0M464.1 167.63a0.61 0.61 0 1 0 1.21 0a0.61 0.61 0 1 0 -1.21 0M466.96 147.52a0.44 0.44 0 1 0 0.89 0a0.44 0.44 0 1 0 -0.89 0M465.93 158.42a0.57 0.57 0 1 0 1.13 0a0.57 0.57 0 1 0 -1.13 0M474.62 275.8a0.61 0.61 0 1 0 1.23 0a0.61 0.61 0 1 0 -1.23 0M466.59 140.95a0.55 0.55 0 1 0 1.11 0a0.55 0.55 0 1 0 -1.11 0M471.62 199.17a0.47 0.47 0 1 0 0.95 0a0.47 0.47 0 1 0 -0.95 0M471.61 262.09a0.42 0.42 0 1 0 0.85 0a0.42 0.42 0 1 0 -0.85 0M473.9 199.3a0.54 0.54 0 1 0 1.08 0a0.54 0.54 0 1 0 -1.08 0M465.3 156.45a0.62 0.62 0 1 0 1.25 0a0.62 0.62 0 1 0 -1.25 0M472.63 264.51a0.36 0.36 0 1 0 0.72 0a0.36 0.36 0 1 0 -0.72 0M463.7 164.91a0.41 0.41 0 1 0 0.82 0a0.41 0.41 0 1 0 -0.82 0M471.17 168.1a0.6 0.6 0 1 0 1.2 0a0.6 0.6 0 1 0 -1.2 0M470.47 265.24a0.43 0.43 0 1 0 0.85 0a0.43 0.43 0 1 0 -0.85 0M467.47 135.78a0.6 0.6 0 1 0 1.2 0a0.6 0.6 0 1 0 -1.2 0M473.18 187.4a0.36 0.36 0 1 0 0.73 0a0.36 0.36 0 1 0 -0.73 0M474.17 245.48a0.36 0.36 0 1 0 0.73 0a0.36 0.36 0 1 0 -0.73 0M466.14 155.71a0.59 0.59 0 1 0 1.17 0a0.59 0.59 0 1 0 -1.17 0M471.92 206.81a0.57 0.57 0 1 0 1.15 0a0.57 0.57 0 1 0 -1.15 0M473.83 186.46a0.38 0.38 0 1 0 0.75 0a0.38 0.38 0 1 0 -0.75 0M475.08 212.3a0.63 0.63 0 1 0 1.26 0a0.63 0.63 0 1 0 -1.26 0M471.85 269.21a0.6 0.6 0 1 0 1.2 0a0.6 0.6 0 1 0 -1.2 0M471.27 217.51a0.37 0.37 0 1 0 0.73 0a0.37 0.37 0 1 0 -0.73 0M472.03 213.09a0.5 0.5 0 1 0 1.01 0a0.5 0.5 0 1 0 -1.01 0M472.17 281.36a0.43 0.43 0 1 0 0.86 0a0.43 0.43 0 1 0 -0.86 0M471.34 234a0.42 0.42 0 1 0 0.85 0a0.42 0.42 0 1 0 -0.85 0M468.43 172.04a0.44 0.44 0 1 0 0.89 0a0.44 0.44 0 1 0 -0.89 0M471.76 178.63a0.42 0.42 0 1 0 0.85 0a0.42 0.42 0 1 0 -0.85 0M469.57 216.11a0.63 0.63 0 1 0 1.26 0a0.63 0.63 0 1 0 -1.26 0M470.22 195.94a0.59 0.59 0 1 0 1.19 0a0.59 0.59 0 1 0 -1.19 0M470.22 273.18a0.4 0.4 0 1 0 0.8 0a0.4 0.4 0 1 0 -0.8 0M471.64 243.9a0.49 0.49 0 1 0 0.98 0a0.49 0.49 0 1 0 -0.98 0M473.02 285.96a0.38 0.38 0 1 0 0.77 0a0.38 0.38 0 1 0 -0.77 0M465.81 146.51a0.43 0.43 0 1 0 0.87 0a0.43 0.43 0 1 0 -0.87 0M468.89 156.04a0.45 0.45 0 1 0 0.89 0a0.45 0.45 0 1 0 -0.89 0M465.4 148.59a0.35 0.35 0 1 0 0.71 0a0.35 0.35 0 1 0 -0.71 0M468.65 169.94a0.51 0.51 0 1 0 1.03 0a0.51 0.51 0 1 0 -1.03 0M471.22 249.16a0.63 0.63 0 1 0 1.26 0a0.63 0.63 0 1 0 -1.26 0M471.53 181.08a0.42 0.42 0 1 0 0.85 0a0.42 0.42 0 1 0 -0.85 0M464.79 140.61a0.58 0.58 0 1 0 1.16 0a0.58 0.58 0 1 0 -1.16 0M473.94 189.2a0.41 0.41 0 1 0 0.81 0a0.41 0.41 0 1 0 -0.81 0M471.14 288.59a0.63 0.63 0 1 0 1.26 0a0.63 0.63 0 1 0 -1.26 0M473.78 269.89a0.45 0.45 0 1 0 0.9 0a0.45 0.45 0 1 0 -0.9 0M470.06 202.4a0.6 0.6 0 1 0 1.2 0a0.6 0.6 0 1 0 -1.2 0M466.14 143.06a0.52 0.52 0 1 0 1.04 0a0.52 0.52 0 1 0 -1.04 0M471.08 283.89a0.56 0.56 0 1 0 1.12 0a0.56 0.56 0 1 0 -1.12 0M474.69 306.54a0.5 0.5 0 1 0 1 0a0.5 0.5 0 1 0 -1 0M469.55 164.09a0.44 0.44 0 1 0 0.88 0a0.44 0.44 0 1 0 -0.88 0M470.48 150.11a0.56 0.56 0 1 0 1.11 0a0.56 0.56 0 1 0 -1.11 0M474.07 277.95a0.48 0.48 0 1 0 0.96 0a0.48 0.48 0 1 0 -0.96 0M469.74 211.8a0.45 0.45 0 1 0 0.9 0a0.45 0.45 0 1 0 -0.9 0M473.77 299.13a0.4 0.4 0 1 0 0.8 0a0.4 0.4 0 1 0 -0.8 0M470.4 198.57a0.41 0.41 0 1 0 0.82 0a0.41 0.41 0 1 0 -0.82 0M474.59 292.15a0.64 0.64 0 1 0 1.28 0a0.64 0.64 0 1 0 -1.28 0M475.32 247.73a0.59 0.59 0 1 0 1.19 0a0.59 0.59 0 1 0 -1.19 0M470.88 189.33a0.52 0.52 0 1 0 1.04 0a0.52 0.52 0 1 0 -1.04 0M475.25 222.56a0.54 0.54 0 1 0 1.09 0a0.54 0.54 0 1 0 -1.09 0M468.78 151.01a0.55 0.55 0 1 0 1.1 0a0.55 0.55 0 1 0 -1.1 0M470.45 207.3a0.38 0.38 0 1 0 0.77 0a0.38 0.38 0 1 0 -0.77 0M470.01 155.91a0.61 0.61 0 1 0 1.22 0a0.61 0.61 0 1 0 -1.22 0M466.34 152.78a0.51 0.51 0 1 0 1.02 0a0.51 0.51 0 1 0 -1.02 0M470.17 176.58a0.52 0.52 0 1 0 1.04 0a0.52 0.52 0 1 0 -1.04 0M470.66 150.11a0.47 0.47 0 1 0 0.94 0a0.47 0.47 0 1 0 -0.94 0M474.09 235.2a0.56 0.56 0 1 0 1.13 0a0.56 0.56 0 1 0 -1.13 0M472.64 156.33a0.65 0.65 0 1 0 1.29 0a0.65 0.65 0 1 0 -1.29 0M472.24 154.07a0.6 0.6 0 1 0 1.2 0a0.6 0.6 0 1 0 -1.2 0M467.98 166.58a0.64 0.64 0 1 0 1.28 0a0.64 0.64 0 1 0 -1.28 0M470.42 275.79a0.39 0.39 0 1 0 0.78 0a0.39 0.39 0 1 0 -0.78 0M472.04 212.66a0.62 0.62 0 1 0 1.23 0a0.62 0.62 0 1 0 -1.23 0M471.03 293.37a0.52 0.52 0 1 0 1.04 0a0.52 0.52 0 1 0 -1.04 0M474.94 293.12a0.4 0.4 0 1 0 0.8 0a0.4 0.4 0 1 0 -0.8 0M472.56 197.36a0.58 0.58 0 1 0 1.16 0a0.58 0.58 0 1 0 -1.16 0M471.92 284.96a0.39 0.39 0 1 0 0.77 0a0.39 0.39 0 1 0 -0.77 0M475.37 266.17a0.36 0.36 0 1 0 0.73 0a0.36 0.36 0 1 0 -0.73 0M470.81 153.63a0.51 0.51 0 1 0 1.03 0a0.51 0.51 0 1 0 -1.03 0M473.25 156.04a0.63 0.63 0 1 0 1.26 0a0.63 0.63 0 1 0 -1.26 0M471.83 181.66a0.41 0.41 0 1 0 0.82 0a0.41 0.41 0 1 0 -0.82 0M470.69 156.15a0.36 0.36 0 1 0 0.71 0a0.36 0.36 0 1 0 -0.71 0M467.86 161.69a0.61 0.61 0 1 0 1.23 0a0.61 0.61 0 1 0 -1.23 0M469.9 260.33a0.59 0.59 0 1 0 1.18 0a0.59 0.59 0 1 0 -1.18 0M467.48 162.9a0.5 0.5 0 1 0 1 0a0.5 0.5 0 1 0 -1 0M474.41 280.4a0.36 0.36 0 1 0 0.72 0a0.36 0.36 0 1 0 -0.72 0M471.81 206.61a0.49 0.49 0 1 0 0.99 0a0.49 0.49 0 1 0 -0.99 0M470.97 149.33a0.45 0.45 0 1 0 0.9 0a0.45 0.45 0 1 0 -0.9 0M470.74 143.5a0.4 0.4 0 1 0 0.8 0a0.4 0.4 0 1 0 -0.8 0M470.53 205.77a0.46 0.46 0 1 0 0.91 0a0.46 0.46 0 1 0 -0.91 0M467.38 139.31a0.49 0.49 0 1 0 0.98 0a0.49 0.49 0 1 0 -0.98 0M469.48 183.01a0.52 0.52 0 1 0 1.04 0a0.52 0.52 0 1 0 -1.04 0M470.16 275.06a0.61 0.61 0 1 0 1.22 0a0.61 0.61 0 1 0 -1.22 0M472.97 250.13a0.54 0.54 0 1 0 1.08 0a0.54 0.54 0 1 0 -1.08 0M473.15 293.49a0.63 0.63 0 1 0 1.26 0a0.63 0.63 0 1 0 -1.26 0M471.74 190.59a0.58 0.58 0 1 0 1.16 0a0.58 0.58 0 1 0 -1.16 0M472.53 227.66a0.54 0.54 0 1 0 1.08 0a0.54 0.54 0 1 0 -1.08 0M468.35 146.54a0.45 0.45 0 1 0 0.9 0a0.45 0.45 0 1 0 -0.9 0M467.72 160.13a0.35 0.35 0 1 0 0.7 0a0.35 0.35 0 1 0 -0.7 0M474.26 217.57a0.48 0.48 0 1 0 0.97 0a0.48 0.48 0 1 0 -0.97 0M470.48 190.31a0.4 0.4 0 1 0 0.8 0a0.4 0.4 0 1 0 -0.8 0M470.66 150.08a0.4 0.4 0 1 0 0.81 0a0.4 0.4 0 1 0 -0.81 0M470.57 314.23a0.46 0.46 0 1 0 0.91 0a0.46 0.46 0 1 0 -0.91 0M472.9 213.07a0.61 0.61 0 1 0 1.22 0a0.61 0.61 0 1 0 -1.22 0M474.68 185.51a0.43 0.43 0 1 0 0.85 0a0.43 0.43 0 1 0 -0.85 0M463.46 165.37a0.43 0.43 0 1 0 0.86 0a0.43 0.43 0 1 0 -0.86 0M472.15 175.09a0.47 0.47 0 1 0 0.94 0a0.47 0.47 0 1 0 -0.94 0M474.25 252.84a0.41 0.41 0 1 0 0.82 0a0.41 0.41 0 1 0 -0.82 0M472.46 309.83a0.53 0.53 0 1 0 1.06 0a0.53 0.53 0 1 0 -1.06 0M474.42 197.32a0.39 0.39 0 1 0 0.78 0a0.39 0.39 0 1 0 -0.78 0M474.18 251.36a0.63 0.63 0 1 0 1.25 0a0.63 0.63 0 1 0 -1.25 0M472.72 252.99a0.47 0.47 0 1 0 0.94 0a0.47 0.47 0 1 0 -0.94 0M471.92 196.7a0.37 0.37 0 1 0 0.73 0a0.37 0.37 0 1 0 -0.73 0M468.36 143.82a0.54 0.54 0 1 0 1.08 0a0.54 0.54 0 1 0 -1.08 0M470.76 182.09a0.49 0.49 0 1 0 0.98 0a0.49 0.49 0 1 0 -0.98 0M470.45 314.24a0.37 0.37 0 1 0 0.73 0a0.37 0.37 0 1 0 -0.73 0M471.01 266.6a0.45 0.45 0 1 0 0.9 0a0.45 0.45 0 1 0 -0.9 0M464.4 163.86a0.39 0.39 0 1 0 0.79 0a0.39 0.39 0 1 0 -0.79 0M473.51 212.16a0.51 0.51 0 1 0 1.02 0a0.51 0.51 0 1 0 -1.02 0M470.59 236a0.55 0.55 0 1 0 1.09 0a0.55 0.55 0 1 0 -1.09 0M470.73 195.45a0.57 0.57 0 1 0 1.14 0a0.57 0.57 0 1 0 -1.14 0M472.93 275.98a0.44 0.44 0 1 0 0.89 0a0.44 0.44 0 1 0 -0.89 0M473 312.41a0.49 0.49 0 1 0 0.97 0a0.49 0.49 0 1 0 -0.97 0M471.53 275.65a0.46 0.46 0 1 0 0.92 0a0.46 0.46 0 1 0 -0.92 0M463.59 159.87a0.37 0.37 0 1 0 0.74 0a0.37 0.37 0 1 0 -0.74 0M467.88 162.61a0.4 0.4 0 1 0 0.81 0a0.4 0.4 0 1 0 -0.81 0M472.64 302.29a0.4 0.4 0 1 0 0.8 0a0.4 0.4 0 1 0 -0.8 0M471.25 208.3a0.61 0.61 0 1 0 1.22 0a0.61 0.61 0 1 0 -1.22 0M475.28 249.05a0.42 0.42 0 1 0 0.83 0a0.42 0.42 0 1 0 -0.83 0M468.74 177.46a0.41 0.41 0 1 0 0.82 0a0.41 0.41 0 1 0 -0.82 0M472.88 251.87a0.44 0.44 0 1 0 0.88 0a0.44 0.44 0 1 0 -0.88 0M470.28 163.95a0.61 0.61 0 1 0 1.22 0a0.61 0.61 0 1 0 -1.22 0M474.15 183.95a0.58 0.58 0 1 0 1.15 0a0.58 0.58 0 1 0 -1.15 0M473.68 186.72a0.45 0.45 0 1 0 0.9 0a0.45 0.45 0 1 0 -0.9 0M470.73 217.56a0.52 0.52 0 1 0 1.05 0a0.52 0.52 0 1 0 -1.05 0M474.29 173.56a0.62 0.62 0 1 0 1.23 0a0.62 0.62 0 1 0 -1.23 0M474.04 168.58a0.61 0.61 0 1 0 1.22 0a0.61 0.61 0 1 0 -1.22 0M463.27 155.78a0.64 0.64 0 1 0 1.28 0a0.64 0.64 0 1 0 -1.28 0M464.29 166.13a0.55 0.55 0 1 0 1.11 0a0.55 0.55 0 1 0 -1.11 0M474.74 265.19a0.61 0.61 0 1 0 1.23 0a0.61 0.61 0 1 0 -1.23 0M469.58 177.5a0.48 0.48 0 1 0 0.96 0a0.48 0.48 0 1 0 -0.96 0M464.3 139.21a0.65 0.65 0 1 0 1.29 0a0.65 0.65 0 1 0 -1.29 0M469.55 155.93a0.46 0.46 0 1 0 0.91 0a0.46 0.46 0 1 0 -0.91 0M467.43 174.52a0.64 0.64 0 1 0 1.28 0a0.64 0.64 0 1 0 -1.28 0M474.47 267.91a0.43 0.43 0 1 0 0.86 0a0.43 0.43 0 1 0 -0.86 0M463.98 143.41a0.5 0.5 0 1 0 1.01 0a0.5 0.5 0 1 0 -1.01 0M467.68 137.52a0.56 0.56 0 1 0 1.11 0a0.56 0.56 0 1 0 -1.11 0M471.45 234a0.51 0.51 0 1 0 1.03 0a0.51 0.51 0 1 0 -1.03 0M471.82 313.31a0.61 0.61 0 1 0 1.22 0a0.61 0.61 0 1 0 -1.22 0M472.34 207.83a0.45 0.45 0 1 0 0.89 0a0.45 0.45 0 1 0 -0.89 0M468.2 161.48a0.65 0.65 0 1 0 1.3 0a0.65 0.65 0 1 0 -1.3 0M471 203.79a0.42 0.42 0 1 0 0.84 0a0.42 0.42 0 1 0 -0.84 0M465.54 156.61a0.6 0.6 0 1 0 1.21 0a0.6 0.6 0 1 0 -1.21 0M473.27 299.95a0.36 0.36 0 1 0 0.73 0a0.36 0.36 0 1 0 -0.73 0M471.94 194.28a0.54 0.54 0 1 0 1.09 0a0.54 0.54 0 1 0 -1.09 0M469.99 192.69a0.64 0.64 0 1 0 1.28 0a0.64 0.64 0 1 0 -1.28 0M474 227.88a0.53 0.53 0 1 0 1.06 0a0.53 0.53 0 1 0 -1.06 0M471.19 270.06a0.46 0.46 0 1 0 0.93 0a0.46 0.46 0 1 0 -0.93 0M472.21 206.79a0.51 0.51 0 1 0 1.02 0a0.51 0.51 0 1 0 -1.02 0M471 258.11a0.45 0.45 0 1 0 0.89 0a0.45 0.45 0 1 0 -0.89 0M471.23 233.84a0.42 0.42 0 1 0 0.83 0a0.42 0.42 0 1 0 -0.83 0M470.82 183.53a0.62 0.62 0 1 0 1.25 0a0.62 0.62 0 1 0 -1.25 0M469.87 221.82a0.42 0.42 0 1 0 0.83 0a0.42 0.42 0 1 0 -0.83 0M469.86 230.38a0.51 0.51 0 1 0 1.02 0a0.51 0.51 0 1 0 -1.02 0M473.61 178.77a0.4 0.4 0 1 0 0.8 0a0.4 0.4 0 1 0 -0.8 0M473.58 218.87a0.54 0.54 0 1 0 1.08 0a0.54 0.54 0 1 0 -1.08 0M473.58 297.33a0.61 0.61 0 1 0 1.22 0a0.61 0.61 0 1 0 -1.22 0M473.86 283.53a0.39 0.39 0 1 0 0.77 0a0.39 0.39 0 1 0 -0.77 0M473.4 229.91a0.49 0.49 0 1 0 0.97 0a0.49 0.49 0 1 0 -0.97 0M473.42 272.87a0.39 0.39 0 1 0 0.79 0a0.39 0.39 0 1 0 -0.79 0M471.8 201.98a0.51 0.51 0 1 0 1.01 0a0.51 0.51 0 1 0 -1.01 0M470.5 146.04a0.4 0.4 0 1 0 0.81 0a0.4 0.4 0 1 0 -0.81 0M472.35 185.27a0.45 0.45 0 1 0 0.89 0a0.45 0.45 0 1 0 -0.89 0M474.12 172.08a0.48 0.48 0 1 0 0.95 0a0.48 0.48 0 1 0 -0.95 0M473.28 247.37a0.46 0.46 0 1 0 0.92 0a0.46 0.46 0 1 0 -0.92 0M471.44 282.28a0.46 0.46 0 1 0 0.91 0a0.46 0.46 0 1 0 -0.91 0M475.57 264.38a0.46 0.46 0 1 0 0.92 0a0.46 0.46 0 1 0 -0.92 0M471.75 195.2a0.37 0.37 0 1 0 0.74 0a0.37 0.37 0 1 0 -0.74 0M472.77 204.23a0.51 0.51 0 1 0 1.02 0a0.51 0.51 0 1 0 -1.02 0M470.7 219.27a0.49 0.49 0 1 0 0.98 0a0.49 0.49 0 1 0 -0.98 0M473.85 210.65a0.49 0.49 0 1 0 0.98 0a0.49 0.49 0 1 0 -0.98 0M474.5 215.17a0.5 0.5 0 1 0 0.99 0a0.5 0.5 0 1 0 -0.99 0M471.71 269.55a0.47 0.47 0 1 0 0.94 0a0.47 0.47 0 1 0 -0.94 0M470.11 274.75a0.58 0.58 0 1 0 1.16 0a0.58 0.58 0 1 0 -1.16 0M464.33 151.56a0.58 0.58 0 1 0 1.15 0a0.58 0.58 0 1 0 -1.15 0M470.27 145.55a0.55 0.55 0 1 0 1.11 0a0.55 0.55 0 1 0 -1.11 0M472.34 222.94a0.37 0.37 0 1 0 0.73 0a0.37 0.37 0 1 0 -0.73 0M471.92 211.2a0.53 0.53 0 1 0 1.05 0a0.53 0.53 0 1 0 -1.05 0M474.31 161.93a0.45 0.45 0 1 0 0.9 0a0.45 0.45 0 1 0 -0.9 0M469.59 136.69a0.65 0.65 0 1 0 1.29 0a0.65 0.65 0 1 0 -1.29 0M474.09 236.12a0.5 0.5 0 1 0 1.01 0a0.5 0.5 0 1 0 -1.01 0M468.54 144.85a0.44 0.44 0 1 0 0.88 0a0.44 0.44 0 1 0 -0.88 0M474.09 280.68a0.61 0.61 0 1 0 1.21 0a0.61 0.61 0 1 0 -1.21 0M466.53 172.14a0.37 0.37 0 1 0 0.73 0a0.37 0.37 0 1 0 -0.73 0M469.98 203.22a0.49 0.49 0 1 0 0.98 0a0.49 0.49 0 1 0 -0.98 0M470.27 144.85a0.44 0.44 0 1 0 0.89 0a0.44 0.44 0 1 0 -0.89 0M469.9 209.58a0.52 0.52 0 1 0 1.04 0a0.52 0.52 0 1 0 -1.04 0M473.23 188.34a0.56 0.56 0 1 0 1.13 0a0.56 0.56 0 1 0 -1.13 0M473.39 242.71a0.49 0.49 0 1 0 0.97 0a0.49 0.49 0 1 0 -0.97 0M474.95 216.08a0.61 0.61 0 1 0 1.23 0a0.61 0.61 0 1 0 -1.23 0M471.17 144.46a0.61 0.61 0 1 0 1.22 0a0.61 0.61 0 1 0 -1.22 0M470.28 280.45a0.5 0.5 0 1 0 1 0a0.5 0.5 0 1 0 -1 0M471.79 257.7a0.44 0.44 0 1 0 0.88 0a0.44 0.44 0 1 0 -0.88 0M465.87 153.85a0.38 0.38 0 1 0 0.76 0a0.38 0.38 0 1 0 -0.76 0M473.16 307.61a0.47 0.47 0 1 0 0.95 0a0.47 0.47 0 1 0 -0.95 0M471.41 182.2a0.62 0.62 0 1 0 1.24 0a0.62 0.62 0 1 0 -1.24 0M472.01 163.61a0.37 0.37 0 1 0 0.73 0a0.37 0.37 0 1 0 -0.73 0M473.88 188.72a0.42 0.42 0 1 0 0.84 0a0.42 0.42 0 1 0 -0.84 0M470.53 193.26a0.52 0.52 0 1 0 1.04 0a0.52 0.52 0 1 0 -1.04 0M471.29 176.01a0.51 0.51 0 1 0 1.03 0a0.51 0.51 0 1 0 -1.03 0M472.37 213.36a0.55 0.55 0 1 0 1.11 0a0.55 0.55 0 1 0 -1.11 0M469.88 188.2a0.45 0.45 0 1 0 0.91 0a0.45 0.45 0 1 0 -0.91 0M472.58 225.43a0.63 0.63 0 1 0 1.26 0a0.63 0.63 0 1 0 -1.26 0M474.15 243.74a0.51 0.51 0 1 0 1.02 0a0.51 0.51 0 1 0 -1.02 0M464.3 160.87a0.43 0.43 0 1 0 0.86 0a0.43 0.43 0 1 0 -0.86 0M474.61 288.53a0.42 0.42 0 1 0 0.84 0a0.42 0.42 0 1 0 -0.84 0M470.81 310.59a0.45 0.45 0 1 0 0.91 0a0.45 0.45 0 1 0 -0.91 0M475.32 254.37a0.37 0.37 0 1 0 0.73 0a0.37 0.37 0 1 0 -0.73 0M466.9 148.16a0.52 0.52 0 1 0 1.04 0a0.52 0.52 0 1 0 -1.04 0M473.2 243.34a0.49 0.49 0 1 0 0.98 0a0.49 0.49 0 1 0 -0.98 0M471.69 165.25a0.4 0.4 0 1 0 0.8 0a0.4 0.4 0 1 0 -0.8 0M473.89 293.6a0.49 0.49 0 1 0 0.99 0a0.49 0.49 0 1 0 -0.99 0M464.89 152.61a0.61 0.61 0 1 0 1.23 0a0.61 0.61 0 1 0 -1.23 0M469.97 156.87a0.49 0.49 0 1 0 0.98 0a0.49 0.49 0 1 0 -0.98 0M465.78 158.59a0.42 0.42 0 1 0 0.84 0a0.42 0.42 0 1 0 -0.84 0M474.14 226.37a0.62 0.62 0 1 0 1.23 0a0.62 0.62 0 1 0 -1.23 0M470.48 260.23a0.42 0.42 0 1 0 0.84 0a0.42 0.42 0 1 0 -0.84 0M472.77 163.4a0.43 0.43 0 1 0 0.86 0a0.43 0.43 0 1 0 -0.86 0M469.61 188.42a0.62 0.62 0 1 0 1.23 0a0.62 0.62 0 1 0 -1.23 0M473.27 264.18a0.37 0.37 0 1 0 0.74 0a0.37 0.37 0 1 0 -0.74 0M470.92 260.75a0.59 0.59 0 1 0 1.19 0a0.59 0.59 0 1 0 -1.19 0M472.6 258.4a0.4 0.4 0 1 0 0.79 0a0.4 0.4 0 1 0 -0.79 0M467.6 160.99a0.41 0.41 0 1 0 0.82 0a0.41 0.41 0 1 0 -0.82 0M475.51 316.01a0.59 0.59 0 1 0 1.17 0a0.59 0.59 0 1 0 -1.17 0M473 299.87a0.58 0.58 0 1 0 1.15 0a0.58 0.58 0 1 0 -1.15 0M471.21 171.61a0.54 0.54 0 1 0 1.08 0a0.54 0.54 0 1 0 -1.08 0M474.05 277.9a0.38 0.38 0 1 0 0.76 0a0.38 0.38 0 1 0 -0.76 0M472.38 198.77a0.4 0.4 0 1 0 0.8 0a0.4 0.4 0 1 0 -0.8 0M475.39 257.29a0.57 0.57 0 1 0 1.15 0a0.57 0.57 0 1 0 -1.15 0M475.02 299.28a0.57 0.57 0 1 0 1.15 0a0.57 0.57 0 1 0 -1.15 0M473.73 280.71a0.53 0.53 0 1 0 1.05 0a0.53 0.53 0 1 0 -1.05 0M473.2 293.13a0.44 0.44 0 1 0 0.88 0a0.44 0.44 0 1 0 -0.88 0M475.57 278.06a0.43 0.43 0 1 0 0.85 0a0.43 0.43 0 1 0 -0.85 0M473.92 177.58a0.41 0.41 0 1 0 0.82 0a0.41 0.41 0 1 0 -0.82 0M468.96 178.41a0.5 0.5 0 1 0 1 0a0.5 0.5 0 1 0 -1 0M474.66 259.58a0.56 0.56 0 1 0 1.13 0a0.56 0.56 0 1 0 -1.13 0M473.13 259.13a0.63 0.63 0 1 0 1.27 0a0.63 0.63 0 1 0 -1.27 0M473.79 209.09a0.38 0.38 0 1 0 0.75 0a0.38 0.38 0 1 0 -0.75 0M471.5 286.88a0.45 0.45 0 1 0 0.9 0a0.45 0.45 0 1 0 -0.9 0M470.63 286.89a0.59 0.59 0 1 0 1.18 0a0.59 0.59 0 1 0 -1.18 0M463.22 155.61a0.59 0.59 0 1 0 1.19 0a0.59 0.59 0 1 0 -1.19 0M473.97 247.63a0.44 0.44 0 1 0 0.88 0a0.44 0.44 0 1 0 -0.88 0M472.03 215.56a0.55 0.55 0 1 0 1.1 0a0.55 0.55 0 1 0 -1.1 0M473.38 157.44a0.55 0.55 0 1 0 1.11 0a0.55 0.55 0 1 0 -1.11 0M470.94 297.31a0.47 0.47 0 1 0 0.94 0a0.47 0.47 0 1 0 -0.94 0M462.97 167.32a0.63 0.63 0 1 0 1.27 0a0.63 0.63 0 1 0 -1.27 0M474.17 228.56a0.46 0.46 0 1 0 0.93 0a0.46 0.46 0 1 0 -0.93 0M474.94 297.29a0.55 0.55 0 1 0 1.1 0a0.55 0.55 0 1 0 -1.1 0M471.18 203.59a0.51 0.51 0 1 0 1.01 0a0.51 0.51 0 1 0 -1.01 0M471.76 299.71a0.5 0.5 0 1 0 1 0a0.5 0.5 0 1 0 -1 0M471.86 236.44a0.48 0.48 0 1 0 0.97 0a0.48 0.48 0 1 0 -0.97 0M472.65 296.8a0.57 0.57 0 1 0 1.14 0a0.57 0.57 0 1 0 -1.14 0M467.13 160.38a0.64 0.64 0 1 0 1.27 0a0.64 0.64 0 1 0 -1.27 0M470.76 239.94a0.36 0.36 0 1 0 0.73 0a0.36 0.36 0 1 0 -0.73 0M471.23 186.41a0.58 0.58 0 1 0 1.16 0a0.58 0.58 0 1 0 -1.16 0M471.35 281.21a0.55 0.55 0 1 0 1.11 0a0.55 0.55 0 1 0 -1.11 0M472.25 260.57a0.43 0.43 0 1 0 0.87 0a0.43 0.43 0 1 0 -0.87 0M473.72 279.17a0.45 0.45 0 1 0 0.91 0a0.45 0.45 0 1 0 -0.91 0M474.26 164.93a0.57 0.57 0 1 0 1.14 0a0.57 0.57 0 1 0 -1.14 0M468.78 155.21a0.43 0.43 0 1 0 0.86 0a0.43 0.43 0 1 0 -0.86 0M471.31 276.46a0.44 0.44 0 1 0 0.89 0a0.44 0.44 0 1 0 -0.89 0M471.75 271.75a0.43 0.43 0 1 0 0.87 0a0.43 0.43 0 1 0 -0.87 0M469.84 187.77a0.54 0.54 0 1 0 1.08 0a0.54 0.54 0 1 0 -1.08 0M470.22 199.58a0.63 0.63 0 1 0 1.26 0a0.63 0.63 0 1 0 -1.26 0M472.77 258.26a0.47 0.47 0 1 0 0.95 0a0.47 0.47 0 1 0 -0.95 0M475.42 250.27a0.56 0.56 0 1 0 1.12 0a0.56 0.56 0 1 0 -1.12 0M472.88 206.96a0.63 0.63 0 1 0 1.26 0a0.63 0.63 0 1 0 -1.26 0M472.64 197.42a0.47 0.47 0 1 0 0.94 0a0.47 0.47 0 1 0 -0.94 0M473.51 198.86a0.41 0.41 0 1 0 0.81 0a0.41 0.41 0 1 0 -0.81 0M474.25 231.8a0.51 0.51 0 1 0 1.01 0a0.51 0.51 0 1 0 -1.01 0M471.78 298.68a0.39 0.39 0 1 0 0.78 0a0.39 0.39 0 1 0 -0.78 0M467.46 147.53a0.47 0.47 0 1 0 0.95 0a0.47 0.47 0 1 0 -0.95 0M471.68 240.13a0.47 0.47 0 1 0 0.94 0a0.47 0.47 0 1 0 -0.94 0M470.34 185.13a0.6 0.6 0 1 0 1.21 0a0.6 0.6 0 1 0 -1.21 0M473.3 287.27a0.4 0.4 0 1 0 0.79 0a0.4 0.4 0 1 0 -0.79 0M471.7 272.02a0.5 0.5 0 1 0 1 0a0.5 0.5 0 1 0 -1 0M474.53 298.2a0.57 0.57 0 1 0 1.15 0a0.57 0.57 0 1 0 -1.15 0M473.49 252.98a0.61 0.61 0 1 0 1.23 0a0.61 0.61 0 1 0 -1.23 0M472.18 246.37a0.43 0.43 0 1 0 0.87 0a0.43 0.43 0 1 0 -0.87 0M473.74 184.99a0.41 0.41 0 1 0 0.83 0a0.41 0.41 0 1 0 -0.83 0M465.91 152.58a0.55 0.55 0 1 0 1.11 0a0.55 0.55 0 1 0 -1.11 0M475.62 280.7a0.46 0.46 0 1 0 0.92 0a0.46 0.46 0 1 0 -0.92 0M471.95 148.66a0.6 0.6 0 1 0 1.2 0a0.6 0.6 0 1 0 -1.2 0M467.22 136.22a0.54 0.54 0 1 0 1.08 0a0.54 0.54 0 1 0 -1.08 0M470.34 281.65a0.36 0.36 0 1 0 0.72 0a0.36 0.36 0 1 0 -0.72 0M470.29 175.01a0.59 0.59 0 1 0 1.18 0a0.59 0.59 0 1 0 -1.18 0M473.59 232.76a0.36 0.36 0 1 0 0.72 0a0.36 0.36 0 1 0 -0.72 0M472.4 241.41a0.47 0.47 0 1 0 0.94 0a0.47 0.47 0 1 0 -0.94 0M469.23 159.79a0.49 0.49 0 1 0 0.97 0a0.49 0.49 0 1 0 -0.97 0M471.85 263.75a0.49 0.49 0 1 0 0.97 0a0.49 0.49 0 1 0 -0.97 0M467.5 169.96a0.47 0.47 0 1 0 0.94 0a0.47 0.47 0 1 0 -0.94 0M466.65 170.73a0.57 0.57 0 1 0 1.14 0a0.57 0.57 0 1 0 -1.14 0M469.8 214.95a0.41 0.41 0 1 0 0.82 0a0.41 0.41 0 1 0 -0.82 0M472.18 171.19a0.43 0.43 0 1 0 0.86 0a0.43 0.43 0 1 0 -0.86 0M470.13 262.45a0.64 0.64 0 1 0 1.28 0a0.64 0.64 0 1 0 -1.28 0M472.54 307.15a0.63 0.63 0 1 0 1.25 0a0.63 0.63 0 1 0 -1.25 0M472.48 265.76a0.37 0.37 0 1 0 0.74 0a0.37 0.37 0 1 0 -0.74 0M465.62 137.95a0.61 0.61 0 1 0 1.22 0a0.61 0.61 0 1 0 -1.22 0M472.41 249.6a0.43 0.43 0 1 0 0.86 0a0.43 0.43 0 1 0 -0.86 0M467.61 165.2a0.54 0.54 0 1 0 1.08 0a0.54 0.54 0 1 0 -1.08 0M463.71 167.29a0.46 0.46 0 1 0 0.91 0a0.46 0.46 0 1 0 -0.91 0M474.62 281.13a0.49 0.49 0 1 0 0.97 0a0.49 0.49 0 1 0 -0.97 0M464.51 154.9a0.4 0.4 0 1 0 0.79 0a0.4 0.4 0 1 0 -0.79 0M472.9 220.85a0.65 0.65 0 1 0 1.29 0a0.65 0.65 0 1 0 -1.29 0M474.78 279.37a0.49 0.49 0 1 0 0.99 0a0.49 0.49 0 1 0 -0.99 0M473.74 158.81a0.38 0.38 0 1 0 0.77 0a0.38 0.38 0 1 0 -0.77 0M470.4 227.49a0.41 0.41 0 1 0 0.83 0a0.41 0.41 0 1 0 -0.83 0M466.2 139.44a0.62 0.62 0 1 0 1.25 0a0.62 0.62 0 1 0 -1.25 0M472.05 306.61a0.64 0.64 0 1 0 1.29 0a0.64 0.64 0 1 0 -1.29 0M474.02 159.81a0.35 0.35 0 1 0 0.71 0a0.35 0.35 0 1 0 -0.71 0M467.85 137.25a0.6 0.6 0 1 0 1.2 0a0.6 0.6 0 1 0 -1.2 0M473.3 219.49a0.36 0.36 0 1 0 0.73 0a0.36 0.36 0 1 0 -0.73 0M474.61 232.23a0.37 0.37 0 1 0 0.74 0a0.37 0.37 0 1 0 -0.74 0M474.39 223.25a0.54 0.54 0 1 0 1.08 0a0.54 0.54 0 1 0 -1.08 0M474.81 204.81a0.38 0.38 0 1 0 0.76 0a0.38 0.38 0 1 0 -0.76 0M470.76 158.44a0.41 0.41 0 1 0 0.82 0a0.41 0.41 0 1 0 -0.82 0M471.26 263.49a0.48 0.48 0 1 0 0.96 0a0.48 0.48 0 1 0 -0.96 0M472.19 178.98a0.54 0.54 0 1 0 1.09 0a0.54 0.54 0 1 0 -1.09 0M472.07 220.93a0.39 0.39 0 1 0 0.79 0a0.39 0.39 0 1 0 -0.79 0M474.87 243.97a0.37 0.37 0 1 0 0.74 0a0.37 0.37 0 1 0 -0.74 0M473.15 284.63a0.54 0.54 0 1 0 1.08 0a0.54 0.54 0 1 0 -1.08 0M471.66 303.9a0.54 0.54 0 1 0 1.08 0a0.54 0.54 0 1 0 -1.08 0M474.97 183.17a0.4 0.4 0 1 0 0.79 0a0.4 0.4 0 1 0 -0.79 0M472.1 169.42a0.59 0.59 0 1 0 1.18 0a0.59 0.59 0 1 0 -1.18 0M474.64 301.37a0.35 0.35 0 1 0 0.7 0a0.35 0.35 0 1 0 -0.7 0M473.9 236.16a0.6 0.6 0 1 0 1.19 0a0.6 0.6 0 1 0 -1.19 0M470.84 280.23a0.37 0.37 0 1 0 0.75 0a0.37 0.37 0 1 0 -0.75 0M473.6 218.45a0.39 0.39 0 1 0 0.77 0a0.39 0.39 0 1 0 -0.77 0M471.44 173.07a0.48 0.48 0 1 0 0.96 0a0.48 0.48 0 1 0 -0.96 0M470.21 199.37a0.38 0.38 0 1 0 0.76 0a0.38 0.38 0 1 0 -0.76 0M472.34 289.32a0.6 0.6 0 1 0 1.21 0a0.6 0.6 0 1 0 -1.21 0M475.77 274.67a0.35 0.35 0 1 0 0.7 0a0.35 0.35 0 1 0 -0.7 0M464 156.16a0.56 0.56 0 1 0 1.12 0a0.56 0.56 0 1 0 -1.12 0M470.78 229.69a0.49 0.49 0 1 0 0.97 0a0.49 0.49 0 1 0 -0.97 0M471.33 301.38a0.57 0.57 0 1 0 1.14 0a0.57 0.57 0 1 0 -1.14 0M473.19 300.74a0.6 0.6 0 1 0 1.2 0a0.6 0.6 0 1 0 -1.2 0M471.84 289.36a0.48 0.48 0 1 0 0.96 0a0.48 0.48 0 1 0 -0.96 0M474.21 168.13a0.63 0.63 0 1 0 1.27 0a0.63 0.63 0 1 0 -1.27 0M474.93 273.51a0.6 0.6 0 1 0 1.2 0a0.6 0.6 0 1 0 -1.2 0M468.46 139.39a0.42 0.42 0 1 0 0.84 0a0.42 0.42 0 1 0 -0.84 0M474.5 302.19a0.45 0.45 0 1 0 0.9 0a0.45 0.45 0 1 0 -0.9 0M472.84 275.79a0.62 0.62 0 1 0 1.23 0a0.62 0.62 0 1 0 -1.23 0M473.39 231.84a0.38 0.38 0 1 0 0.76 0a0.38 0.38 0 1 0 -0.76 0M473.63 192.34a0.54 0.54 0 1 0 1.08 0a0.54 0.54 0 1 0 -1.08 0M472.05 310.61a0.38 0.38 0 1 0 0.75 0a0.38 0.38 0 1 0 -0.75 0M471.86 270.56a0.58 0.58 0 1 0 1.15 0a0.58 0.58 0 1 0 -1.15 0M475.42 251.97a0.53 0.53 0 1 0 1.05 0a0.53 0.53 0 1 0 -1.05 0M471.44 243.75a0.56 0.56 0 1 0 1.12 0a0.56 0.56 0 1 0 -1.12 0M467.12 147.17a0.37 0.37 0 1 0 0.74 0a0.37 0.37 0 1 0 -0.74 0M464.92 156.02a0.5 0.5 0 1 0 1 0a0.5 0.5 0 1 0 -1 0M475.58 259.98a0.43 0.43 0 1 0 0.86 0a0.43 0.43 0 1 0 -0.86 0M473.07 167.78a0.38 0.38 0 1 0 0.76 0a0.38 0.38 0 1 0 -0.76 0M471.86 216.09a0.57 0.57 0 1 0 1.14 0a0.57 0.57 0 1 0 -1.14 0M473.44 256.93a0.43 0.43 0 1 0 0.87 0a0.43 0.43 0 1 0 -0.87 0M463.1 169.96a0.62 0.62 0 1 0 1.24 0a0.62 0.62 0 1 0 -1.24 0M470.71 255.21a0.4 0.4 0 1 0 0.81 0a0.4 0.4 0 1 0 -0.81 0M464.79 153.17a0.64 0.64 0 1 0 1.29 0a0.64 0.64 0 1 0 -1.29 0M470.52 175.99a0.37 0.37 0 1 0 0.74 0a0.37 0.37 0 1 0 -0.74 0M469.87 155.77a0.42 0.42 0 1 0 0.85 0a0.42 0.42 0 1 0 -0.85 0M473.32 187.21a0.46 0.46 0 1 0 0.93 0a0.46 0.46 0 1 0 -0.93 0M472.98 176.12a0.41 0.41 0 1 0 0.82 0a0.41 0.41 0 1 0 -0.82 0M473.95 178.08a0.36 0.36 0 1 0 0.72 0a0.36 0.36 0 1 0 -0.72 0M468.72 156.56a0.49 0.49 0 1 0 0.98 0a0.49 0.49 0 1 0 -0.98 0M472.32 152.56a0.39 0.39 0 1 0 0.77 0a0.39 0.39 0 1 0 -0.77 0M469.32 167.04a0.42 0.42 0 1 0 0.84 0a0.42 0.42 0 1 0 -0.84 0M468.87 157a0.37 0.37 0 1 0 0.74 0a0.37 0.37 0 1 0 -0.74 0M475.22 235.96a0.37 0.37 0 1 0 0.74 0a0.37 0.37 0 1 0 -0.74 0M470.17 293.02a0.64 0.64 0 1 0 1.28 0a0.64 0.64 0 1 0 -1.28 0M475.26 230.54a0.42 0.42 0 1 0 0.84 0a0.42 0.42 0 1 0 -0.84 0M465.89 150.63a0.43 0.43 0 1 0 0.86 0a0.43 0.43 0 1 0 -0.86 0M474.86 218.98a0.57 0.57 0 1 0 1.14 0a0.57 0.57 0 1 0 -1.14 0M467.12 172.74a0.55 0.55 0 1 0 1.1 0a0.55 0.55 0 1 0 -1.1 0M467.58 157.26a0.65 0.65 0 1 0 1.29 0a0.65 0.65 0 1 0 -1.29 0M469.41 168.16a0.35 0.35 0 1 0 0.71 0a0.35 0.35 0 1 0 -0.71 0M471.6 228.7a0.36 0.36 0 1 0 0.71 0a0.36 0.36 0 1 0 -0.71 0M469.98 177.95a0.5 0.5 0 1 0 1 0a0.5 0.5 0 1 0 -1 0M470.95 253.39a0.39 0.39 0 1 0 0.79 0a0.39 0.39 0 1 0 -0.79 0M473.31 306.66a0.57 0.57 0 1 0 1.14 0a0.57 0.57 0 1 0 -1.14 0M473.95 202.12a0.62 0.62 0 1 0 1.24 0a0.62 0.62 0 1 0 -1.24 0M470.88 298.7a0.37 0.37 0 1 0 0.75 0a0.37 0.37 0 1 0 -0.75 0M465.9 142.1a0.48 0.48 0 1 0 0.96 0a0.48 0.48 0 1 0 -0.96 0M464.82 170.25a0.57 0.57 0 1 0 1.15 0a0.57 0.57 0 1 0 -1.15 0M470.6 305.54a0.47 0.47 0 1 0 0.94 0a0.47 0.47 0 1 0 -0.94 0M475.09 224.62a0.65 0.65 0 1 0 1.3 0a0.65 0.65 0 1 0 -1.3 0M470.95 174.74a0.6 0.6 0 1 0 1.2 0a0.6 0.6 0 1 0 -1.2 0M468.81 176.53a0.64 0.64 0 1 0 1.28 0a0.64 0.64 0 1 0 -1.28 0" fill="#141414" stroke="none"/>
<path d="M547.8 135.6L547.8 170L542.6 183.8L543.3 316.5L536.8 316.5L536.4 189.5L536.6 163L538.6 150.4L541.4 135.6Z" fill="#b4b4b4" stroke="none"/>
<path d="M538.82 217.76a0.52 0.52 0 1 0 1.04 0a0.52 0.52 0 1 0 -1.04 0M544.09 160.51a0.42 0.42 0 1 0 0.84 0a0.42 0.42 0 1 0 -0.84 0M537.38 309.31a0.39 0.39 0 1 0 0.79 0a0.39 0.39 0 1 0 -0.79 0M537.44 230.07a0.52 0.52 0 1 0 1.05 0a0.52 0.52 0 1 0 -1.05 0M546.09 145.9a0.42 0.42 0 1 0 0.84 0a0.42 0.42 0 1 0 -0.84 0M537.82 241.53a0.49 0.49 0 1 0 0.97 0a0.49 0.49 0 1 0 -0.97 0M540.51 296.31a0.55 0.55 0 1 0 1.1 0a0.55 0.55 0 1 0 -1.1 0M538.99 306.01a0.47 0.47 0 1 0 0.94 0a0.47 0.47 0 1 0 -0.94 0M536.61 301.08a0.38 0.38 0 1 0 0.76 0a0.38 0.38 0 1 0 -0.76 0M536.16 188a0.44 0.44 0 1 0 0.87 0a0.44 0.44 0 1 0 -0.87 0M540.58 231.37a0.6 0.6 0 1 0 1.21 0a0.6 0.6 0 1 0 -1.21 0M541.82 156.69a0.42 0.42 0 1 0 0.85 0a0.42 0.42 0 1 0 -0.85 0M547 170.46a0.37 0.37 0 1 0 0.75 0a0.37 0.37 0 1 0 -0.75 0M538.04 260.8a0.43 0.43 0 1 0 0.85 0a0.43 0.43 0 1 0 -0.85 0M538.59 201.86a0.51 0.51 0 1 0 1.01 0a0.51 0.51 0 1 0 -1.01 0M543.55 148.88a0.57 0.57 0 1 0 1.14 0a0.57 0.57 0 1 0 -1.14 0M535.96 221.59a0.55 0.55 0 1 0 1.11 0a0.55 0.55 0 1 0 -1.11 0M537.87 308.99a0.59 0.59 0 1 0 1.17 0a0.59 0.59 0 1 0 -1.17 0M538.42 213.5a0.64 0.64 0 1 0 1.27 0a0.64 0.64 0 1 0 -1.27 0M538.12 209.61a0.64 0.64 0 1 0 1.28 0a0.64 0.64 0 1 0 -1.28 0M537.44 175.86a0.41 0.41 0 1 0 0.83 0a0.41 0.41 0 1 0 -0.83 0M537.47 209.07a0.48 0.48 0 1 0 0.95 0a0.48 0.48 0 1 0 -0.95 0M536.65 240.95a0.63 0.63 0 1 0 1.27 0a0.63 0.63 0 1 0 -1.27 0M538.04 222.74a0.36 0.36 0 1 0 0.71 0a0.36 0.36 0 1 0 -0.71 0M543.65 164.71a0.46 0.46 0 1 0 0.92 0a0.46 0.46 0 1 0 -0.92 0M538.79 284.22a0.53 0.53 0 1 0 1.06 0a0.53 0.53 0 1 0 -1.06 0M542.76 171.48a0.35 0.35 0 1 0 0.71 0a0.35 0.35 0 1 0 -0.71 0M542.07 266.86a0.43 0.43 0 1 0 0.86 0a0.43 0.43 0 1 0 -0.86 0M538.02 261.49a0.35 0.35 0 1 0 0.7 0a0.35 0.35 0 1 0 -0.7 0M538.46 183.56a0.56 0.56 0 1 0 1.13 0a0.56 0.56 0 1 0 -1.13 0M547.27 139.09a0.38 0.38 0 1 0 0.77 0a0.38 0.38 0 1 0 -0.77 0M537.59 196.27a0.51 0.51 0 1 0 1.01 0a0.51 0.51 0 1 0 -1.01 0M539.56 211.11a0.49 0.49 0 1 0 0.99 0a0.49 0.49 0 1 0 -0.99 0M536.98 164.99a0.38 0.38 0 1 0 0.75 0a0.38 0.38 0 1 0 -0.75 0M538.83 278.83a0.57 0.57 0 1 0 1.14 0a0.57 0.57 0 1 0 -1.14 0M539.89 224.57a0.41 0.41 0 1 0 0.81 0a0.41 0.41 0 1 0 -0.81 0M536.43 163.44a0.56 0.56 0 1 0 1.12 0a0.56 0.56 0 1 0 -1.12 0M540.37 265.31a0.42 0.42 0 1 0 0.84 0a0.42 0.42 0 1 0 -0.84 0M537.07 241.65a0.41 0.41 0 1 0 0.81 0a0.41 0.41 0 1 0 -0.81 0M536.94 255.62a0.52 0.52 0 1 0 1.04 0a0.52 0.52 0 1 0 -1.04 0M537.45 170.46a0.52 0.52 0 1 0 1.05 0a0.52 0.52 0 1 0 -1.05 0M537.21 250.28a0.42 0.42 0 1 0 0.84 0a0.42 0.42 0 1 0 -0.84 0M538.84 212.21a0.51 0.51 0 1 0 1.02 0a0.51 0.51 0 1 0 -1.02 0M544.09 141.19a0.57 0.57 0 1 0 1.13 0a0.57 0.57 0 1 0 -1.13 0M538.38 188.21a0.54 0.54 0 1 0 1.08 0a0.54 0.54 0 1 0 -1.08 0M546.24 172.62a0.44 0.44 0 1 0 0.89 0a0.44 0.44 0 1 0 -0.89 0M537.61 176.54a0.58 0.58 0 1 0 1.16 0a0.58 0.58 0 1 0 -1.16 0M539.36 192.67a0.57 0.57 0 1 0 1.13 0a0.57 0.57 0 1 0 -1.13 0M536.66 245.81a0.38 0.38 0 1 0 0.75 0a0.38 0.38 0 1 0 -0.75 0M536.56 228.54a0.4 0.4 0 1 0 0.79 0a0.4 0.4 0 1 0 -0.79 0M541.28 171.37a0.39 0.39 0 1 0 0.77 0a0.39 0.39 0 1 0 -0.77 0M541.72 229.9a0.46 0.46 0 1 0 0.92 0a0.46 0.46 0 1 0 -0.92 0M544.87 154.81a0.37 0.37 0 1 0 0.74 0a0.37 0.37 0 1 0 -0.74 0M540.39 223.07a0.43 0.43 0 1 0 0.85 0a0.43 0.43 0 1 0 -0.85 0M543.58 175.74a0.45 0.45 0 1 0 0.89 0a0.45 0.45 0 1 0 -0.89 0M541.26 264.46a0.58 0.58 0 1 0 1.16 0a0.58 0.58 0 1 0 -1.16 0M540.01 216.43a0.63 0.63 0 1 0 1.26 0a0.63 0.63 0 1 0 -1.26 0M537.06 218.04a0.54 0.54 0 1 0 1.08 0a0.54 0.54 0 1 0 -1.08 0M537.33 219.88a0.54 0.54 0 1 0 1.07 0a0.54 0.54 0 1 0 -1.07 0M539.24 148a0.58 0.58 0 1 0 1.15 0a0.58 0.58 0 1 0 -1.15 0M537 206.85a0.38 0.38 0 1 0 0.76 0a0.38 0.38 0 1 0 -0.76 0M546.95 144.87a0.44 0.44 0 1 0 0.87 0a0.44 0.44 0 1 0 -0.87 0M544.77 160.03a0.38 0.38 0 1 0 0.76 0a0.38 0.38 0 1 0 -0.76 0M536.7 165.26a0.51 0.51 0 1 0 1.02 0a0.51 0.51 0 1 0 -1.02 0M545.5 166.19a0.4 0.4 0 1 0 0.8 0a0.4 0.4 0 1 0 -0.8 0M539.83 157.9a0.42 0.42 0 1 0 0.85 0a0.42 0.42 0 1 0 -0.85 0M547.05 156.76a0.43 0.43 0 1 0 0.86 0a0.43 0.43 0 1 0 -0.86 0M539.13 219.76a0.56 0.56 0 1 0 1.13 0a0.56 0.56 0 1 0 -1.13 0M544.36 159.05a0.41 0.41 0 1 0 0.82 0a0.41 0.41 0 1 0 -0.82 0M546.73 154.96a0.59 0.59 0 1 0 1.19 0a0.59 0.59 0 1 0 -1.19 0M539.84 180.45a0.43 0.43 0 1 0 0.85 0a0.43 0.43 0 1 0 -0.85 0M541.35 314.79a0.39 0.39 0 1 0 0.79 0a0.39 0.39 0 1 0 -0.79 0M537.92 270.32a0.45 0.45 0 1 0 0.9 0a0.45 0.45 0 1 0 -0.9 0M537.94 211.29a0.6 0.6 0 1 0 1.19 0a0.6 0.6 0 1 0 -1.19 0M538.97 201.78a0.46 0.46 0 1 0 0.92 0a0.46 0.46 0 1 0 -0.92 0M540.04 204.02a0.38 0.38 0 1 0 0.77 0a0.38 0.38 0 1 0 -0.77 0M538.52 300.13a0.47 0.47 0 1 0 0.95 0a0.47 0.47 0 1 0 -0.95 0M538.82 254.26a0.46 0.46 0 1 0 0.93 0a0.46 0.46 0 1 0 -0.93 0M545.46 159.77a0.51 0.51 0 1 0 1.02 0a0.51 0.51 0 1 0 -1.02 0M539.78 284.05a0.45 0.45 0 1 0 0.91 0a0.45 0.45 0 1 0 -0.91 0M545.79 160.76a0.63 0.63 0 1 0 1.26 0a0.63 0.63 0 1 0 -1.26 0M543.23 144.28a0.61 0.61 0 1 0 1.22 0a0.61 0.61 0 1 0 -1.22 0M542.19 218.04a0.45 0.45 0 1 0 0.9 0a0.45 0.45 0 1 0 -0.9 0M539.9 180.71a0.38 0.38 0 1 0 0.76 0a0.38 0.38 0 1 0 -0.76 0M544.36 171.5a0.49 0.49 0 1 0 0.98 0a0.49 0.49 0 1 0 -0.98 0M540.34 280.75a0.64 0.64 0 1 0 1.27 0a0.64 0.64 0 1 0 -1.27 0M539.31 249.98a0.62 0.62 0 1 0 1.24 0a0.62 0.62 0 1 0 -1.24 0M541.19 298.35a0.57 0.57 0 1 0 1.14 0a0.57 0.57 0 1 0 -1.14 0M539.43 293.7a0.52 0.52 0 1 0 1.04 0a0.52 0.52 0 1 0 -1.04 0M537.01 241.88a0.6 0.6 0 1 0 1.2 0a0.6 0.6 0 1 0 -1.2 0M541.84 223.16a0.47 0.47 0 1 0 0.95 0a0.47 0.47 0 1 0 -0.95 0M538.31 201.15a0.46 0.46 0 1 0 0.92 0a0.46 0.46 0 1 0 -0.92 0M537.46 301a0.36 0.36 0 1 0 0.72 0a0.36 0.36 0 1 0 -0.72 0M536.86 230.33a0.6 0.6 0 1 0 1.19 0a0.6 0.6 0 1 0 -1.19 0M538.34 270.34a0.59 0.59 0 1 0 1.18 0a0.59 0.59 0 1 0 -1.18 0M538.25 295.35a0.65 0.65 0 1 0 1.3 0a0.65 0.65 0 1 0 -1.3 0M540.78 204.45a0.56 0.56 0 1 0 1.13 0a0.56 0.56 0 1 0 -1.13 0M546.56 172.09a0.44 0.44 0 1 0 0.88 0a0.44 0.44 0 1 0 -0.88 0M539.74 268.06a0.41 0.41 0 1 0 0.81 0a0.41 0.41 0 1 0 -0.81 0M542.08 226.11a0.55 0.55 0 1 0 1.1 0a0.55 0.55 0 1 0 -1.1 0M537.38 308.66a0.65 0.65 0 1 0 1.3 0a0.65 0.65 0 1 0 -1.3 0M542.39 279.45a0.41 0.41 0 1 0 0.81 0a0.41 0.41 0 1 0 -0.81 0M540.11 302.75a0.41 0.41 0 1 0 0.82 0a0.41 0.41 0 1 0 -0.82 0M536.05 226.48a0.62 0.62 0 1 0 1.24 0a0.62 0.62 0 1 0 -1.24 0M541.71 304.31a0.52 0.52 0 1 0 1.04 0a0.52 0.52 0 1 0 -1.04 0M537.45 249.76a0.59 0.59 0 1 0 1.18 0a0.59 0.59 0 1 0 -1.18 0M540.8 244.52a0.43 0.43 0 1 0 0.86 0a0.43 0.43 0 1 0 -0.86 0M539.04 211.63a0.5 0.5 0 1 0 1.01 0a0.5 0.5 0 1 0 -1.01 0M541.39 152.31a0.35 0.35 0 1 0 0.7 0a0.35 0.35 0 1 0 -0.7 0M539.7 265.29a0.57 0.57 0 1 0 1.15 0a0.57 0.57 0 1 0 -1.15 0M538.6 181.84a0.51 0.51 0 1 0 1.01 0a0.51 0.51 0 1 0 -1.01 0M537.78 244.67a0.62 0.62 0 1 0 1.24 0a0.62 0.62 0 1 0 -1.24 0M538.14 241.52a0.57 0.57 0 1 0 1.13 0a0.57 0.57 0 1 0 -1.13 0M536.52 306.39a0.48 0.48 0 1 0 0.97 0a0.48 0.48 0 1 0 -0.97 0M537.48 218.81a0.54 0.54 0 1 0 1.08 0a0.54 0.54 0 1 0 -1.08 0M538.19 164.77a0.47 0.47 0 1 0 0.95 0a0.47 0.47 0 1 0 -0.95 0M537.87 175.13a0.38 0.38 0 1 0 0.75 0a0.38 0.38 0 1 0 -0.75 0M538.1 192.73a0.5 0.5 0 1 0 1 0a0.5 0.5 0 1 0 -1 0M538.01 222.38a0.48 0.48 0 1 0 0.96 0a0.48 0.48 0 1 0 -0.96 0M538.26 242.69a0.39 0.39 0 1 0 0.79 0a0.39 0.39 0 1 0 -0.79 0M540.52 199.66a0.48 0.48 0 1 0 0.96 0a0.48 0.48 0 1 0 -0.96 0M539.95 260.55a0.47 0.47 0 1 0 0.94 0a0.47 0.47 0 1 0 -0.94 0M537.61 291.96a0.52 0.52 0 1 0 1.04 0a0.52 0.52 0 1 0 -1.04 0M540.54 213.85a0.44 0.44 0 1 0 0.88 0a0.44 0.44 0 1 0 -0.88 0M542.15 255.49a0.57 0.57 0 1 0 1.14 0a0.57 0.57 0 1 0 -1.14 0M546.76 161.89a0.46 0.46 0 1 0 0.92 0a0.46 0.46 0 1 0 -0.92 0M539.76 306.52a0.51 0.51 0 1 0 1.03 0a0.51 0.51 0 1 0 -1.03 0M540.6 168.6a0.38 0.38 0 1 0 0.77 0a0.38 0.38 0 1 0 -0.77 0M536.21 194.07a0.49 0.49 0 1 0 0.99 0a0.49 0.49 0 1 0 -0.99 0M541.43 201.35a0.62 0.62 0 1 0 1.24 0a0.62 0.62 0 1 0 -1.24 0M539.76 231.83a0.63 0.63 0 1 0 1.26 0a0.63 0.63 0 1 0 -1.26 0M539.66 205.63a0.53 0.53 0 1 0 1.07 0a0.53 0.53 0 1 0 -1.07 0M540.16 205.74a0.46 0.46 0 1 0 0.92 0a0.46 0.46 0 1 0 -0.92 0M538.95 195.73a0.6 0.6 0 1 0 1.19 0a0.6 0.6 0 1 0 -1.19 0M537.87 260.41a0.36 0.36 0 1 0 0.71 0a0.36 0.36 0 1 0 -0.71 0M545.17 162.17a0.42 0.42 0 1 0 0.84 0a0.42 0.42 0 1 0 -0.84 0M536.49 183.33a0.57 0.57 0 1 0 1.14 0a0.57 0.57 0 1 0 -1.14 0M546.28 151.81a0.63 0.63 0 1 0 1.26 0a0.63 0.63 0 1 0 -1.26 0M540.77 170.5a0.57 0.57 0 1 0 1.15 0a0.57 0.57 0 1 0 -1.15 0M536.89 293.51a0.58 0.58 0 1 0 1.15 0a0.58 0.58 0 1 0 -1.15 0M542.84 312.3a0.36 0.36 0 1 0 0.72 0a0.36 0.36 0 1 0 -0.72 0M536.11 263.73a0.54 0.54 0 1 0 1.08 0a0.54 0.54 0 1 0 -1.08 0M537.28 164.91a0.4 0.4 0 1 0 0.81 0a0.4 0.4 0 1 0 -0.81 0M540.44 181.42a0.42 0.42 0 1 0 0.84 0a0.42 0.42 0 1 0 -0.84 0M544.04 167.28a0.4 0.4 0 1 0 0.81 0a0.4 0.4 0 1 0 -0.81 0M537.56 199.1a0.57 0.57 0 1 0 1.14 0a0.57 0.57 0 1 0 -1.14 0M536.52 231.52a0.55 0.55 0 1 0 1.11 0a0.55 0.55 0 1 0 -1.11 0M536.2 215.12a0.59 0.59 0 1 0 1.17 0a0.59 0.59 0 1 0 -1.17 0M539.61 207.22a0.63 0.63 0 1 0 1.27 0a0.63 0.63 0 1 0 -1.27 0M542.39 161.37a0.4 0.4 0 1 0 0.81 0a0.4 0.4 0 1 0 -0.81 0M540.42 260.54a0.35 0.35 0 1 0 0.7 0a0.35 0.35 0 1 0 -0.7 0M541.68 136.61a0.59 0.59 0 1 0 1.18 0a0.59 0.59 0 1 0 -1.18 0M540.6 256.68a0.52 0.52 0 1 0 1.04 0a0.52 0.52 0 1 0 -1.04 0M539.58 203.73a0.43 0.43 0 1 0 0.86 0a0.43 0.43 0 1 0 -0.86 0M539.6 272.64a0.43 0.43 0 1 0 0.86 0a0.43 0.43 0 1 0 -0.86 0M542.76 164.26a0.61 0.61 0 1 0 1.21 0a0.61 0.61 0 1 0 -1.21 0M541.34 185.37a0.63 0.63 0 1 0 1.25 0a0.63 0.63 0 1 0 -1.25 0M536.77 303.88a0.58 0.58 0 1 0 1.15 0a0.58 0.58 0 1 0 -1.15 0M537.58 273.27a0.52 0.52 0 1 0 1.04 0a0.52 0.52 0 1 0 -1.04 0M540.89 304.44a0.38 0.38 0 1 0 0.75 0a0.38 0.38 0 1 0 -0.75 0M544.83 154.21a0.43 0.43 0 1 0 0.87 0a0.43 0.43 0 1 0 -0.87 0M537.21 293.21a0.48 0.48 0 1 0 0.97 0a0.48 0.48 0 1 0 -0.97 0M536.95 224.94a0.57 0.57 0 1 0 1.13 0a0.57 0.57 0 1 0 -1.13 0M538.41 253.97a0.43 0.43 0 1 0 0.87 0a0.43 0.43 0 1 0 -0.87 0M539.99 302.02a0.63 0.63 0 1 0 1.27 0a0.63 0.63 0 1 0 -1.27 0M542.34 281.86a0.58 0.58 0 1 0 1.16 0a0.58 0.58 0 1 0 -1.16 0M541.13 291.82a0.47 0.47 0 1 0 0.94 0a0.47 0.47 0 1 0 -0.94 0M537.36 271.11a0.39 0.39 0 1 0 0.79 0a0.39 0.39 0 1 0 -0.79 0M543.5 145.28a0.65 0.65 0 1 0 1.29 0a0.65 0.65 0 1 0 -1.29 0M542.18 269.54a0.39 0.39 0 1 0 0.78 0a0.39 0.39 0 1 0 -0.78 0M538.88 283.02a0.36 0.36 0 1 0 0.72 0a0.36 0.36 0 1 0 -0.72 0M541.24 151.32a0.61 0.61 0 1 0 1.21 0a0.61 0.61 0 1 0 -1.21 0M546.09 141.82a0.49 0.49 0 1 0 0.98 0a0.49 0.49 0 1 0 -0.98 0M541.18 265.61a0.57 0.57 0 1 0 1.14 0a0.57 0.57 0 1 0 -1.14 0M539.91 304.34a0.41 0.41 0 1 0 0.81 0a0.41 0.41 0 1 0 -0.81 0M537.57 282.98a0.39 0.39 0 1 0 0.77 0a0.39 0.39 0 1 0 -0.77 0M538.07 226.08a0.45 0.45 0 1 0 0.9 0a0.45 0.45 0 1 0 -0.9 0M537.78 303.82a0.49 0.49 0 1 0 0.98 0a0.49 0.49 0 1 0 -0.98 0M536.93 300.9a0.59 0.59 0 1 0 1.18 0a0.59 0.59 0 1 0 -1.18 0M538.45 219.42a0.6 0.6 0 1 0 1.19 0a0.6 0.6 0 1 0 -1.19 0M537.71 259.31a0.52 0.52 0 1 0 1.03 0a0.52 0.52 0 1 0 -1.03 0M540.63 165.95a0.39 0.39 0 1 0 0.78 0a0.39 0.39 0 1 0 -0.78 0M541.33 224.81a0.43 0.43 0 1 0 0.86 0a0.43 0.43 0 1 0 -0.86 0M540.01 235.82a0.58 0.58 0 1 0 1.16 0a0.58 0.58 0 1 0 -1.16 0M542.5 164.93a0.62 0.62 0 1 0 1.23 0a0.62 0.62 0 1 0 -1.23 0M539.95 309.22a0.64 0.64 0 1 0 1.29 0a0.64 0.64 0 1 0 -1.29 0M537.36 240.94a0.64 0.64 0 1 0 1.28 0a0.64 0.64 0 1 0 -1.28 0M540.35 234.64a0.44 0.44 0 1 0 0.89 0a0.44 0.44 0 1 0 -0.89 0M536.34 172.61a0.39 0.39 0 1 0 0.77 0a0.39 0.39 0 1 0 -0.77 0M539.12 249.47a0.52 0.52 0 1 0 1.04 0a0.52 0.52 0 1 0 -1.04 0M539.99 307.35a0.54 0.54 0 1 0 1.08 0a0.54 0.54 0 1 0 -1.08 0M542.04 291.64a0.55 0.55 0 1 0 1.1 0a0.55 0.55 0 1 0 -1.1 0M540.07 245.01a0.44 0.44 0 1 0 0.88 0a0.44 0.44 0 1 0 -0.88 0M547.14 147.25a0.35 0.35 0 1 0 0.71 0a0.35 0.35 0 1 0 -0.71 0M542.2 172.82a0.5 0.5 0 1 0 1 0a0.5 0.5 0 1 0 -1 0M537.2 286.98a0.55 0.55 0 1 0 1.1 0a0.55 0.55 0 1 0 -1.1 0M544.17 135.92a0.36 0.36 0 1 0 0.73 0a0.36 0.36 0 1 0 -0.73 0M540.82 310.9a0.44 0.44 0 1 0 0.89 0a0.44 0.44 0 1 0 -0.89 0M542.41 137.2a0.47 0.47 0 1 0 0.95 0a0.47 0.47 0 1 0 -0.95 0M545.39 137.96a0.41 0.41 0 1 0 0.82 0a0.41 0.41 0 1 0 -0.82 0M538.06 286.16a0.38 0.38 0 1 0 0.76 0a0.38 0.38 0 1 0 -0.76 0M539.62 310.42a0.47 0.47 0 1 0 0.94 0a0.47 0.47 0 1 0 -0.94 0M543.75 147.77a0.6 0.6 0 1 0 1.2 0a0.6 0.6 0 1 0 -1.2 0M547.01 155.59a0.57 0.57 0 1 0 1.15 0a0.57 0.57 0 1 0 -1.15 0M539.02 162.36a0.46 0.46 0 1 0 0.92 0a0.46 0.46 0 1 0 -0.92 0M537.72 266.95a0.52 0.52 0 1 0 1.03 0a0.52 0.52 0 1 0 -1.03 0M540.07 298.43a0.43 0.43 0 1 0 0.85 0a0.43 0.43 0 1 0 -0.85 0M537.62 164.21a0.39 0.39 0 1 0 0.79 0a0.39 0.39 0 1 0 -0.79 0M542.71 280.48a0.4 0.4 0 1 0 0.8 0a0.4 0.4 0 1 0 -0.8 0M541.61 239.51a0.52 0.52 0 1 0 1.04 0a0.52 0.52 0 1 0 -1.04 0M540.75 233.94a0.35 0.35 0 1 0 0.71 0a0.35 0.35 0 1 0 -0.71 0M536.64 212.06a0.42 0.42 0 1 0 0.84 0a0.42 0.42 0 1 0 -0.84 0M536.99 221.97a0.47 0.47 0 1 0 0.93 0a0.47 0.47 0 1 0 -0.93 0M539.81 274.01a0.42 0.42 0 1 0 0.83 0a0.42 0.42 0 1 0 -0.83 0M540.93 226.61a0.63 0.63 0 1 0 1.25 0a0.63 0.63 0 1 0 -1.25 0M542.92 168.33a0.37 0.37 0 1 0 0.74 0a0.37 0.37 0 1 0 -0.74 0M536.96 195.59a0.38 0.38 0 1 0 0.75 0a0.38 0.38 0 1 0 -0.75 0M539.29 228.25a0.63 0.63 0 1 0 1.26 0a0.63 0.63 0 1 0 -1.26 0M538.74 163.58a0.44 0.44 0 1 0 0.88 0a0.44 0.44 0 1 0 -0.88 0M539.54 300.2a0.56 0.56 0 1 0 1.12 0a0.56 0.56 0 1 0 -1.12 0M540.93 165.62a0.36 0.36 0 1 0 0.73 0a0.36 0.36 0 1 0 -0.73 0M537.25 288.91a0.54 0.54 0 1 0 1.09 0a0.54 0.54 0 1 0 -1.09 0M537.82 248.7a0.37 0.37 0 1 0 0.74 0a0.37 0.37 0 1 0 -0.74 0M541.8 196.26a0.38 0.38 0 1 0 0.76 0a0.38 0.38 0 1 0 -0.76 0M541.67 166.01a0.55 0.55 0 1 0 1.1 0a0.55 0.55 0 1 0 -1.1 0M540.96 255.22a0.38 0.38 0 1 0 0.75 0a0.38 0.38 0 1 0 -0.75 0M546.27 136.25a0.42 0.42 0 1 0 0.83 0a0.42 0.42 0 1 0 -0.83 0M540.57 171.49a0.38 0.38 0 1 0 0.75 0a0.38 0.38 0 1 0 -0.75 0M539.67 183.76a0.55 0.55 0 1 0 1.1 0a0.55 0.55 0 1 0 -1.1 0M538.38 208.1a0.56 0.56 0 1 0 1.11 0a0.56 0.56 0 1 0 -1.11 0M540.94 163.77a0.37 0.37 0 1 0 0.74 0a0.37 0.37 0 1 0 -0.74 0M541.96 314.8a0.63 0.63 0 1 0 1.25 0a0.63 0.63 0 1 0 -1.25 0M537.04 226.47a0.5 0.5 0 1 0 0.99 0a0.5 0.5 0 1 0 -0.99 0M538.11 256.77a0.5 0.5 0 1 0 1 0a0.5 0.5 0 1 0 -1 0M541.3 161.16a0.5 0.5 0 1 0 0.99 0a0.5 0.5 0 1 0 -0.99 0M537.29 259.65a0.56 0.56 0 1 0 1.12 0a0.56 0.56 0 1 0 -1.12 0M542.63 312.21a0.36 0.36 0 1 0 0.73 0a0.36 0.36 0 1 0 -0.73 0M537.32 193.86a0.37 0.37 0 1 0 0.73 0a0.37 0.37 0 1 0 -0.73 0M539.91 261.41a0.46 0.46 0 1 0 0.92 0a0.46 0.46 0 1 0 -0.92 0M543.05 163.71a0.61 0.61 0 1 0 1.22 0a0.61 0.61 0 1 0 -1.22 0M544.11 156.44a0.46 0.46 0 1 0 0.93 0a0.46 0.46 0 1 0 -0.93 0M543.69 136.26a0.36 0.36 0 1 0 0.73 0a0.36 0.36 0 1 0 -0.73 0M539.78 293.82a0.65 0.65 0 1 0 1.3 0a0.65 0.65 0 1 0 -1.3 0M539.44 300.02a0.59 0.59 0 1 0 1.17 0a0.59 0.59 0 1 0 -1.17 0M538.15 229.44a0.49 0.49 0 1 0 0.99 0a0.49 0.49 0 1 0 -0.99 0M539.74 203.2a0.5 0.5 0 1 0 1.01 0a0.5 0.5 0 1 0 -1.01 0M542.67 175.86a0.43 0.43 0 1 0 0.87 0a0.43 0.43 0 1 0 -0.87 0M541.66 226.75a0.48 0.48 0 1 0 0.95 0a0.48 0.48 0 1 0 -0.95 0M543.46 169.15a0.51 0.51 0 1 0 1.02 0a0.51 0.51 0 1 0 -1.02 0M538.98 274.9a0.56 0.56 0 1 0 1.12 0a0.56 0.56 0 1 0 -1.12 0M538.73 303.04a0.5 0.5 0 1 0 1.01 0a0.5 0.5 0 1 0 -1.01 0M540.21 188.13a0.47 0.47 0 1 0 0.94 0a0.47 0.47 0 1 0 -0.94 0M541.49 267.86a0.41 0.41 0 1 0 0.83 0a0.41 0.41 0 1 0 -0.83 0M541.11 200.35a0.44 0.44 0 1 0 0.88 0a0.44 0.44 0 1 0 -0.88 0M539.93 272.13a0.57 0.57 0 1 0 1.14 0a0.57 0.57 0 1 0 -1.14 0M538.18 177.9a0.59 0.59 0 1 0 1.17 0a0.59 0.59 0 1 0 -1.17 0M539.05 146.61a0.46 0.46 0 1 0 0.92 0a0.46 0.46 0 1 0 -0.92 0M541.74 256.84a0.64 0.64 0 1 0 1.28 0a0.64 0.64 0 1 0 -1.28 0M539.65 155.24a0.59 0.59 0 1 0 1.18 0a0.59 0.59 0 1 0 -1.18 0M540.11 184.42a0.5 0.5 0 1 0 0.99 0a0.5 0.5 0 1 0 -0.99 0M540.96 211.8a0.44 0.44 0 1 0 0.89 0a0.44 0.44 0 1 0 -0.89 0M547.11 168.77a0.4 0.4 0 1 0 0.79 0a0.4 0.4 0 1 0 -0.79 0M539 302.4a0.61 0.61 0 1 0 1.21 0a0.61 0.61 0 1 0 -1.21 0M539.56 289.67a0.62 0.62 0 1 0 1.23 0a0.62 0.62 0 1 0 -1.23 0M540.69 170.39a0.58 0.58 0 1 0 1.16 0a0.58 0.58 0 1 0 -1.16 0M540.05 157.19a0.62 0.62 0 1 0 1.24 0a0.62 0.62 0 1 0 -1.24 0M540.88 207.5a0.53 0.53 0 1 0 1.06 0a0.53 0.53 0 1 0 -1.06 0M540.49 204.21a0.35 0.35 0 1 0 0.71 0a0.35 0.35 0 1 0 -0.71 0M540.19 273.31a0.45 0.45 0 1 0 0.9 0a0.45 0.45 0 1 0 -0.9 0M539.14 171.81a0.61 0.61 0 1 0 1.21 0a0.61 0.61 0 1 0 -1.21 0M539.58 252.17a0.53 0.53 0 1 0 1.06 0a0.53 0.53 0 1 0 -1.06 0M541.8 157.73a0.41 0.41 0 1 0 0.83 0a0.41 0.41 0 1 0 -0.83 0M539.49 210.93a0.46 0.46 0 1 0 0.92 0a0.46 0.46 0 1 0 -0.92 0M546.04 156.58a0.65 0.65 0 1 0 1.29 0a0.65 0.65 0 1 0 -1.29 0M538.72 290.56a0.42 0.42 0 1 0 0.85 0a0.42 0.42 0 1 0 -0.85 0M536.24 279.67a0.59 0.59 0 1 0 1.19 0a0.59 0.59 0 1 0 -1.19 0M538.97 276.01a0.49 0.49 0 1 0 0.99 0a0.49 0.49 0 1 0 -0.99 0M547.19 145.44a0.46 0.46 0 1 0 0.93 0a0.46 0.46 0 1 0 -0.93 0M538.41 248.65a0.58 0.58 0 1 0 1.17 0a0.58 0.58 0 1 0 -1.17 0M540.43 280.26a0.38 0.38 0 1 0 0.76 0a0.38 0.38 0 1 0 -0.76 0M538.88 271.76a0.48 0.48 0 1 0 0.96 0a0.48 0.48 0 1 0 -0.96 0M547.23 152.05a0.49 0.49 0 1 0 0.98 0a0.49 0.49 0 1 0 -0.98 0M540.1 213.86a0.5 0.5 0 1 0 1 0a0.5 0.5 0 1 0 -1 0M539.19 262.59a0.5 0.5 0 1 0 1.01 0a0.5 0.5 0 1 0 -1.01 0M547.09 166.21a0.5 0.5 0 1 0 1.01 0a0.5 0.5 0 1 0 -1.01 0M541.42 202.86a0.61 0.61 0 1 0 1.22 0a0.61 0.61 0 1 0 -1.22 0M538.33 294.36a0.46 0.46 0 1 0 0.91 0a0.46 0.46 0 1 0 -0.91 0M539.71 246.82a0.52 0.52 0 1 0 1.04 0a0.52 0.52 0 1 0 -1.04 0M539 150.88a0.64 0.64 0 1 0 1.27 0a0.64 0.64 0 1 0 -1.27 0M540.06 156.29a0.55 0.55 0 1 0 1.09 0a0.55 0.55 0 1 0 -1.09 0M542.02 194.86a0.45 0.45 0 1 0 0.9 0a0.45 0.45 0 1 0 -0.9 0M540.7 308.7a0.46 0.46 0 1 0 0.92 0a0.46 0.46 0 1 0 -0.92 0M540.43 164.9a0.55 0.55 0 1 0 1.1 0a0.55 0.55 0 1 0 -1.1 0M540.44 177.7a0.59 0.59 0 1 0 1.17 0a0.59 0.59 0 1 0 -1.17 0M541.15 286.09a0.46 0.46 0 1 0 0.92 0a0.46 0.46 0 1 0 -0.92 0M544.35 140.8a0.42 0.42 0 1 0 0.83 0a0.42 0.42 0 1 0 -0.83 0M541.38 171.33a0.4 0.4 0 1 0 0.8 0a0.4 0.4 0 1 0 -0.8 0M538.96 252.2a0.39 0.39 0 1 0 0.78 0a0.39 0.39 0 1 0 -0.78 0M542.89 166.65a0.5 0.5 0 1 0 1.01 0a0.5 0.5 0 1 0 -1.01 0M539.59 235.21a0.39 0.39 0 1 0 0.78 0a0.39 0.39 0 1 0 -0.78 0M541.52 247.14a0.39 0.39 0 1 0 0.78 0a0.39 0.39 0 1 0 -0.78 0M539.41 258.36a0.51 0.51 0 1 0 1.03 0a0.51 0.51 0 1 0 -1.03 0M542.43 175.79a0.48 0.48 0 1 0 0.97 0a0.48 0.48 0 1 0 -0.97 0M540.92 311.04a0.6 0.6 0 1 0 1.19 0a0.6 0.6 0 1 0 -1.19 0M543.31 154.86a0.53 0.53 0 1 0 1.07 0a0.53 0.53 0 1 0 -1.07 0M536.14 304.54a0.64 0.64 0 1 0 1.28 0a0.64 0.64 0 1 0 -1.28 0M545.44 167.65a0.6 0.6 0 1 0 1.2 0a0.6 0.6 0 1 0 -1.2 0M541.72 138.45a0.62 0.62 0 1 0 1.23 0a0.62 0.62 0 1 0 -1.23 0M540.86 285.78a0.56 0.56 0 1 0 1.11 0a0.56 0.56 0 1 0 -1.11 0M542.06 291.61a0.41 0.41 0 1 0 0.82 0a0.41 0.41 0 1 0 -0.82 0M536.33 196.49a0.37 0.37 0 1 0 0.74 0a0.37 0.37 0 1 0 -0.74 0M536.84 248.51a0.39 0.39 0 1 0 0.77 0a0.39 0.39 0 1 0 -0.77 0M537.79 188.53a0.43 0.43 0 1 0 0.87 0a0.43 0.43 0 1 0 -0.87 0M540.98 279.56a0.43 0.43 0 1 0 0.87 0a0.43 0.43 0 1 0 -0.87 0M544.37 176.78a0.38 0.38 0 1 0 0.75 0a0.38 0.38 0 1 0 -0.75 0M537.55 262.11a0.49 0.49 0 1 0 0.98 0a0.49 0.49 0 1 0 -0.98 0M538.21 308.6a0.43 0.43 0 1 0 0.87 0a0.43 0.43 0 1 0 -0.87 0M538.76 261.33a0.47 0.47 0 1 0 0.94 0a0.47 0.47 0 1 0 -0.94 0M538.32 174.9a0.64 0.64 0 1 0 1.27 0a0.64 0.64 0 1 0 -1.27 0M540.1 227.83a0.5 0.5 0 1 0 1 0a0.5 0.5 0 1 0 -1 0M536.13 271.92a0.57 0.57 0 1 0 1.15 0a0.57 0.57 0 1 0 -1.15 0M538.22 198.45a0.57 0.57 0 1 0 1.14 0a0.57 0.57 0 1 0 -1.14 0M541.76 163.47a0.63 0.63 0 1 0 1.25 0a0.63 0.63 0 1 0 -1.25 0M541.19 227.28a0.59 0.59 0 1 0 1.17 0a0.59 0.59 0 1 0 -1.17 0M538.2 266.3a0.46 0.46 0 1 0 0.91 0a0.46 0.46 0 1 0 -0.91 0M545.23 152.67a0.43 0.43 0 1 0 0.87 0a0.43 0.43 0 1 0 -0.87 0M540.28 240.28a0.42 0.42 0 1 0 0.83 0a0.42 0.42 0 1 0 -0.83 0M540.8 135.94a0.59 0.59 0 1 0 1.18 0a0.59 0.59 0 1 0 -1.18 0M538.78 285.88a0.52 0.52 0 1 0 1.03 0a0.52 0.52 0 1 0 -1.03 0M537.39 276.2a0.44 0.44 0 1 0 0.88 0a0.44 0.44 0 1 0 -0.88 0M540.74 257.41a0.64 0.64 0 1 0 1.27 0a0.64 0.64 0 1 0 -1.27 0M538.08 153.82a0.47 0.47 0 1 0 0.95 0a0.47 0.47 0 1 0 -0.95 0M541.79 162.57a0.42 0.42 0 1 0 0.83 0a0.42 0.42 0 1 0 -0.83 0M537.57 168.7a0.52 0.52 0 1 0 1.05 0a0.52 0.52 0 1 0 -1.05 0M538.05 221.54a0.51 0.51 0 1 0 1.02 0a0.51 0.51 0 1 0 -1.02 0M540.81 226.72a0.6 0.6 0 1 0 1.2 0a0.6 0.6 0 1 0 -1.2 0M541.95 174.97a0.58 0.58 0 1 0 1.17 0a0.58 0.58 0 1 0 -1.17 0M539.47 267.1a0.42 0.42 0 1 0 0.84 0a0.42 0.42 0 1 0 -0.84 0M542.47 252.86a0.46 0.46 0 1 0 0.92 0a0.46 0.46 0 1 0 -0.92 0M541.33 147.4a0.54 0.54 0 1 0 1.09 0a0.54 0.54 0 1 0 -1.09 0M543.77 163.35a0.52 0.52 0 1 0 1.03 0a0.52 0.52 0 1 0 -1.03 0M544.16 153.89a0.6 0.6 0 1 0 1.2 0a0.6 0.6 0 1 0 -1.2 0M545.9 144.73a0.42 0.42 0 1 0 0.85 0a0.42 0.42 0 1 0 -0.85 0M536.98 181.31a0.38 0.38 0 1 0 0.75 0a0.38 0.38 0 1 0 -0.75 0M541.54 180.89a0.44 0.44 0 1 0 0.88 0a0.44 0.44 0 1 0 -0.88 0M541.07 202.81a0.59 0.59 0 1 0 1.17 0a0.59 0.59 0 1 0 -1.17 0M544.22 156.24a0.42 0.42 0 1 0 0.83 0a0.42 0.42 0 1 0 -0.83 0M536.11 195.17a0.38 0.38 0 1 0 0.76 0a0.38 0.38 0 1 0 -0.76 0M536.34 272.53a0.47 0.47 0 1 0 0.95 0a0.47 0.47 0 1 0 -0.95 0M539.33 148.75a0.63 0.63 0 1 0 1.27 0a0.63 0.63 0 1 0 -1.27 0M541.76 215.32a0.48 0.48 0 1 0 0.96 0a0.48 0.48 0 1 0 -0.96 0M541.35 167.83a0.47 0.47 0 1 0 0.94 0a0.47 0.47 0 1 0 -0.94 0M541.24 239.59a0.42 0.42 0 1 0 0.85 0a0.42 0.42 0 1 0 -0.85 0M542.38 292.03a0.37 0.37 0 1 0 0.75 0a0.37 0.37 0 1 0 -0.75 0M539.96 294.91a0.64 0.64 0 1 0 1.29 0a0.64 0.64 0 1 0 -1.29 0M541.32 159.29a0.44 0.44 0 1 0 0.88 0a0.44 0.44 0 1 0 -0.88 0M538.19 251.85a0.55 0.55 0 1 0 1.09 0a0.55 0.55 0 1 0 -1.09 0M543.42 139.56a0.48 0.48 0 1 0 0.96 0a0.48 0.48 0 1 0 -0.96 0M539.65 243.63a0.45 0.45 0 1 0 0.9 0a0.45 0.45 0 1 0 -0.9 0M537.43 256.87a0.44 0.44 0 1 0 0.87 0a0.44 0.44 0 1 0 -0.87 0M542.24 281.79a0.38 0.38 0 1 0 0.77 0a0.38 0.38 0 1 0 -0.77 0M544.1 147.93a0.63 0.63 0 1 0 1.26 0a0.63 0.63 0 1 0 -1.26 0M536.23 266.58a0.46 0.46 0 1 0 0.92 0a0.46 0.46 0 1 0 -0.92 0M537.95 207.05a0.5 0.5 0 1 0 1 0a0.5 0.5 0 1 0 -1 0M540.62 157.73a0.51 0.51 0 1 0 1.01 0a0.51 0.51 0 1 0 -1.01 0M539.36 310.57a0.46 0.46 0 1 0 0.93 0a0.46 0.46 0 1 0 -0.93 0M540.72 176.85a0.64 0.64 0 1 0 1.28 0a0.64 0.64 0 1 0 -1.28 0M539.47 252.51a0.6 0.6 0 1 0 1.2 0a0.6 0.6 0 1 0 -1.2 0M540.45 272.24a0.43 0.43 0 1 0 0.87 0a0.43 0.43 0 1 0 -0.87 0M541.11 293.7a0.41 0.41 0 1 0 0.82 0a0.41 0.41 0 1 0 -0.82 0M540.99 273.59a0.43 0.43 0 1 0 0.87 0a0.43 0.43 0 1 0 -0.87 0M537.66 229.53a0.48 0.48 0 1 0 0.96 0a0.48 0.48 0 1 0 -0.96 0M538.64 237.06a0.47 0.47 0 1 0 0.95 0a0.47 0.47 0 1 0 -0.95 0M536.16 215.98a0.62 0.62 0 1 0 1.25 0a0.62 0.62 0 1 0 -1.25 0M539.29 241.63a0.56 0.56 0 1 0 1.13 0a0.56 0.56 0 1 0 -1.13 0M536.74 302.78a0.38 0.38 0 1 0 0.77 0a0.38 0.38 0 1 0 -0.77 0M539.48 265.1a0.36 0.36 0 1 0 0.71 0a0.36 0.36 0 1 0 -0.71 0M540.19 158.51a0.49 0.49 0 1 0 0.98 0a0.49 0.49 0 1 0 -0.98 0M538.56 150.34a0.38 0.38 0 1 0 0.75 0a0.38 0.38 0 1 0 -0.75 0M538.23 229.24a0.39 0.39 0 1 0 0.78 0a0.39 0.39 0 1 0 -0.78 0M538.67 179.19a0.6 0.6 0 1 0 1.2 0a0.6 0.6 0 1 0 -1.2 0M536.56 269.86a0.38 0.38 0 1 0 0.76 0a0.38 0.38 0 1 0 -0.76 0M541.58 169.36a0.48 0.48 0 1 0 0.96 0a0.48 0.48 0 1 0 -0.96 0M539.17 241.55a0.44 0.44 0 1 0 0.88 0a0.44 0.44 0 1 0 -0.88 0M539.16 251.83a0.38 0.38 0 1 0 0.75 0a0.38 0.38 0 1 0 -0.75 0M538.51 156.39a0.5 0.5 0 1 0 1.01 0a0.5 0.5 0 1 0 -1.01 0M541.68 265.76a0.46 0.46 0 1 0 0.92 0a0.46 0.46 0 1 0 -0.92 0M540.67 297.07a0.43 0.43 0 1 0 0.86 0a0.43 0.43 0 1 0 -0.86 0M538.8 282.91a0.53 0.53 0 1 0 1.07 0a0.53 0.53 0 1 0 -1.07 0M538.18 316.05a0.54 0.54 0 1 0 1.09 0a0.54 0.54 0 1 0 -1.09 0M536.9 291.77a0.4 0.4 0 1 0 0.81 0a0.4 0.4 0 1 0 -0.81 0M538.95 247.07a0.41 0.41 0 1 0 0.82 0a0.41 0.41 0 1 0 -0.82 0M541.29 264.69a0.38 0.38 0 1 0 0.76 0a0.38 0.38 0 1 0 -0.76 0M543.44 154.5a0.49 0.49 0 1 0 0.99 0a0.49 0.49 0 1 0 -0.99 0M536.25 170.17a0.64 0.64 0 1 0 1.28 0a0.64 0.64 0 1 0 -1.28 0M540.4 212.45a0.46 0.46 0 1 0 0.92 0a0.46 0.46 0 1 0 -0.92 0M537.9 307.35a0.64 0.64 0 1 0 1.28 0a0.64 0.64 0 1 0 -1.28 0M541.29 287.39a0.42 0.42 0 1 0 0.84 0a0.42 0.42 0 1 0 -0.84 0M539.37 202.25a0.59 0.59 0 1 0 1.18 0a0.59 0.59 0 1 0 -1.18 0M543.64 166.41a0.4 0.4 0 1 0 0.79 0a0.4 0.4 0 1 0 -0.79 0M542.42 173.95a0.45 0.45 0 1 0 0.9 0a0.45 0.45 0 1 0 -0.9 0M537 163.6a0.57 0.57 0 1 0 1.13 0a0.57 0.57 0 1 0 -1.13 0M538.5 288.99a0.45 0.45 0 1 0 0.9 0a0.45 0.45 0 1 0 -0.9 0M539.1 207.02a0.35 0.35 0 1 0 0.71 0a0.35 0.35 0 1 0 -0.71 0M541.01 204.32a0.35 0.35 0 1 0 0.71 0a0.35 0.35 0 1 0 -0.71 0M538.65 181.37a0.36 0.36 0 1 0 0.71 0a0.36 0.36 0 1 0 -0.71 0M537.01 264a0.52 0.52 0 1 0 1.05 0a0.52 0.52 0 1 0 -1.05 0M541.71 180.13a0.44 0.44 0 1 0 0.87 0a0.44 0.44 0 1 0 -0.87 0M537.46 289.03a0.36 0.36 0 1 0 0.71 0a0.36 0.36 0 1 0 -0.71 0M545.15 163.53a0.51 0.51 0 1 0 1.02 0a0.51 0.51 0 1 0 -1.02 0M539.02 207.81a0.41 0.41 0 1 0 0.81 0a0.41 0.41 0 1 0 -0.81 0M539.66 303.45a0.46 0.46 0 1 0 0.92 0a0.46 0.46 0 1 0 -0.92 0M537 195.89a0.56 0.56 0 1 0 1.12 0a0.56 0.56 0 1 0 -1.12 0M541.22 273.02a0.45 0.45 0 1 0 0.89 0a0.45 0.45 0 1 0 -0.89 0M537.06 247.7a0.59 0.59 0 1 0 1.19 0a0.59 0.59 0 1 0 -1.19 0M538.61 259.28a0.62 0.62 0 1 0 1.24 0a0.62 0.62 0 1 0 -1.24 0M537.36 160.16a0.5 0.5 0 1 0 1 0a0.5 0.5 0 1 0 -1 0M539.56 307.35a0.65 0.65 0 1 0 1.3 0a0.65 0.65 0 1 0 -1.3 0M540.94 279.07a0.54 0.54 0 1 0 1.08 0a0.54 0.54 0 1 0 -1.08 0M537.97 311.4a0.4 0.4 0 1 0 0.8 0a0.4 0.4 0 1 0 -0.8 0M536.91 217.47a0.36 0.36 0 1 0 0.71 0a0.36 0.36 0 1 0 -0.71 0M541.24 210.14a0.64 0.64 0 1 0 1.27 0a0.64 0.64 0 1 0 -1.27 0M540.53 289.32a0.58 0.58 0 1 0 1.17 0a0.58 0.58 0 1 0 -1.17 0M542.64 178.62a0.44 0.44 0 1 0 0.88 0a0.44 0.44 0 1 0 -0.88 0M541.46 207.07a0.54 0.54 0 1 0 1.09 0a0.54 0.54 0 1 0 -1.09 0M541.63 194.03a0.53 0.53 0 1 0 1.06 0a0.53 0.53 0 1 0 -1.06 0M540.66 286.93a0.56 0.56 0 1 0 1.12 0a0.56 0.56 0 1 0 -1.12 0M536.11 204.98a0.43 0.43 0 1 0 0.86 0a0.43 0.43 0 1 0 -0.86 0M542.96 147.45a0.51 0.51 0 1 0 1.03 0a0.51 0.51 0 1 0 -1.03 0M540.21 224.6a0.47 0.47 0 1 0 0.94 0a0.47 0.47 0 1 0 -0.94 0M536.97 267.93a0.59 0.59 0 1 0 1.18 0a0.59 0.59 0 1 0 -1.18 0M542.69 156.55a0.53 0.53 0 1 0 1.06 0a0.53 0.53 0 1 0 -1.06 0M544.43 143.88a0.61 0.61 0 1 0 1.23 0a0.61 0.61 0 1 0 -1.23 0M539.24 273.31a0.53 0.53 0 1 0 1.07 0a0.53 0.53 0 1 0 -1.07 0M539.55 233.83a0.63 0.63 0 1 0 1.26 0a0.63 0.63 0 1 0 -1.26 0M542.34 300.85a0.52 0.52 0 1 0 1.04 0a0.52 0.52 0 1 0 -1.04 0M547.22 140.87a0.49 0.49 0 1 0 0.98 0a0.49 0.49 0 1 0 -0.98 0M542.06 267.08a0.64 0.64 0 1 0 1.28 0a0.64 0.64 0 1 0 -1.28 0M535.95 193.56a0.61 0.61 0 1 0 1.23 0a0.61 0.61 0 1 0 -1.23 0M536.72 278.56a0.36 0.36 0 1 0 0.72 0a0.36 0.36 0 1 0 -0.72 0M538.7 204.56a0.42 0.42 0 1 0 0.84 0a0.42 0.42 0 1 0 -0.84 0M542.5 308.26a0.58 0.58 0 1 0 1.17 0a0.58 0.58 0 1 0 -1.17 0M541.83 205.37a0.45 0.45 0 1 0 0.91 0a0.45 0.45 0 1 0 -0.91 0M545.04 167.25a0.52 0.52 0 1 0 1.04 0a0.52 0.52 0 1 0 -1.04 0M536.11 184.57a0.5 0.5 0 1 0 1 0a0.5 0.5 0 1 0 -1 0M546.47 165.12a0.6 0.6 0 1 0 1.2 0a0.6 0.6 0 1 0 -1.2 0M540.3 234.7a0.63 0.63 0 1 0 1.26 0a0.63 0.63 0 1 0 -1.26 0M536.74 195.21a0.4 0.4 0 1 0 0.79 0a0.4 0.4 0 1 0 -0.79 0M537.37 190.52a0.56 0.56 0 1 0 1.12 0a0.56 0.56 0 1 0 -1.12 0M542.43 157.63a0.59 0.59 0 1 0 1.18 0a0.59 0.59 0 1 0 -1.18 0M541.59 161.5a0.6 0.6 0 1 0 1.19 0a0.6 0.6 0 1 0 -1.19 0M545.13 174.81a0.63 0.63 0 1 0 1.26 0a0.63 0.63 0 1 0 -1.26 0M545.24 153.25a0.58 0.58 0 1 0 1.16 0a0.58 0.58 0 1 0 -1.16 0M539.51 286.46a0.63 0.63 0 1 0 1.25 0a0.63 0.63 0 1 0 -1.25 0M539.42 259.24a0.56 0.56 0 1 0 1.11 0a0.56 0.56 0 1 0 -1.11 0M539.03 181.12a0.51 0.51 0 1 0 1.03 0a0.51 0.51 0 1 0 -1.03 0M537.33 291.09a0.62 0.62 0 1 0 1.23 0a0.62 0.62 0 1 0 -1.23 0M538.61 261.73a0.55 0.55 0 1 0 1.1 0a0.55 0.55 0 1 0 -1.1 0M537.21 276.41a0.58 0.58 0 1 0 1.16 0a0.58 0.58 0 1 0 -1.16 0M539.46 153.36a0.43 0.43 0 1 0 0.87 0a0.43 0.43 0 1 0 -0.87 0M545.31 164.47a0.38 0.38 0 1 0 0.76 0a0.38 0.38 0 1 0 -0.76 0M539.98 294.77a0.4 0.4 0 1 0 0.8 0a0.4 0.4 0 1 0 -0.8 0M536.86 271.79a0.38 0.38 0 1 0 0.75 0a0.38 0.38 0 1 0 -0.75 0M543.59 150.7a0.42 0.42 0 1 0 0.85 0a0.42 0.42 0 1 0 -0.85 0M540.71 216.93a0.36 0.36 0 1 0 0.72 0a0.36 0.36 0 1 0 -0.72 0M539.7 179.39a0.59 0.59 0 1 0 1.17 0a0.59 0.59 0 1 0 -1.17 0M542.07 262.12a0.39 0.39 0 1 0 0.78 0a0.39 0.39 0 1 0 -0.78 0M540.36 188.59a0.43 0.43 0 1 0 0.87 0a0.43 0.43 0 1 0 -0.87 0M544.38 174.34a0.45 0.45 0 1 0 0.9 0a0.45 0.45 0 1 0 -0.9 0M539.08 291.9a0.54 0.54 0 1 0 1.08 0a0.54 0.54 0 1 0 -1.08 0M541.25 204.31a0.63 0.63 0 1 0 1.25 0a0.63 0.63 0 1 0 -1.25 0M542.43 291.63a0.43 0.43 0 1 0 0.85 0a0.43 0.43 0 1 0 -0.85 0M538.85 154.25a0.5 0.5 0 1 0 1 0a0.5 0.5 0 1 0 -1 0M544.68 163.92a0.48 0.48 0 1 0 0.96 0a0.48 0.48 0 1 0 -0.96 0M540.14 287.45a0.62 0.62 0 1 0 1.24 0a0.62 0.62 0 1 0 -1.24 0M540.15 157.94a0.54 0.54 0 1 0 1.08 0a0.54 0.54 0 1 0 -1.08 0M541.79 187.66a0.48 0.48 0 1 0 0.97 0a0.48 0.48 0 1 0 -0.97 0M541.12 300.62a0.62 0.62 0 1 0 1.24 0a0.62 0.62 0 1 0 -1.24 0M546.77 160.73a0.63 0.63 0 1 0 1.25 0a0.63 0.63 0 1 0 -1.25 0M540.75 314.85a0.36 0.36 0 1 0 0.72 0a0.36 0.36 0 1 0 -0.72 0M540.25 285.51a0.41 0.41 0 1 0 0.83 0a0.41 0.41 0 1 0 -0.83 0M540.5 171.16a0.59 0.59 0 1 0 1.18 0a0.59 0.59 0 1 0 -1.18 0M544.09 151.7a0.64 0.64 0 1 0 1.29 0a0.64 0.64 0 1 0 -1.29 0M538.45 203.48a0.47 0.47 0 1 0 0.95 0a0.47 0.47 0 1 0 -0.95 0M542.34 296.65a0.63 0.63 0 1 0 1.27 0a0.63 0.63 0 1 0 -1.27 0M541.83 241.1a0.48 0.48 0 1 0 0.97 0a0.48 0.48 0 1 0 -0.97 0M540 211.24a0.4 0.4 0 1 0 0.8 0a0.4 0.4 0 1 0 -0.8 0M542.16 212.63a0.43 0.43 0 1 0 0.85 0a0.43 0.43 0 1 0 -0.85 0M539.51 224.89a0.48 0.48 0 1 0 0.97 0a0.48 0.48 0 1 0 -0.97 0M537.63 198.16a0.58 0.58 0 1 0 1.17 0a0.58 0.58 0 1 0 -1.17 0M542.16 232a0.36 0.36 0 1 0 0.73 0a0.36 0.36 0 1 0 -0.73 0M536.6 256.36a0.56 0.56 0 1 0 1.11 0a0.56 0.56 0 1 0 -1.11 0M540.14 301.86a0.6 0.6 0 1 0 1.19 0a0.6 0.6 0 1 0 -1.19 0M539.33 147.71a0.52 0.52 0 1 0 1.03 0a0.52 0.52 0 1 0 -1.03 0M543.5 176.19a0.36 0.36 0 1 0 0.73 0a0.36 0.36 0 1 0 -0.73 0M541.38 141.78a0.57 0.57 0 1 0 1.14 0a0.57 0.57 0 1 0 -1.14 0M541.08 177.74a0.41 0.41 0 1 0 0.81 0a0.41 0.41 0 1 0 -0.81 0M537.98 283.15a0.49 0.49 0 1 0 0.97 0a0.49 0.49 0 1 0 -0.97 0M542.16 170.09a0.64 0.64 0 1 0 1.28 0a0.64 0.64 0 1 0 -1.28 0M543.23 153.72a0.45 0.45 0 1 0 0.9 0a0.45 0.45 0 1 0 -0.9 0M538.68 288.12a0.35 0.35 0 1 0 0.71 0a0.35 0.35 0 1 0 -0.71 0M540.88 292.73a0.58 0.58 0 1 0 1.17 0a0.58 0.58 0 1 0 -1.17 0M538.61 263.01a0.44 0.44 0 1 0 0.88 0a0.44 0.44 0 1 0 -0.88 0M540.36 314.06a0.35 0.35 0 1 0 0.71 0a0.35 0.35 0 1 0 -0.71 0" fill="#141414" stroke="none"/>
<path d="M463.6 135.6L463.6 170L470 183.8L470.8 316.5" stroke-width="2.63" fill="none" />
<path d="M547.8 135.6L547.8 170L542.6 183.8L543.3 316.5" stroke-width="2.63" fill="none" />
<path d="M470.4 135.6L473 150.4L475 163L475.6 189.5L476.4 316.5" stroke-width="1.78" fill="none" />
<path d="M475.2 135.6L478 150.4L480.3 163L480.8 189.5L482.4 316.5" stroke-width="1.78" fill="none" />
<path d="M470.61 136.8L475.43 136.8M471.03 139.2L475.88 139.2M471.45 141.6L476.34 141.6M471.88 144L476.79 144M472.3 146.4L477.24 146.4M472.72 148.8L477.7 148.8M473.13 151.2L478.15 151.2M473.51 153.6L478.58 153.6M473.89 156L479.02 156M474.27 158.4L479.46 158.4M474.65 160.8L479.9 160.8M475 163.2L480.3 163.2M475.06 165.6L480.35 165.6M475.11 168L480.39 168M475.17 170.4L480.44 170.4M475.22 172.8L480.48 172.8M475.28 175.2L480.53 175.2M475.33 177.6L480.58 177.6M475.38 180L480.62 180M475.44 182.4L480.67 182.4M475.49 184.8L480.71 184.8M475.55 187.2L480.76 187.2M475.6 189.6L480.8 189.6M475.62 192L480.83 192M475.63 194.4L480.86 194.4M475.65 196.8L480.89 196.8M475.66 199.2L480.92 199.2M475.68 201.6L480.95 201.6M475.69 204L480.98 204M475.71 206.4L481.01 206.4M475.72 208.8L481.04 208.8M475.74 211.2L481.07 211.2M475.75 213.6L481.1 213.6M475.77 216L481.13 216M475.78 218.4L481.16 218.4M475.8 220.8L481.19 220.8M475.81 223.2L481.22 223.2M475.83 225.6L481.25 225.6M475.84 228L481.29 228M475.86 230.4L481.32 230.4M475.87 232.8L481.35 232.8M475.89 235.2L481.38 235.2M475.9 237.6L481.41 237.6M475.92 240L481.44 240M475.93 242.4L481.47 242.4M475.95 244.8L481.5 244.8M475.96 247.2L481.53 247.2M475.98 249.6L481.56 249.6M475.99 252L481.59 252M476.01 254.4L481.62 254.4M476.02 256.8L481.65 256.8M476.04 259.2L481.68 259.2M476.05 261.6L481.71 261.6M476.07 264L481.74 264M476.08 266.4L481.77 266.4M476.1 268.8L481.8 268.8M476.11 271.2L481.83 271.2M476.13 273.6L481.86 273.6M476.14 276L481.89 276M476.16 278.4L481.92 278.4M476.18 280.8L481.95 280.8M476.19 283.2L481.98 283.2M476.21 285.6L482.01 285.6M476.22 288L482.04 288M476.24 290.4L482.07 290.4M476.25 292.8L482.1 292.8M476.27 295.2L482.13 295.2M476.28 297.6L482.16 297.6M476.3 300L482.19 300M476.31 302.4L482.22 302.4M476.33 304.8L482.25 304.8M476.34 307.2L482.28 307.2M476.36 309.6L482.31 309.6M476.37 312L482.34 312M476.39 314.4L482.37 314.4" stroke-width="1.6" fill="none" />
<path d="M541.4 135.6L538.6 150.4L536.6 163L536.4 189.5L536.8 316.5" stroke-width="1.78" fill="none" />
<path d="M536.6 135.6L533.8 150.4L531.6 163L531.2 189.5L531.2 316.5" stroke-width="1.78" fill="none" />
<path d="M541.17 136.8L536.37 136.8M540.72 139.2L535.92 139.2M540.26 141.6L535.46 141.6M539.81 144L535.01 144M539.36 146.4L534.56 146.4M538.9 148.8L534.1 148.8M538.47 151.2L533.66 151.2M538.09 153.6L533.24 153.6M537.71 156L532.82 156M537.33 158.4L532.4 158.4M536.95 160.8L531.98 160.8M536.6 163.2L531.6 163.2M536.58 165.6L531.56 165.6M536.56 168L531.52 168M536.54 170.4L531.49 170.4M536.53 172.8L531.45 172.8M536.51 175.2L531.42 175.2M536.49 177.6L531.38 177.6M536.47 180L531.34 180M536.45 182.4L531.31 182.4M536.44 184.8L531.27 184.8M536.42 187.2L531.23 187.2M536.4 189.6L531.2 189.6M536.41 192L531.2 192M536.42 194.4L531.2 194.4M536.42 196.8L531.2 196.8M536.43 199.2L531.2 199.2M536.44 201.6L531.2 201.6M536.45 204L531.2 204M536.45 206.4L531.2 206.4M536.46 208.8L531.2 208.8M536.47 211.2L531.2 211.2M536.48 213.6L531.2 213.6M536.48 216L531.2 216M536.49 218.4L531.2 218.4M536.5 220.8L531.2 220.8M536.51 223.2L531.2 223.2M536.51 225.6L531.2 225.6M536.52 228L531.2 228M536.53 230.4L531.2 230.4M536.54 232.8L531.2 232.8M536.54 235.2L531.2 235.2M536.55 237.6L531.2 237.6M536.56 240L531.2 240M536.57 242.4L531.2 242.4M536.57 244.8L531.2 244.8M536.58 247.2L531.2 247.2M536.59 249.6L531.2 249.6M536.6 252L531.2 252M536.6 254.4L531.2 254.4M536.61 256.8L531.2 256.8M536.62 259.2L531.2 259.2M536.63 261.6L531.2 261.6M536.63 264L531.2 264M536.64 266.4L531.2 266.4M536.65 268.8L531.2 268.8M536.66 271.2L531.2 271.2M536.66 273.6L531.2 273.6M536.67 276L531.2 276M536.68 278.4L531.2 278.4M536.69 280.8L531.2 280.8M536.7 283.2L531.2 283.2M536.7 285.6L531.2 285.6M536.71 288L531.2 288M536.72 290.4L531.2 290.4M536.73 292.8L531.2 292.8M536.73 295.2L531.2 295.2M536.74 297.6L531.2 297.6M536.75 300L531.2 300M536.76 302.4L531.2 302.4M536.76 304.8L531.2 304.8M536.77 307.2L531.2 307.2M536.78 309.6L531.2 309.6M536.79 312L531.2 312M536.79 314.4L531.2 314.4" stroke-width="1.6" fill="none" />
<rect x="443.8" y="159.4" width="19.2" height="7.2" rx="0" stroke-width="1.71" fill="#fff" />
<path d="M450.6 159.4L450.6 166.6" stroke-width="1.71" />
<path d="M457.4 159.4L457.4 166.6" stroke-width="1.71" />
<path d="M443.2 168L463 168" stroke-width="3.1" />
<path d="M445 169.6L468.6 189.4" stroke-width="3.41" fill="none" />
<path d="M463.6 170L466.5 176" stroke-width="1.24" />
<rect x="548.4" y="159.4" width="17.6" height="7.2" rx="0" stroke-width="1.71" fill="#fff" />
<path d="M554.3 159.4L554.3 166.6" stroke-width="1.71" />
<path d="M560.2 159.4L560.2 166.6" stroke-width="1.71" />
<path d="M548.4 168L566.6 168" stroke-width="3.1" />
<path d="M565.4 169.6L544 189.4" stroke-width="3.41" fill="none" />
<path d="M442 188L474 201.3" stroke-width="0.93" />
<text x="438.8" y="190" font-size="10" text-anchor="middle" >8</text>
<path d="M439.6 251.4L451.3 257" stroke-width="0.93" />
<text x="436.4" y="254" font-size="10" text-anchor="middle" >9</text>
<rect x="449" y="255" width="21.6" height="7.6" rx="0" stroke-width="1.71" fill="#fff" />
<path d="M453.9 255L453.9 262.6" stroke-width="1.55" />
<path d="M448.6 264L470.6 264" stroke-width="3.1" />
<rect x="543.5" y="255" width="21.5" height="7.6" rx="0" stroke-width="1.71" fill="#fff" />
<path d="M549 255L549 262.6" stroke-width="1.55" />
<path d="M554.3 255L554.3 262.6" stroke-width="1.55" />
<path d="M559.6 255L559.6 262.6" stroke-width="1.55" />
<path d="M543.5 264L565.4 264" stroke-width="3.1" />
<path d="M564.4 265.4L545 285" stroke-width="3.1" fill="none" />
<path d="M450.2 265.2L456.8 271" stroke-width="2.63" fill="none" />
<path d="M462.6 274.4L470.6 283" stroke-width="3.1" fill="none" />
<path d="M470.6 256.6L482 256.6" stroke-width="1.55" />
<path d="M531 256.6L543.5 256.6" stroke-width="1.55" />
<path d="M456.8 263.4V300.5L457 302.4L430.9 332.4L423.8 339.4" stroke-width="1.55" fill="none" />
<path d="M462.5 263.4V302.5L443.1 326.7" stroke-width="1.55" fill="none" />
<path d="M441.6 328.6L431 340.2" stroke-width="1.55" fill="none" stroke-dasharray="4 1.6"/>
<path d="M455.6 258.2H461Q464.5 258 466.5 256" stroke-width="1.4" fill="none" />
<path d="M455 255.4L462 262.4" stroke-width="1.4" fill="none" />
<path d="M458.5 255.2L464.6 261.4" stroke-width="1.4" fill="none" />
<path d="M456.8 297L462.5 297" stroke-width="1.24" />
<path d="M456.4 302L462.8 304.4" stroke-width="1.24" />
<path d="M452 307.6L458 310.6" stroke-width="1.24" />
<path d="M447 313.6L452.6 316.4" stroke-width="1.24" />
<circle cx="433.3" cy="329.6" r="1.6" stroke-width="1.55" fill="#141414" />
<clipPath id="c3"><path d="M461.8 308.4L470.8 308.4L470.8 317L484.8 317L489.8 333.6L460.4 333.6Z"/></clipPath>
<path d="M461.8 308.4L470.8 308.4L470.8 317L484.8 317L489.8 333.6L460.4 333.6Z" fill="#fff" stroke="none"/>
<path clip-path="url(#c3)" d="M472.47 290.91L505.19 318.37M469.96 293.89L502.69 321.35M467.45 296.88L500.18 324.34M464.95 299.87L497.67 327.33M462.44 302.86L495.17 330.32M459.93 305.84L492.66 333.3M457.43 308.83L490.15 336.29M454.92 311.82L487.65 339.28M452.41 314.81L485.14 342.27M449.91 317.79L482.63 345.26M447.4 320.78L480.13 348.24M505.19 318.37L477.73 351.09M502.21 315.86L474.75 348.59M499.22 313.35L471.76 346.08M496.23 310.85L468.77 343.57M493.24 308.34L465.78 341.07M490.26 305.83L462.8 338.56M487.27 303.33L459.81 336.05M484.28 300.82L456.82 333.55M481.29 298.31L453.83 331.04M478.31 295.81L450.84 328.53M475.32 293.3L447.86 326.03" stroke-width="1.55"/>
<path d="M461.8 308.4L470.8 308.4L470.8 317L484.8 317L489.8 333.6L460.4 333.6Z" stroke-width="1.71" fill="none" />
<clipPath id="c4"><path d="M556 308.4L543.3 308.4L543.3 317L532 317L527.6 333.6L558.8 333.6Z"/></clipPath>
<path d="M556 308.4L543.3 308.4L543.3 317L532 317L527.6 333.6L558.8 333.6Z" fill="#fff" stroke="none"/>
<path clip-path="url(#c4)" d="M540.48 289.93L574.27 318.28M537.97 292.92L571.76 321.27M535.47 295.91L569.26 324.26M532.96 298.89L566.75 327.24M530.45 301.88L564.24 330.23M527.95 304.87L561.73 333.22M525.44 307.86L559.23 336.21M522.93 310.84L556.72 339.19M520.43 313.83L554.21 342.18M517.92 316.82L551.71 345.17M515.41 319.81L549.2 348.16M512.91 322.79L546.69 351.15M574.27 318.28L545.92 352.07M571.28 315.77L542.93 349.56M568.29 313.27L539.94 347.06M565.31 310.76L536.96 344.55M562.32 308.25L533.97 342.04M559.33 305.75L530.98 339.53M556.34 303.24L527.99 337.03M553.36 300.73L525.01 334.52M550.37 298.23L522.02 332.01M547.38 295.72L519.03 329.51M544.39 293.21L516.04 327M541.41 290.71L513.05 324.49" stroke-width="1.55"/>
<path d="M556 308.4L543.3 308.4L543.3 317L532 317L527.6 333.6L558.8 333.6Z" stroke-width="1.71" fill="none" />
<path d="M483.6 315.4H498.6Q510.5 306.6 522.4 315.4H532.6" stroke-width="2.02" fill="none" />
<path d="M484.6 315.2l0 -1.5M486.65 315.2l0 -1.5M488.7 315.2l0 -1.5M490.75 315.2l0 -1.5M492.8 315.2l0 -1.5M494.85 315.2l0 -1.5M496.9 315.2l0 -1.5M498.95 314.94l0 -1.5M501 313.6l0 -1.5M503.05 312.52l0 -1.5M505.1 311.71l0 -1.5M507.15 311.15l0 -1.5M509.2 310.85l0 -1.5M511.25 310.82l0 -1.5M513.3 311.04l0 -1.5M515.35 311.53l0 -1.5M517.4 312.28l0 -1.5M519.45 313.29l0 -1.5M521.5 314.56l0 -1.5M523.55 315.2l0 -1.5M525.6 315.2l0 -1.5M527.65 315.2l0 -1.5M529.7 315.2l0 -1.5M531.75 315.2l0 -1.5" stroke-width="1.94" fill="none" />
<path d="M483.6 318.4L533 318.4" stroke-width="3.1" />
<path d="M500.4 318.4Q510.5 311.4 520.8 318.4" stroke-width="1.55" fill="none" />
<path d="M503.4 317.2L507.6 317.2L505.5 319.6ZM513.4 317.2L517.6 317.2L515.5 319.6Z" fill="#fff" stroke="#141414" stroke-width="0.7"/>
<path d="M493 319.6L504.5 328.4" stroke-width="3.1" />
<path d="M497.5 319.6L507.5 328.4" stroke-width="1.55" />
<path d="M528.6 319.6L517.4 328.4" stroke-width="3.1" />
<path d="M524 319.6L514.4 328.4" stroke-width="1.55" />
<path d="M520.6 319.6L513 328.4" stroke-width="1.4" />
<path d="M507.4 328.4V322.6Q511 319.6 514.6 322.6V328.4" stroke-width="1.71" fill="none" />
<path d="M510.4 323L510.4 377" stroke-width="1.47" />
<path d="M513 323L513 377" stroke-width="1.47" />
<path d="M490.9 331Q495 328.8 499 328.8H523Q526.6 328.8 529 331" stroke-width="1.55" fill="none" />
<clipPath id="c5"><path d="M441.7 333.6L583.5 333.6L583.5 336.9L441.7 336.9Z"/></clipPath>
<path d="M441.7 333.6L583.5 333.6L583.5 336.9L441.7 336.9Z" fill="#fff" stroke="none"/>
<path clip-path="url(#c5)" d="M409.48 335.25L512.6 232.13M411.32 337.09L514.44 233.97M413.15 338.93L516.28 235.8M414.99 340.77L518.12 237.64M416.83 342.6L519.95 239.48M418.67 344.44L521.79 241.32M420.51 346.28L523.63 243.16M422.35 348.12L525.47 245M424.18 349.96L527.31 246.83M426.02 351.8L529.15 248.67M427.86 353.63L530.98 250.51M429.7 355.47L532.82 252.35M431.54 357.31L534.66 254.19M433.38 359.15L536.5 256.03M435.22 360.99L538.34 257.87M437.05 362.83L540.18 259.7M438.89 364.67L542.02 261.54M440.73 366.5L543.85 263.38M442.57 368.34L545.69 265.22M444.41 370.18L547.53 267.06M446.25 372.02L549.37 268.9M448.08 373.86L551.21 270.73M449.92 375.7L553.05 272.57M451.76 377.53L554.88 274.41M453.6 379.37L556.72 276.25M455.44 381.21L558.56 278.09M457.28 383.05L560.4 279.93M459.12 384.89L562.24 281.77M460.95 386.73L564.08 283.6M462.79 388.57L565.92 285.44M464.63 390.4L567.75 287.28M466.47 392.24L569.59 289.12M468.31 394.08L571.43 290.96M470.15 395.92L573.27 292.8M471.98 397.76L575.11 294.63M473.82 399.6L576.95 296.47M475.66 401.44L578.79 298.31M477.5 403.27L580.62 300.15M479.34 405.11L582.46 301.99M481.18 406.95L584.3 303.83M483.02 408.79L586.14 305.67M484.85 410.63L587.98 307.5M486.69 412.47L589.82 309.34M488.53 414.3L591.65 311.18M490.37 416.14L593.49 313.02M492.21 417.98L595.33 314.86M494.05 419.82L597.17 316.7M495.89 421.66L599.01 318.54M497.72 423.5L600.85 320.37M499.56 425.34L602.69 322.21M501.4 427.17L604.52 324.05M503.24 429.01L606.36 325.89M505.08 430.85L608.2 327.73M506.92 432.69L610.04 329.57M508.75 434.53L611.88 331.4M510.59 436.37L613.72 333.24M512.43 438.2L615.55 335.08" stroke-width="1.2"/>
<path d="M441.7 333.6L583.5 333.6L583.5 336.9L441.7 336.9Z" stroke-width="1.55" fill="none" />
<rect x="491.2" y="332.9" width="36" height="4.6" fill="#fff" stroke="none"/>
<path d="M435.7 282.9L500.2 313" stroke-width="0.93" />
<text x="429.5" y="284.6" font-size="10" text-anchor="middle" >10</text>
<path d="M441 295.2L484 316.4" stroke-width="0.93" />
<text x="434.6" y="299" font-size="10" text-anchor="middle" >11</text>
<path d="M410.8 328.4L453.9 343.9" stroke-width="0.93" />
<text x="405.7" y="331.6" font-size="10" text-anchor="middle" >12</text>
<path d="M411 338.8L431 338.8" stroke-width="1.55" />
<path d="M431 340.4L491 340.4" stroke-width="1.55" />
<path d="M409.4 347.2L491.6 347.2" stroke-width="1.55" />
<rect x="418" y="337.2" width="3.5" height="11.8" fill="#141414" stroke="none"/>
<rect x="435.6" y="338.4" width="2.9" height="10.4" fill="#141414" stroke="none"/>
<path d="M460.6 347.4L460.6 419.6" stroke-width="1.55" />
<path d="M420 419.8L555 419.8" stroke-width="2.02" />
<path d="M557.3 337L557.3 379.4" stroke-width="1.55" />
<path d="M544.5 407L544.5 419.6" stroke-width="1.55" />
<path d="M498 351.8H485.5Q483.7 351.8 483.7 353.6V390.8" stroke-width="1.47" fill="none" />
<path d="M483.7 371H500Q502.8 371 502.8 373.6V390.8H483.7" stroke-width="1.47" fill="none" />
<path d="M460.6 396.4L483.7 396.4" stroke-width="1.47" fill="none" />
<path d="M475.8 390.8L483.7 390.8" stroke-width="1.24" />
<path d="M502.8 390.8L506 390.8" stroke-width="1.4" fill="none" />
<path d="M518.8 393.2L518.8 398.8L533.2 398.8L533.2 406.8L541.1 406.8L541.1 410.5" stroke-width="1.47" fill="none" />
<rect x="494" y="377.4" width="32" height="4.6" rx="2.2" stroke-width="1.55" fill="#fff" />
<path d="M497 379.7L523 379.7" stroke-width="1.86" stroke-dasharray="1.7 1.1"/>
<rect x="506" y="383" width="10.4" height="10.2" rx="0" stroke-width="1.4" fill="none" />
<rect x="507" y="383" width="8.6" height="2.2" fill="#141414" stroke="none"/>
<circle cx="527.1" cy="389.4" r="6.2" stroke-width="2.48" fill="#fff" />
<path d="M523.4 387.4A3.8 3.8 0 0 1 530.8 387.4" stroke-width="1.4" fill="none" />
<path d="M527.1 386L527.1 397.6" stroke-width="2.33" />
<path d="M524.6 392L529.6 392" stroke-width="1.4" />
<path d="M523.8 397.4L530.4 397.4" stroke-width="1.4" />
<path d="M465.6 383.6H474L476 386V394L474 396.4H465.6L463.6 394V386Z" stroke-width="1.55" fill="none" />
<path d="M463.8 386.2L467.4 390L463.8 393.8" stroke-width="1.24" fill="none" />
<path d="M475.8 386.2L472.2 390L475.8 393.8" stroke-width="1.24" fill="none" />
<path d="M467.4 390L472.2 390" stroke-width="1.08" />
<path d="M442.3 390.9L463.4 390.9" stroke-width="0.93" />
<text x="436.4" y="394.3" font-size="10" text-anchor="middle" >14</text>
<path d="M444.3 369.6L494.3 380" stroke-width="0.93" />
<text x="438.4" y="373" font-size="10" text-anchor="middle" >13</text>
<path d="M493.4 340.6L515.6 340.6" stroke-width="1.86" stroke-dasharray="3 1.6"/>
<path d="M501.3 347L515 347" stroke-width="1.86" stroke-dasharray="3 1.6"/>
<path d="M515.6 340.6L515.6 347.6" stroke-width="1.71" stroke-dasharray="3 1.6"/>
<path d="M510 348L510 357" stroke-width="1.71" stroke-dasharray="3 1.6"/>
<path d="M513.2 348L513.2 357" stroke-width="1.71" stroke-dasharray="3 1.6"/>
<path d="M491 330.8L526.6 330.8" stroke-width="1.55" fill="none" />
<path d="M490.9 330.8L490.9 339.8L527 376.9" stroke-width="1.63" fill="none" />
<path d="M529.4 337L529.4 354.6L538.9 365.7" stroke-width="1.55" fill="none" />
<path d="M529.4 351.4L539.7 351.4L539.7 365.7" stroke-width="1.47" fill="none" />
<path d="M527 376.9L538.9 365.7L554.9 376.9L562.8 389.7L570 399.2L570 408.8L575.6 415.2Q577 417 575 418.6L563.4 427.6Q561 429 559.7 427.1L554.9 420L544.5 406.4L535.7 392.8L527 376.9Z" stroke-width="1.63" fill="#fff" />
<path d="M535.7 392.8L554.9 376.9" stroke-width="1.55" />
<path d="M544.5 406.4L562.8 389.7" stroke-width="1.55" />
<path d="M554.9 420L570 408.8" stroke-width="1.55" />
<path d="M571.6 368.9L542.9 375.3" stroke-width="0.93" />
<text x="578.6" y="372.4" font-size="10.5" text-anchor="middle" >15</text>
</g>
<g id="captions">
<text x="167.6" y="517.6" font-size="14" textLength="13.8" lengthAdjust="spacingAndGlyphs" style="font-family:'Liberation Serif','Noto Serif CJK SC',serif;fill:#5c5c5c;stroke:none">图</text>
<text x="183.2" y="518.6" font-size="17.5" textLength="22" lengthAdjust="spacingAndGlyphs" style="fill:#5c5c5c;stroke:#5c5c5c;stroke-width:0.45px">3-1</text>
<text x="213.3" y="516.9" font-size="11" font-weight="bold" textLength="88" lengthAdjust="spacingAndGlyphs" style="font-family:'Liberation Sans','Noto Sans CJK SC',sans-serif;fill:#151515;stroke:none">直筒形机械化竖窑</text>
<text x="158.3" y="532.4" font-size="9.5" font-weight="bold" textLength="157.5" lengthAdjust="spacingAndGlyphs" style="font-family:'Liberation Serif','Noto Serif CJK SC',serif;fill:#151515;stroke:#151515;stroke-width:0.25px">1—烟囱；2—布料器；3—窑炉内衬；</text>
<text x="173.3" y="547.2" font-size="9.2" font-weight="bold" textLength="128.3" lengthAdjust="spacingAndGlyphs" style="font-family:'Liberation Serif','Noto Serif CJK SC',serif;fill:#151515;stroke:#151515;stroke-width:0.25px">4—汽化冷却炉衬；5—出料器</text>
<text x="423" y="470" font-size="13" textLength="12.8" lengthAdjust="spacingAndGlyphs" style="font-family:'Liberation Serif','Noto Serif CJK SC',serif;fill:#5c5c5c;stroke:none">图</text>
<text x="438" y="470.8" font-size="17" textLength="24" lengthAdjust="spacingAndGlyphs" style="fill:#5c5c5c;stroke:#5c5c5c;stroke-width:0.45px">3-2</text>
<text x="473.8" y="471.8" font-size="10.5" font-weight="bold" textLength="74" lengthAdjust="spacingAndGlyphs" style="font-family:'Liberation Sans','Noto Sans CJK SC',sans-serif;fill:#151515;stroke:none">机械化水泥竖窑</text>
<text x="387.5" y="488.3" font-size="9" font-weight="bold" textLength="226.6" lengthAdjust="spacingAndGlyphs" style="font-family:'Liberation Serif','Noto Serif CJK SC',serif;fill:#151515;stroke:#151515;stroke-width:0.2px">1—烟囱；2—钢丝绳防扭器；3—传动装置；4—皮带加</text>
<text x="387.2" y="503.5" font-size="9" font-weight="bold" textLength="227.7" lengthAdjust="spacingAndGlyphs" style="font-family:'Liberation Serif','Noto Serif CJK SC',serif;fill:#151515;stroke:#151515;stroke-width:0.2px">料机；5—撒料溜子；6—窑罩；7—窑体；8—耐火砖；</text>
<text x="387.4" y="518.7" font-size="9" font-weight="bold" textLength="226.6" lengthAdjust="spacingAndGlyphs" style="font-family:'Liberation Serif','Noto Serif CJK SC',serif;fill:#151515;stroke:#151515;stroke-width:0.2px">9—腰风管；10—卸料篦子；11—铸铁窑衬；12—底风</text>
<text x="387.2" y="533.8" font-size="9" font-weight="bold" textLength="150.1" lengthAdjust="spacingAndGlyphs" style="font-family:'Liberation Serif','Noto Serif CJK SC',serif;fill:#151515;stroke:#151515;stroke-width:0.2px">管；13—蜗轮传动装置；14—电动机</text>
<text x="469" y="549" font-size="9" font-weight="bold" textLength="62" lengthAdjust="spacingAndGlyphs" style="font-family:'Liberation Serif','Noto Serif CJK SC',serif;fill:#151515;stroke:#151515;stroke-width:0.2px">置（三道闸门）</text>
</g>
</svg>
</body></html>
